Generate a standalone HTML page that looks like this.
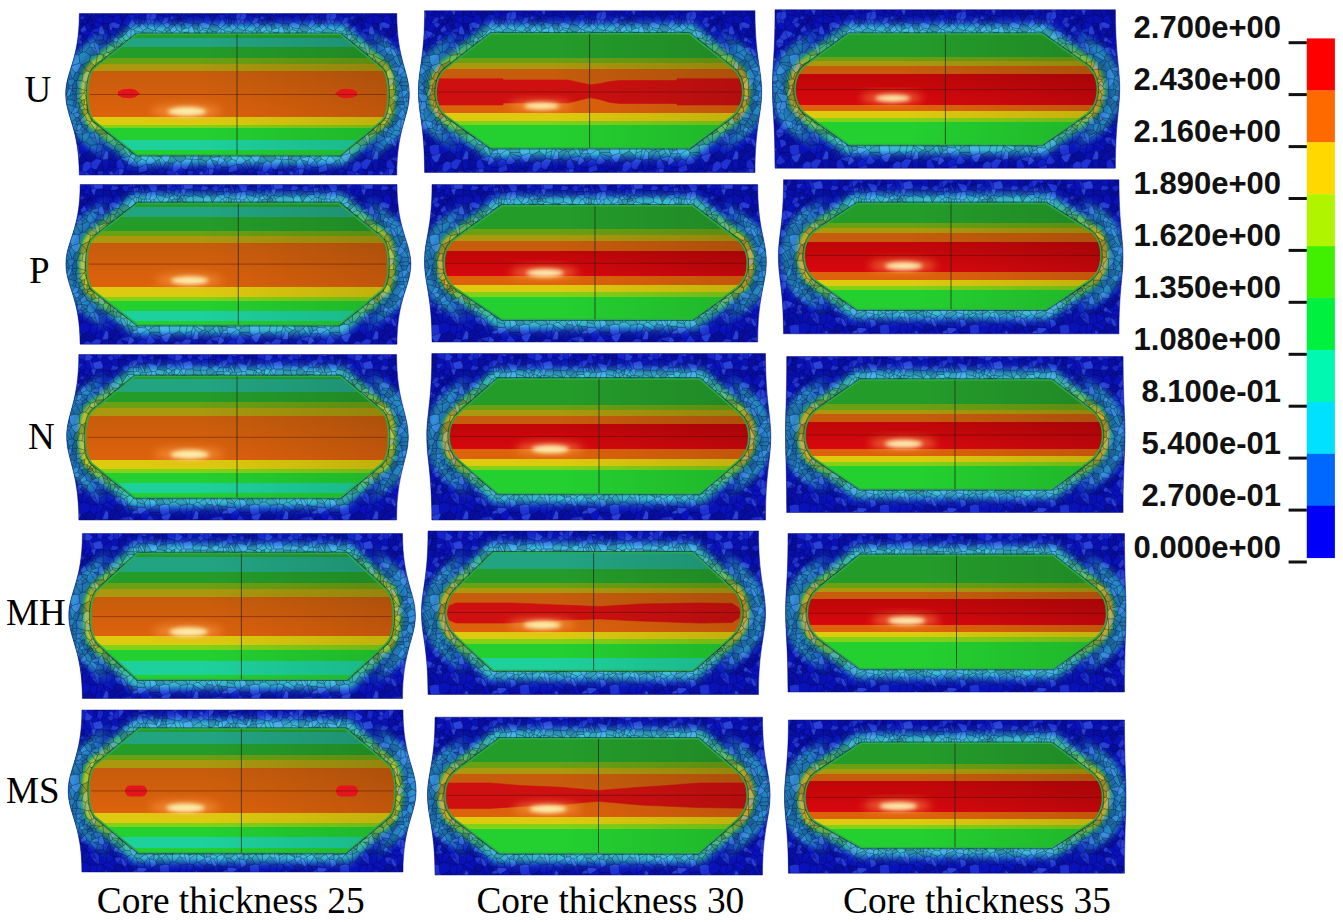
<!DOCTYPE html>
<html><head><meta charset="utf-8"><style>
html,body{margin:0;padding:0;background:#fff;}
body{width:1343px;height:922px;overflow:hidden;font-family:"Liberation Sans",sans-serif;}
svg{display:block;}
</style></head><body>
<svg width="1343" height="922" viewBox="0 0 1343 922">
<defs><pattern id="vor" patternUnits="userSpaceOnUse" width="90" height="90"><path d="M3.2,-3.2L-3.8,-8.1L-4.7,-7.6L-5.1,0.2L-4.8,0.7L-1.6,0.7L-0.2,0.6Z" fill="#5a8cff" fill-opacity="0.35"/><path d="M5.1,65.9L5.8,68.8L1.0,72.5L-3.1,70.9L-8.0,64.8L-0.6,61.1Z" fill="#000020" fill-opacity="0.27"/><path d="M-1.4,19.1L0.1,16.3L-3.0,15.2L-2.8,19.8L-2.6,20.1L-1.6,19.4Z" fill="#000020" fill-opacity="0.19"/><path d="M0.2,32.0L-3.1,30.2L-8.4,32.9L-8.7,34.3L-8.7,34.3L-2.0,35.3L0.2,32.9Z" fill="#000020" fill-opacity="0.02"/><path d="M-7.5,44.5L-7.7,52.2L-4.8,52.0L-0.4,46.2L0.4,43.3L-2.2,41.6L-7.3,44.2Z" fill="#000020" fill-opacity="0.09"/><path d="M-0.3,11.8L0.2,10.0L-3.6,8.0L-5.1,9.6L-5.7,14.4L-3.1,15.1Z" fill="#000020" fill-opacity="0.03"/><path d="M-4.8,90.7L-1.6,90.7L-0.2,90.6L3.2,86.8L-3.8,81.9L-4.7,82.4L-5.1,90.2Z" fill="#5a8cff" fill-opacity="0.35"/><path d="M-5.3,24.9L-5.3,25.3L-3.1,30.2L0.2,32.0L1.1,31.4L1.9,30.0L0.9,25.0L-2.7,23.0Z" fill="#000020" fill-opacity="0.12"/><path d="M-8.1,80.8L-6.9,73.9L-3.1,70.9L1.0,72.5L1.2,77.3L-3.8,81.9L-4.7,82.4Z" fill="#5a8cff" fill-opacity="0.28"/><path d="M0.1,16.3L0.7,16.2L1.3,15.4L-0.3,11.8L-3.1,15.1L-3.0,15.2Z" fill="#000020" fill-opacity="0.04"/><path d="M-10.2,63.1L-11.0,54.8L-9.2,52.9L-7.7,52.2L-4.8,52.0L0.6,55.5L-0.6,61.1L-8.0,64.8L-8.8,64.4Z" fill="#000020" fill-opacity="0.08"/><path d="M3.5,-3.4L6.5,-2.8L10.8,0.1L10.8,0.4L2.7,2.7L-0.2,0.6L3.2,-3.2Z" fill="#000020" fill-opacity="0.08"/><path d="M41.8,1.1L42.4,0.6L40.6,-4.6L39.6,-6.0L36.1,-2.7L35.3,-0.6L36.2,0.2L39.5,1.4Z" fill="#000020" fill-opacity="0.04"/><path d="M47.8,-4.1L46.4,-0.0L42.4,0.6L40.6,-4.6Z" fill="#000020" fill-opacity="0.24"/><path d="M10.8,0.4L13.1,5.5L20.5,1.6L20.8,1.1L16.8,-2.4L12.4,-2.7L10.8,0.1Z" fill="#000020" fill-opacity="0.12"/><path d="M6.6,-3.1L6.5,-2.8L10.8,0.1L12.4,-2.7L13.7,-8.9L13.7,-8.9L8.0,-9.6Z" fill="#5a8cff" fill-opacity="0.16"/><path d="M56.8,-2.9L58.6,-1.7L58.6,-1.2L56.5,2.8L56.5,2.8L55.8,3.0L53.7,2.9L52.0,-4.2Z" fill="#000020" fill-opacity="0.10"/><path d="M81.9,-9.2L85.3,-7.6L84.9,0.2L77.4,-2.0L76.3,-9.3L77.0,-9.4Z" fill="#5a8cff" fill-opacity="0.13"/><path d="M93.2,-3.2L86.2,-8.1L85.3,-7.6L84.9,0.2L85.2,0.7L88.4,0.7L89.8,0.6Z" fill="#5a8cff" fill-opacity="0.35"/><path d="M20.8,1.1L24.0,-1.4L22.8,-3.6L20.6,-4.8L16.8,-2.4Z" fill="#5a8cff" fill-opacity="0.26"/><path d="M66.5,4.6L69.0,-1.4L68.9,-1.6L64.2,-3.1L64.3,-2.0Z" fill="#000020" fill-opacity="0.19"/><path d="M64.3,-2.0L64.2,-3.1L62.1,-5.5L58.6,-1.7L58.6,-1.2L59.9,-0.5L63.2,0.2Z" fill="#5a8cff" fill-opacity="0.15"/><path d="M50.5,3.7L48.2,2.2L46.4,-0.0L47.8,-4.1L49.1,-6.6L50.1,-5.9L52.0,-4.2L53.7,2.9L51.3,3.6Z" fill="#5a8cff" fill-opacity="0.16"/><path d="M72.8,78.9L72.2,78.8L69.2,69.7L71.1,67.6L75.3,72.5Z" fill="#000020" fill-opacity="0.08"/><path d="M48.6,26.2L43.1,29.8L41.0,29.1L40.3,28.4L45.3,23.6L45.6,23.6L47.7,23.7Z" fill="#000020" fill-opacity="0.07"/><path d="M7.6,35.5L3.7,32.3L1.1,31.4L0.2,32.0L0.2,32.9L5.4,40.3L5.5,40.2Z" fill="#5a8cff" fill-opacity="0.09"/><path d="M38.2,5.5L34.7,5.1L36.2,0.2L39.5,1.4Z" fill="#000020" fill-opacity="0.21"/><path d="M-0.2,90.6L3.2,86.8L3.5,86.6L6.5,87.2L10.8,90.1L10.8,90.4L2.7,92.7Z" fill="#000020" fill-opacity="0.08"/><path d="M56.0,18.8L59.6,19.2L61.0,20.2L60.2,22.2L58.1,24.7Z" fill="#5a8cff" fill-opacity="0.29"/><path d="M42.4,90.6L41.8,91.1L39.5,91.4L36.2,90.2L35.3,89.4L36.1,87.3L39.6,84.0L40.6,85.4Z" fill="#000020" fill-opacity="0.04"/><path d="M77.0,80.6L79.5,73.9L83.1,73.9L81.9,80.8Z" fill="#000020" fill-opacity="0.09"/><path d="M31.5,43.9L37.5,46.5L41.6,44.4L39.9,40.9L34.4,40.2L32.4,42.4Z" fill="#000020" fill-opacity="0.04"/><path d="M61.6,11.5L61.9,11.6L65.5,11.5L67.2,9.2L67.4,7.1L66.5,4.9L66.0,4.7L56.5,2.8L56.5,2.8Z" fill="#5a8cff" fill-opacity="0.28"/><path d="M51.7,23.4L49.7,26.7L48.6,26.2L47.7,23.7L48.3,23.0L51.3,23.0Z" fill="#000020" fill-opacity="0.24"/><path d="M84.1,2.9L76.2,4.2L77.1,8.8L79.1,8.6Z" fill="#5a8cff" fill-opacity="0.23"/><path d="M62.3,83.6L58.0,80.5L57.9,80.4L56.7,74.5L60.9,74.6L65.3,81.3Z" fill="#000020" fill-opacity="0.18"/><path d="M21.8,79.7L21.7,80.8L18.5,83.1L14.7,81.0L17.2,79.0Z" fill="#000020" fill-opacity="0.07"/><path d="M84.6,2.6L85.2,0.7L84.9,0.2L77.4,-2.0L76.9,-1.6L76.0,2.3L75.9,3.9L76.2,4.2L84.1,2.9Z" fill="#000020" fill-opacity="0.09"/><path d="M66.5,4.6L64.3,-2.0L63.2,0.2L64.4,3.0L66.0,4.7L66.5,4.9Z" fill="#000020" fill-opacity="0.16"/><path d="M46.7,41.9L47.4,37.2L45.7,36.6L40.8,38.6L40.4,39.1L39.9,40.9L41.6,44.4L44.0,46.1L45.9,44.0Z" fill="#5a8cff" fill-opacity="0.38"/><path d="M17.8,29.8L19.4,32.7L20.0,30.9L18.9,23.8L18.5,23.7Z" fill="#000020" fill-opacity="0.09"/><path d="M75.7,27.5L73.2,23.8L71.4,23.1L65.2,30.1L65.2,30.2L71.6,31.9L74.9,29.6Z" fill="#000020" fill-opacity="0.08"/><path d="M11.8,60.9L10.5,69.4L11.7,69.9L12.0,69.8L15.6,60.1L13.4,56.5Z" fill="#000020" fill-opacity="0.07"/><path d="M39.6,66.4L39.9,66.3L43.8,69.3L44.2,69.7L44.6,70.9L39.7,75.1L37.7,74.9L37.8,71.9Z" fill="#5a8cff" fill-opacity="0.40"/><path d="M18.9,23.8L19.6,23.6L22.2,27.7L22.4,29.5L20.0,30.9Z" fill="#5a8cff" fill-opacity="0.39"/><path d="M75.8,43.5L75.8,44.2L71.9,48.2L69.0,47.0L68.6,45.4L73.1,43.2L75.6,43.1Z" fill="#000020" fill-opacity="0.09"/><path d="M45.1,17.2L42.9,18.8L45.3,23.6L45.6,23.6L47.1,17.5Z" fill="#000020" fill-opacity="0.08"/><path d="M3.2,86.8L-3.8,81.9L1.2,77.3L3.2,79.0L3.5,86.6Z" fill="#000020" fill-opacity="0.03"/><path d="M11.7,69.9L11.7,70.8L6.5,79.8L4.7,79.4L3.2,79.0L1.2,77.3L1.0,72.5L5.8,68.8L10.5,69.4Z" fill="#5a8cff" fill-opacity="0.27"/><path d="M33.2,83.1L28.6,88.4L28.2,89.7L33.5,89.4Z" fill="#000020" fill-opacity="0.04"/><path d="M36.1,87.3L33.5,82.7L34.1,78.8L34.1,78.8L39.8,82.5L39.6,84.0Z" fill="#000020" fill-opacity="0.16"/><path d="M48.6,17.4L51.8,19.2L51.3,23.0L48.3,23.0L48.5,17.5Z" fill="#000020" fill-opacity="0.21"/><path d="M70.0,62.5L69.2,55.7L66.5,54.8L60.9,58.3L58.8,60.4L59.6,62.4Z" fill="#000020" fill-opacity="0.19"/><path d="M59.3,37.9L63.7,40.4L63.5,43.8L56.0,42.6L55.8,41.6Z" fill="#5a8cff" fill-opacity="0.40"/><path d="M24.5,57.1L24.9,59.6L22.7,60.3L13.1,55.0L13.0,54.9L16.6,52.3L18.4,52.5Z" fill="#000020" fill-opacity="0.03"/><path d="M11.8,60.9L10.5,69.4L5.8,68.8L5.1,65.9L5.9,63.2Z" fill="#000020" fill-opacity="0.09"/><path d="M56.7,28.0L53.1,30.5L52.6,31.3L59.3,37.8L63.8,30.6L57.5,27.9Z" fill="#000020" fill-opacity="0.21"/><path d="M74.9,17.1L71.4,22.9L66.5,17.2L66.4,14.1L72.9,15.8Z" fill="#000020" fill-opacity="0.12"/><path d="M31.1,69.6L35.0,76.9L37.7,74.9L37.8,71.9Z" fill="#000020" fill-opacity="0.21"/><path d="M30.5,68.3L30.1,66.8L35.8,62.6L39.1,66.3Z" fill="#000020" fill-opacity="0.16"/><path d="M52.0,85.8L56.8,87.1L55.8,83.8L50.1,84.1Z" fill="#5a8cff" fill-opacity="0.32"/><path d="M91.0,72.5L95.8,68.8L95.1,65.9L89.4,61.1L82.0,64.8L86.9,70.9Z" fill="#000020" fill-opacity="0.27"/><path d="M74.5,10.5L67.2,9.2L65.5,11.5L66.4,14.1L72.9,15.8Z" fill="#000020" fill-opacity="0.12"/><path d="M67.3,80.6L63.5,73.2L60.9,74.6L65.3,81.3L67.2,80.7Z" fill="#000020" fill-opacity="0.13"/><path d="M33.7,48.9L36.8,47.3L37.7,55.3L37.4,55.4L37.0,55.5Z" fill="#5a8cff" fill-opacity="0.11"/><path d="M46.4,90.0L42.4,90.6L40.6,85.4L47.8,85.9Z" fill="#000020" fill-opacity="0.24"/><path d="M24.6,34.6L27.0,31.8L32.3,36.6L28.2,38.5L25.0,36.7Z" fill="#000020" fill-opacity="0.28"/><path d="M0.2,32.9L-2.0,35.3L-3.4,39.5L-2.2,41.6L0.4,43.3L4.0,42.0L4.8,41.4L5.4,40.3Z" fill="#000020" fill-opacity="0.04"/><path d="M62.3,83.6L62.1,84.5L58.6,88.3L56.8,87.1L55.8,83.8L58.0,80.5Z" fill="#000020" fill-opacity="0.09"/><path d="M80.2,30.0L80.2,29.7L84.7,25.3L86.9,30.2L81.6,32.9Z" fill="#5a8cff" fill-opacity="0.33"/><path d="M88.6,19.1L88.4,19.4L87.4,20.1L87.2,19.8L87.0,15.2L90.1,16.3Z" fill="#000020" fill-opacity="0.19"/><path d="M75.4,17.0L74.9,17.1L72.9,15.8L74.5,10.5L75.7,10.5L76.3,11.7Z" fill="#000020" fill-opacity="0.15"/><path d="M36.6,11.6L39.1,7.7L38.2,5.5L34.7,5.1L31.4,7.9L35.2,11.4L36.3,11.9Z" fill="#5a8cff" fill-opacity="0.14"/><path d="M75.1,80.4L72.8,78.9L75.3,72.5L77.9,71.8L79.5,73.9L77.0,80.6L76.3,80.7Z" fill="#000020" fill-opacity="0.22"/><path d="M17.0,43.4L16.6,52.3L13.0,54.9L9.2,54.0L9.4,48.9Z" fill="#000020" fill-opacity="0.11"/><path d="M24.7,47.6L23.3,40.9L23.1,40.8L20.3,41.5L17.5,43.2Z" fill="#000020" fill-opacity="0.25"/><path d="M48.1,11.3L50.6,13.3L53.1,12.2L49.8,6.2L48.5,7.4Z" fill="#000020" fill-opacity="0.21"/><path d="M75.7,27.5L73.2,23.8L77.4,22.3L80.2,24.3L78.0,27.8Z" fill="#5a8cff" fill-opacity="0.29"/><path d="M39.1,7.7L42.7,6.9L41.8,1.1L39.5,1.4L38.2,5.5Z" fill="#5a8cff" fill-opacity="0.13"/><path d="M-1.4,19.1L1.1,17.3L0.7,16.2L0.1,16.3Z" fill="#000020" fill-opacity="0.22"/><path d="M34.1,78.8L28.5,78.8L28.6,88.4L33.2,83.1L33.5,82.7Z" fill="#5a8cff" fill-opacity="0.36"/><path d="M77.3,40.8L82.6,44.1L82.7,44.2L82.5,44.5L75.8,43.5L75.6,43.1L76.1,41.3L76.6,41.0Z" fill="#5a8cff" fill-opacity="0.25"/><path d="M37.7,55.3L37.4,55.4L40.7,64.8L41.5,64.1L43.1,61.0L41.4,56.3L38.8,55.0Z" fill="#000020" fill-opacity="0.25"/><path d="M76.5,31.6L74.9,29.6L75.7,27.5L78.0,27.8L80.2,29.7L80.2,30.0Z" fill="#000020" fill-opacity="0.21"/><path d="M68.0,38.5L72.4,34.3L72.6,38.3L68.2,38.6Z" fill="#5a8cff" fill-opacity="0.11"/><path d="M51.7,69.2L50.2,66.0L50.2,64.3L57.2,59.8L58.8,60.4L59.6,62.4L59.8,63.4L59.7,64.7L56.1,70.9Z" fill="#000020" fill-opacity="0.03"/><path d="M46.9,59.8L48.1,63.3L47.9,63.4L41.5,64.1L43.1,61.0Z" fill="#5a8cff" fill-opacity="0.36"/><path d="M64.4,3.0L59.9,-0.5L63.2,0.2Z" fill="#5a8cff" fill-opacity="0.26"/><path d="M4.0,15.8L3.9,15.7L0.9,9.8L1.9,9.3L3.9,8.6L6.2,9.2L4.4,15.5Z" fill="#5a8cff" fill-opacity="0.39"/><path d="M13.4,22.9L12.9,15.8L13.4,14.2L23.0,17.7L23.4,18.0L23.6,21.8L19.6,23.6L18.9,23.8L18.5,23.7Z" fill="#000020" fill-opacity="0.13"/><path d="M3.9,17.6L5.6,18.7L6.1,22.0L4.3,22.4L2.8,20.7L2.6,18.8Z" fill="#000020" fill-opacity="0.14"/><path d="M57.9,80.4L49.0,83.0L48.3,81.5L48.4,77.8L56.6,74.4L56.7,74.5Z" fill="#5a8cff" fill-opacity="0.24"/><path d="M32.2,31.4L29.1,27.9L28.6,28.6L27.1,31.3L27.0,31.8L32.3,36.6L32.5,36.7L33.2,35.8Z" fill="#000020" fill-opacity="0.22"/><path d="M39.6,66.4L39.9,66.3L40.7,64.8L37.4,55.4L37.0,55.5L34.5,56.7L33.3,58.7L35.8,62.6L39.1,66.3Z" fill="#000020" fill-opacity="0.09"/><path d="M75.1,80.4L72.8,78.9L72.2,78.8L69.5,79.4L67.3,80.6L67.2,80.7L69.2,86.2L72.5,85.2Z" fill="#000020" fill-opacity="0.13"/><path d="M28.5,61.9L33.3,58.7L35.8,62.6L30.1,66.8Z" fill="#000020" fill-opacity="0.15"/><path d="M30.4,68.6L26.3,71.5L26.4,77.1L27.5,78.4L28.5,78.8L34.1,78.8L34.1,78.8L35.0,76.9L31.1,69.6Z" fill="#5a8cff" fill-opacity="0.17"/><path d="M21.8,79.7L17.2,79.0L19.3,75.7L24.7,77.3Z" fill="#000020" fill-opacity="0.21"/><path d="M39.9,66.3L40.7,64.8L41.5,64.1L47.9,63.4L43.8,69.3Z" fill="#000020" fill-opacity="0.06"/><path d="M53.1,30.5L52.6,31.3L51.9,32.0L44.6,30.8L43.1,29.8L48.6,26.2L49.7,26.7Z" fill="#000020" fill-opacity="0.09"/><path d="M41.8,1.1L42.4,0.6L46.4,-0.0L48.2,2.2L43.8,7.3L43.3,7.4L42.7,6.9Z" fill="#5a8cff" fill-opacity="0.26"/><path d="M5.3,48.4L4.0,42.0L0.4,43.3L-0.4,46.2L0.7,47.1Z" fill="#5a8cff" fill-opacity="0.11"/><path d="M48.2,77.5L41.9,77.1L39.7,75.1L44.6,70.9L46.7,72.7Z" fill="#000020" fill-opacity="0.08"/><path d="M7.7,54.2L7.7,54.3L7.5,54.5L0.6,55.5L-4.8,52.0L-0.4,46.2L0.7,47.1Z" fill="#000020" fill-opacity="0.18"/><path d="M44.4,47.0L46.2,48.2L47.4,52.4L46.9,56.4L41.4,56.3L38.8,55.0Z" fill="#000020" fill-opacity="0.08"/><path d="M63.7,49.8L64.2,44.6L67.8,44.6L68.6,45.4L69.0,47.0L65.9,51.7Z" fill="#000020" fill-opacity="0.12"/><path d="M45.9,44.0L44.0,46.1L44.4,47.0L46.2,48.2L50.3,48.1L55.9,43.9L56.0,42.6L55.8,41.6L54.5,40.9Z" fill="#000020" fill-opacity="0.19"/><path d="M55.8,18.7L54.6,19.2L53.8,24.3L56.7,28.0L57.5,27.9L58.1,24.7L56.0,18.8Z" fill="#000020" fill-opacity="0.06"/><path d="M47.6,57.4L46.9,59.8L48.1,63.3L50.2,64.3L57.2,59.8L55.5,57.9Z" fill="#5a8cff" fill-opacity="0.38"/><path d="M20.8,91.1L16.8,87.6L12.4,87.3L10.8,90.1L10.8,90.4L13.1,95.5L20.5,91.6Z" fill="#000020" fill-opacity="0.12"/><path d="M69.2,86.2L67.2,80.7L65.3,81.3L62.3,83.6L62.1,84.5L64.2,86.9L68.9,88.4Z" fill="#000020" fill-opacity="0.26"/><path d="M23.3,40.9L26.0,42.1L27.5,41.7L28.3,39.0L28.2,38.5L25.0,36.7L23.1,40.8Z" fill="#5a8cff" fill-opacity="0.36"/><path d="M20.8,1.1L24.0,-1.4L28.2,-0.3L28.9,6.7L22.2,5.1L20.5,1.6Z" fill="#000020" fill-opacity="0.08"/><path d="M-2.7,23.0L0.9,25.0L3.4,23.6L4.3,22.4L2.8,20.7L-2.4,21.8Z" fill="#000020" fill-opacity="0.15"/><path d="M78.6,13.1L76.3,11.7L75.4,17.0L79.3,18.1L79.7,17.4Z" fill="#000020" fill-opacity="0.09"/><path d="M60.2,22.2L63.9,24.0L64.1,19.5L61.0,20.2Z" fill="#5a8cff" fill-opacity="0.28"/><path d="M3.9,17.6L4.0,15.8L4.4,15.5L9.8,16.3L5.6,18.7Z" fill="#000020" fill-opacity="0.10"/><path d="M55.9,43.9L56.0,42.6L63.5,43.8L63.9,44.4L58.6,48.4L58.2,48.2Z" fill="#5a8cff" fill-opacity="0.31"/><path d="M46.7,41.9L52.2,38.2L54.5,40.9L45.9,44.0Z" fill="#5a8cff" fill-opacity="0.32"/><path d="M24.7,47.6L25.0,47.9L26.3,47.2L26.0,42.1L23.3,40.9Z" fill="#000020" fill-opacity="0.03"/><path d="M79.7,17.4L79.3,18.1L79.3,18.2L81.6,19.9L84.7,18.8L82.9,15.3Z" fill="#5a8cff" fill-opacity="0.20"/><path d="M63.9,24.0L65.2,30.1L71.4,23.1L71.4,22.9L66.5,17.2L64.1,19.5Z" fill="#000020" fill-opacity="0.10"/><path d="M13.1,27.8L17.8,29.8L18.5,23.7L13.4,22.9L12.6,23.8L12.0,25.2Z" fill="#000020" fill-opacity="0.26"/><path d="M8.0,80.4L13.7,81.1L13.7,81.1L12.4,87.3L10.8,90.1L6.5,87.2L6.6,86.9Z" fill="#5a8cff" fill-opacity="0.16"/><path d="M36.3,11.9L35.2,11.4L29.9,16.0L32.3,22.4L37.1,15.2L37.1,14.9Z" fill="#000020" fill-opacity="0.28"/><path d="M-3.6,8.0L-5.4,2.6L-4.8,0.7L-1.6,0.7L1.9,9.3L0.9,9.8L0.2,10.0Z" fill="#000020" fill-opacity="0.04"/><path d="M15.9,41.8L16.5,42.8L17.0,43.2L17.5,43.2L20.3,41.5L20.7,34.1L19.4,33.5Z" fill="#000020" fill-opacity="0.22"/><path d="M58.6,88.8L58.6,88.3L56.8,87.1L52.0,85.8L53.7,92.9L55.8,93.0L56.5,92.8L56.5,92.8Z" fill="#000020" fill-opacity="0.10"/><path d="M79.3,18.2L77.4,22.3L80.2,24.3L83.1,24.1L81.6,19.9Z" fill="#000020" fill-opacity="0.20"/><path d="M58.0,80.5L55.8,83.8L50.1,84.1L49.1,83.4L49.0,83.0L57.9,80.4Z" fill="#000020" fill-opacity="0.23"/><path d="M6.5,79.8L11.7,70.8L13.7,81.1L8.0,80.4Z" fill="#000020" fill-opacity="0.22"/><path d="M30.4,68.6L31.1,69.6L37.8,71.9L39.6,66.4L39.1,66.3L30.5,68.3Z" fill="#5a8cff" fill-opacity="0.23"/><path d="M26.9,53.8L32.6,55.1L34.5,56.7L33.3,58.7L28.5,61.9L26.5,61.1L24.9,59.6L24.5,57.1Z" fill="#000020" fill-opacity="0.24"/><path d="M43.9,12.0L46.5,11.3L46.0,7.8L43.8,7.3L43.3,7.4L43.5,11.6Z" fill="#5a8cff" fill-opacity="0.26"/><path d="M72.2,78.8L69.2,69.7L65.5,71.0L65.3,71.6L69.5,79.4Z" fill="#000020" fill-opacity="0.18"/><path d="M41.0,29.1L40.8,38.6L45.7,36.6L44.6,30.8L43.1,29.8Z" fill="#5a8cff" fill-opacity="0.35"/><path d="M81.3,34.3L81.3,34.3L88.0,35.3L90.2,32.9L90.2,32.0L86.9,30.2L81.6,32.9Z" fill="#000020" fill-opacity="0.02"/><path d="M77.3,40.8L80.0,39.9L82.0,36.7L81.3,34.3L81.3,34.3L77.5,35.0L76.6,41.0Z" fill="#5a8cff" fill-opacity="0.25"/><path d="M36.7,32.1L32.2,31.4L33.2,35.8L35.8,33.9Z" fill="#000020" fill-opacity="0.14"/><path d="M12.0,25.2L8.9,27.9L6.0,28.2L3.4,23.6L4.3,22.4L6.1,22.0L12.6,23.8Z" fill="#000020" fill-opacity="0.03"/><path d="M20.5,1.6L22.2,5.1L20.3,10.2L20.2,10.2L13.6,10.1L12.8,8.7L13.1,5.5Z" fill="#000020" fill-opacity="0.12"/><path d="M46.7,41.9L47.4,37.2L51.0,36.2L52.2,38.2Z" fill="#5a8cff" fill-opacity="0.15"/><path d="M1.3,15.4L3.9,15.7L0.9,9.8L0.2,10.0L-0.3,11.8Z" fill="#000020" fill-opacity="0.06"/><path d="M81.0,12.4L81.4,10.3L84.9,9.6L84.3,14.4L83.2,14.9Z" fill="#000020" fill-opacity="0.24"/><path d="M35.3,89.4L33.5,89.4L33.2,83.1L33.5,82.7L36.1,87.3Z" fill="#000020" fill-opacity="0.13"/><path d="M13.6,39.7L5.5,40.2L7.6,35.5L9.0,34.0L13.2,34.9Z" fill="#000020" fill-opacity="0.09"/><path d="M70.0,5.4L73.4,4.1L72.5,0.3L72.0,-0.6Z" fill="#000020" fill-opacity="0.18"/><path d="M6.5,79.8L8.0,80.4L6.6,86.9L4.7,79.4Z" fill="#000020" fill-opacity="0.28"/><path d="M58.1,24.7L60.2,22.2L63.9,24.0L65.2,30.1L65.2,30.2L64.9,30.4L63.8,30.6L57.5,27.9Z" fill="#000020" fill-opacity="0.03"/><path d="M37.8,25.7L41.7,19.1L42.9,18.8L45.3,23.6L40.3,28.4L40.2,28.4Z" fill="#5a8cff" fill-opacity="0.28"/><path d="M76.3,80.7L77.0,80.6L81.9,80.8L85.3,82.4L84.9,90.2L77.4,88.0Z" fill="#5a8cff" fill-opacity="0.13"/><path d="M9.4,48.9L9.2,54.0L7.7,54.3L7.7,54.2L5.3,48.4L4.0,42.0L4.8,41.4L8.9,45.4Z" fill="#5a8cff" fill-opacity="0.22"/><path d="M13.6,39.7L13.2,34.9L14.9,33.0L19.2,33.3L19.4,33.5L15.9,41.8Z" fill="#000020" fill-opacity="0.06"/><path d="M72.1,65.6L70.0,62.5L59.6,62.4L59.8,63.4L71.2,67.2Z" fill="#000020" fill-opacity="0.18"/><path d="M13.1,27.8L14.9,33.0L19.2,33.3L19.4,32.7L17.8,29.8Z" fill="#000020" fill-opacity="0.19"/><path d="M36.7,32.1L40.2,28.4L40.3,28.4L41.0,29.1L40.8,38.6L40.4,39.1L35.8,33.9Z" fill="#5a8cff" fill-opacity="0.28"/><path d="M65.3,71.6L63.5,73.2L60.9,74.6L56.7,74.5L56.6,74.4L56.1,70.9L59.7,64.7L65.5,71.0Z" fill="#5a8cff" fill-opacity="0.22"/><path d="M28.3,39.0L32.4,42.4L34.4,40.2L32.5,36.7L32.3,36.6L28.2,38.5Z" fill="#000020" fill-opacity="0.04"/><path d="M9.0,34.0L8.6,32.1L3.7,32.3L7.6,35.5Z" fill="#000020" fill-opacity="0.22"/><path d="M82.5,44.5L82.3,52.2L85.2,52.0L89.6,46.2L90.4,43.3L87.8,41.6L82.7,44.2Z" fill="#000020" fill-opacity="0.09"/><path d="M47.6,57.4L55.5,57.9L54.5,54.3L47.4,52.4L46.9,56.4Z" fill="#000020" fill-opacity="0.11"/><path d="M48.4,77.8L56.6,74.4L56.1,70.9L51.7,69.2L46.7,72.7L48.2,77.5Z" fill="#5a8cff" fill-opacity="0.07"/><path d="M22.4,29.5L22.2,27.7L28.6,28.6L27.1,31.3Z" fill="#000020" fill-opacity="0.11"/><path d="M75.8,43.5L75.8,44.2L80.8,52.9L82.3,52.2L82.5,44.5Z" fill="#000020" fill-opacity="0.13"/><path d="M84.9,9.6L86.4,8.0L90.2,10.0L89.7,11.8L86.9,15.1L84.3,14.4Z" fill="#000020" fill-opacity="0.03"/><path d="M67.8,44.6L68.4,39.6L73.1,43.2L68.6,45.4Z" fill="#000020" fill-opacity="0.13"/><path d="M48.4,77.8L48.3,81.5L39.9,82.4L41.9,77.1L48.2,77.5Z" fill="#000020" fill-opacity="0.19"/><path d="M17.0,43.4L9.4,48.9L8.9,45.4L16.5,42.8L17.0,43.2Z" fill="#000020" fill-opacity="0.04"/><path d="M19.4,32.7L19.2,33.3L19.4,33.5L20.7,34.1L24.6,34.6L27.0,31.8L27.1,31.3L22.4,29.5L20.0,30.9Z" fill="#000020" fill-opacity="0.08"/><path d="M72.4,34.3L72.7,33.3L75.8,34.6L72.8,38.4L72.6,38.3Z" fill="#5a8cff" fill-opacity="0.25"/><path d="M66.5,4.6L69.0,-1.4L72.0,-0.9L72.0,-0.6L70.0,5.4L67.4,7.1L66.5,4.9Z" fill="#5a8cff" fill-opacity="0.11"/><path d="M88.4,90.7L85.2,90.7L84.9,90.2L85.3,82.4L86.2,81.9L93.2,86.8L89.8,90.6Z" fill="#5a8cff" fill-opacity="0.35"/><path d="M61.0,20.2L59.6,19.2L61.9,11.6L65.5,11.5L66.4,14.1L66.5,17.2L64.1,19.5Z" fill="#5a8cff" fill-opacity="0.34"/><path d="M55.8,18.7L56.5,12.9L61.6,11.5L61.9,11.6L59.6,19.2L56.0,18.8Z" fill="#5a8cff" fill-opacity="0.30"/><path d="M29.0,7.2L31.4,7.9L34.7,5.1L36.2,0.2L35.3,-0.6L33.5,-0.6L28.2,-0.3L28.2,-0.3L28.9,6.7Z" fill="#000020" fill-opacity="0.24"/><path d="M4.4,15.5L6.2,9.2L12.8,8.7L13.6,10.1L13.4,14.2L12.9,15.8L9.8,16.3Z" fill="#000020" fill-opacity="0.18"/><path d="M12.0,69.8L18.0,69.4L19.3,75.7L17.2,79.0L14.7,81.0L13.7,81.1L13.7,81.1L11.7,70.8L11.7,69.9Z" fill="#000020" fill-opacity="0.13"/><path d="M26.3,71.5L20.8,69.2L18.3,69.2L18.0,69.4L19.3,75.7L24.7,77.3L26.4,77.1Z" fill="#000020" fill-opacity="0.21"/><path d="M2.7,2.7L3.9,8.6L1.9,9.3L-1.6,0.7L-0.2,0.6Z" fill="#5a8cff" fill-opacity="0.20"/><path d="M3.5,86.6L6.5,87.2L6.6,86.9L4.7,79.4L3.2,79.0Z" fill="#000020" fill-opacity="0.04"/><path d="M75.9,3.9L73.4,4.1L72.5,0.3L76.0,2.3Z" fill="#000020" fill-opacity="0.12"/><path d="M87.4,20.1L87.6,21.8L87.3,23.0L84.7,24.9L83.1,24.1L81.6,19.9L84.7,18.8L87.2,19.8Z" fill="#000020" fill-opacity="0.23"/><path d="M26.9,53.4L24.7,48.9L18.4,52.5L24.5,57.1L26.9,53.8Z" fill="#000020" fill-opacity="0.11"/><path d="M22.8,86.4L24.0,88.6L20.8,91.1L16.8,87.6L20.6,85.2Z" fill="#5a8cff" fill-opacity="0.26"/><path d="M30.7,49.9L31.1,48.1L33.7,48.9L37.0,55.5L34.5,56.7L32.6,55.1Z" fill="#5a8cff" fill-opacity="0.35"/><path d="M53.8,24.3L51.7,23.4L49.7,26.7L53.1,30.5L56.7,28.0Z" fill="#5a8cff" fill-opacity="0.36"/><path d="M69.0,88.6L66.5,94.6L64.3,88.0L64.2,86.9L68.9,88.4Z" fill="#000020" fill-opacity="0.19"/><path d="M51.3,3.6L53.7,2.9L55.8,3.0L54.7,11.2Z" fill="#000020" fill-opacity="0.24"/><path d="M72.1,65.6L79.8,63.1L79.0,54.8L74.7,54.2L69.2,55.7L70.0,62.5Z" fill="#5a8cff" fill-opacity="0.24"/><path d="M47.6,57.4L46.9,59.8L43.1,61.0L41.4,56.3L46.9,56.4Z" fill="#000020" fill-opacity="0.21"/><path d="M29.1,27.9L30.2,24.5L23.6,21.8L19.6,23.6L22.2,27.7L28.6,28.6Z" fill="#5a8cff" fill-opacity="0.35"/><path d="M46.0,7.8L43.8,7.3L48.2,2.2L50.5,3.7L49.8,6.2L48.5,7.4Z" fill="#000020" fill-opacity="0.22"/><path d="M55.8,18.7L56.5,12.9L54.7,12.1L53.1,12.2L50.6,13.3L48.6,17.4L51.8,19.2L54.6,19.2Z" fill="#000020" fill-opacity="0.17"/><path d="M27.5,78.4L23.7,83.6L21.7,80.8L21.8,79.7L24.7,77.3L26.4,77.1Z" fill="#000020" fill-opacity="0.08"/><path d="M54.6,19.2L51.8,19.2L51.3,23.0L51.7,23.4L53.8,24.3Z" fill="#000020" fill-opacity="0.09"/><path d="M59.9,89.5L58.6,88.8L58.6,88.3L62.1,84.5L64.2,86.9L64.3,88.0L63.2,90.2Z" fill="#5a8cff" fill-opacity="0.15"/><path d="M79.5,73.9L77.9,71.8L81.2,64.4L82.0,64.8L86.9,70.9L83.1,73.9Z" fill="#000020" fill-opacity="0.25"/><path d="M26.9,53.4L30.7,49.9L32.6,55.1L26.9,53.8Z" fill="#5a8cff" fill-opacity="0.09"/><path d="M50.5,3.7L49.8,6.2L53.1,12.2L54.7,12.1L54.7,11.2L51.3,3.6Z" fill="#5a8cff" fill-opacity="0.10"/><path d="M63.7,49.8L59.4,49.0L58.6,48.4L63.9,44.4L64.2,44.6Z" fill="#000020" fill-opacity="0.20"/><path d="M44.2,69.7L50.2,66.0L50.2,64.3L48.1,63.3L47.9,63.4L43.8,69.3Z" fill="#000020" fill-opacity="0.12"/><path d="M12.6,23.8L6.1,22.0L5.6,18.7L9.8,16.3L12.9,15.8L13.4,22.9Z" fill="#000020" fill-opacity="0.10"/><path d="M91.1,31.4L91.9,30.0L90.9,25.0L87.3,23.0L84.7,24.9L84.7,25.3L86.9,30.2L90.2,32.0Z" fill="#000020" fill-opacity="0.12"/><path d="M20.3,10.2L26.5,10.1L29.0,7.2L28.9,6.7L22.2,5.1Z" fill="#5a8cff" fill-opacity="0.27"/><path d="M26.3,47.2L30.3,46.9L31.1,48.1L30.7,49.9L26.9,53.4L24.7,48.9L25.0,47.9Z" fill="#5a8cff" fill-opacity="0.28"/><path d="M1.9,30.0L0.9,25.0L3.4,23.6L6.0,28.2Z" fill="#000020" fill-opacity="0.27"/><path d="M20.3,10.2L20.2,10.2L23.0,17.7L23.4,18.0L26.9,14.1L26.5,10.1Z" fill="#000020" fill-opacity="0.17"/><path d="M72.0,89.1L69.0,88.6L68.9,88.4L69.2,86.2L72.5,85.2L72.7,88.5Z" fill="#000020" fill-opacity="0.14"/><path d="M80.0,39.9L82.0,36.7L85.5,39.2L81.9,41.2Z" fill="#000020" fill-opacity="0.12"/><path d="M8.9,27.9L6.0,28.2L1.9,30.0L1.1,31.4L3.7,32.3L8.6,32.1Z" fill="#5a8cff" fill-opacity="0.13"/><path d="M51.0,36.2L51.9,32.0L44.6,30.8L45.7,36.6L47.4,37.2Z" fill="#5a8cff" fill-opacity="0.22"/><path d="M65.5,71.0L59.7,64.7L59.8,63.4L71.2,67.2L71.1,67.6L69.2,69.7Z" fill="#000020" fill-opacity="0.13"/><path d="M77.3,40.8L80.0,39.9L81.9,41.2L82.6,44.1Z" fill="#5a8cff" fill-opacity="0.39"/><path d="M22.8,86.4L20.6,85.2L18.5,83.1L21.7,80.8L23.7,83.6Z" fill="#5a8cff" fill-opacity="0.37"/><path d="M78.6,13.1L76.3,11.7L75.7,10.5L77.1,8.8L79.1,8.6L81.4,10.3L81.0,12.4Z" fill="#000020" fill-opacity="0.04"/><path d="M13.4,56.5L15.6,60.1L18.7,62.8L22.7,60.3L13.1,55.0Z" fill="#000020" fill-opacity="0.13"/><path d="M72.7,88.5L72.5,85.2L75.1,80.4L76.3,80.7L77.4,88.0L76.9,88.4Z" fill="#000020" fill-opacity="0.25"/><path d="M0.7,16.2L1.1,17.3L2.0,18.6L2.6,18.8L3.9,17.6L4.0,15.8L3.9,15.7L1.3,15.4Z" fill="#000020" fill-opacity="0.08"/><path d="M44.0,46.1L41.6,44.4L37.5,46.5L36.8,47.3L37.7,55.3L38.8,55.0L44.4,47.0Z" fill="#000020" fill-opacity="0.02"/><path d="M69.2,55.7L74.7,54.2L71.9,48.2L69.0,47.0L65.9,51.7L66.5,54.8Z" fill="#000020" fill-opacity="0.26"/><path d="M48.5,17.5L48.3,23.0L47.7,23.7L45.6,23.6L47.1,17.5Z" fill="#5a8cff" fill-opacity="0.06"/><path d="M54.5,54.3L54.6,52.7L58.2,48.2L58.6,48.4L59.4,49.0L60.9,58.3L58.8,60.4L57.2,59.8L55.5,57.9Z" fill="#000020" fill-opacity="0.09"/><path d="M82.9,15.3L84.7,18.8L87.2,19.8L87.0,15.2L86.9,15.1L84.3,14.4L83.2,14.9Z" fill="#000020" fill-opacity="0.09"/><path d="M13.1,27.8L14.9,33.0L13.2,34.9L9.0,34.0L8.6,32.1L8.9,27.9L12.0,25.2Z" fill="#5a8cff" fill-opacity="0.35"/><path d="M27.5,41.7L31.4,44.0L31.5,43.9L32.4,42.4L28.3,39.0Z" fill="#5a8cff" fill-opacity="0.28"/><path d="M15.6,60.1L18.7,62.8L18.3,69.2L18.0,69.4L12.0,69.8Z" fill="#5a8cff" fill-opacity="0.39"/><path d="M72.0,-0.9L72.7,-1.5L76.9,-1.6L76.0,2.3L72.5,0.3L72.0,-0.6Z" fill="#000020" fill-opacity="0.20"/><path d="M81.4,10.3L79.1,8.6L84.1,2.9L84.6,2.6L86.4,8.0L84.9,9.6Z" fill="#000020" fill-opacity="0.05"/><path d="M26.3,47.2L30.3,46.9L31.4,44.0L27.5,41.7L26.0,42.1Z" fill="#000020" fill-opacity="0.16"/><path d="M32.1,23.6L32.3,22.4L37.1,15.2L41.7,19.1L37.8,25.7Z" fill="#000020" fill-opacity="0.07"/><path d="M69.5,79.4L67.3,80.6L63.5,73.2L65.3,71.6Z" fill="#000020" fill-opacity="0.09"/><path d="M13.4,14.2L23.0,17.7L20.2,10.2L13.6,10.1Z" fill="#000020" fill-opacity="0.23"/><path d="M44.0,14.4L45.1,17.2L47.1,17.5L48.5,17.5L48.6,17.4L50.6,13.3L48.1,11.3L46.5,11.3L43.9,12.0Z" fill="#000020" fill-opacity="0.06"/><path d="M81.9,80.8L85.3,82.4L86.2,81.9L91.2,77.3L91.0,72.5L86.9,70.9L83.1,73.9Z" fill="#5a8cff" fill-opacity="0.28"/><path d="M76.6,41.0L77.5,35.0L76.7,34.6L75.8,34.6L72.8,38.4L76.1,41.3Z" fill="#000020" fill-opacity="0.16"/><path d="M68.0,38.5L68.0,38.5L64.9,30.4L65.2,30.2L71.6,31.9L72.7,33.3L72.4,34.3Z" fill="#5a8cff" fill-opacity="0.37"/><path d="M36.6,11.6L39.1,7.7L42.7,6.9L43.3,7.4L43.5,11.6Z" fill="#000020" fill-opacity="0.10"/><path d="M5.9,63.2L5.1,65.9L-0.6,61.1L0.6,55.5L7.5,54.5Z" fill="#000020" fill-opacity="0.05"/><path d="M20.6,85.2L16.8,87.6L12.4,87.3L13.7,81.1L14.7,81.0L18.5,83.1Z" fill="#000020" fill-opacity="0.07"/><path d="M47.4,52.4L46.2,48.2L50.3,48.1L54.6,52.7L54.5,54.3Z" fill="#000020" fill-opacity="0.18"/><path d="M80.2,29.7L84.7,25.3L84.7,24.9L83.1,24.1L80.2,24.3L78.0,27.8Z" fill="#000020" fill-opacity="0.22"/><path d="M-1.6,19.4L2.0,18.6L2.6,18.8L2.8,20.7L-2.4,21.8L-2.6,20.1Z" fill="#000020" fill-opacity="0.27"/><path d="M36.6,11.6L43.5,11.6L43.9,12.0L44.0,14.4L37.1,14.9L36.3,11.9Z" fill="#000020" fill-opacity="0.20"/><path d="M30.4,68.6L26.3,71.5L20.8,69.2L26.5,61.1L28.5,61.9L30.1,66.8L30.5,68.3Z" fill="#000020" fill-opacity="0.21"/><path d="M36.7,32.1L40.2,28.4L37.8,25.7L32.1,23.6L30.2,24.5L29.1,27.9L32.2,31.4Z" fill="#000020" fill-opacity="0.26"/><path d="M24.7,47.6L25.0,47.9L24.7,48.9L18.4,52.5L16.6,52.3L17.0,43.4L17.0,43.2L17.5,43.2Z" fill="#000020" fill-opacity="0.05"/><path d="M90.7,16.2L91.3,15.4L89.7,11.8L86.9,15.1L87.0,15.2L90.1,16.3Z" fill="#000020" fill-opacity="0.04"/><path d="M75.3,72.5L71.1,67.6L71.2,67.2L72.1,65.6L79.8,63.1L81.2,64.4L77.9,71.8Z" fill="#5a8cff" fill-opacity="0.37"/><path d="M50.3,48.1L55.9,43.9L58.2,48.2L54.6,52.7Z" fill="#000020" fill-opacity="0.08"/><path d="M46.5,11.3L46.0,7.8L48.5,7.4L48.1,11.3Z" fill="#5a8cff" fill-opacity="0.34"/><path d="M50.5,93.7L48.2,92.2L46.4,90.0L47.8,85.9L49.1,83.4L50.1,84.1L52.0,85.8L53.7,92.9L51.3,93.6Z" fill="#5a8cff" fill-opacity="0.16"/><path d="M68.0,38.5L68.0,38.5L63.7,40.4L63.5,43.8L63.9,44.4L64.2,44.6L67.8,44.6L68.4,39.6L68.2,38.6Z" fill="#000020" fill-opacity="0.06"/><path d="M37.7,74.9L35.0,76.9L34.1,78.8L39.8,82.5L39.9,82.4L41.9,77.1L39.7,75.1Z" fill="#000020" fill-opacity="0.06"/><path d="M-1.4,19.1L1.1,17.3L2.0,18.6L-1.6,19.4Z" fill="#000020" fill-opacity="0.19"/><path d="M81.2,64.4L79.8,63.1L79.0,54.8L80.8,52.9L82.3,52.2L85.2,52.0L90.6,55.5L89.4,61.1L82.0,64.8Z" fill="#000020" fill-opacity="0.08"/><path d="M74.7,54.2L71.9,48.2L75.8,44.2L80.8,52.9L79.0,54.8Z" fill="#000020" fill-opacity="0.17"/><path d="M5.3,48.4L0.7,47.1L7.7,54.2Z" fill="#5a8cff" fill-opacity="0.37"/><path d="M54.7,12.1L56.5,12.9L61.6,11.5L56.5,2.8L55.8,3.0L54.7,11.2Z" fill="#000020" fill-opacity="0.18"/><path d="M47.8,85.9L49.1,83.4L49.0,83.0L48.3,81.5L39.9,82.4L39.8,82.5L39.6,84.0L40.6,85.4Z" fill="#000020" fill-opacity="0.19"/><path d="M2.7,2.7L3.9,8.6L6.2,9.2L12.8,8.7L13.1,5.5L10.8,0.4Z" fill="#5a8cff" fill-opacity="0.39"/><path d="M9.2,54.0L7.7,54.3L7.5,54.5L5.9,63.2L11.8,60.9L13.4,56.5L13.1,55.0L13.0,54.9Z" fill="#000020" fill-opacity="0.04"/><path d="M78.6,13.1L79.7,17.4L82.9,15.3L83.2,14.9L81.0,12.4Z" fill="#000020" fill-opacity="0.14"/><path d="M75.4,17.0L74.9,17.1L71.4,22.9L71.4,23.1L73.2,23.8L77.4,22.3L79.3,18.2L79.3,18.1Z" fill="#5a8cff" fill-opacity="0.24"/><path d="M46.7,72.7L44.6,70.9L44.2,69.7L50.2,66.0L51.7,69.2Z" fill="#000020" fill-opacity="0.21"/><path d="M13.6,39.7L5.5,40.2L5.4,40.3L4.8,41.4L8.9,45.4L16.5,42.8L15.9,41.8Z" fill="#000020" fill-opacity="0.27"/><path d="M77.5,35.0L81.3,34.3L81.6,32.9L80.2,30.0L76.5,31.6L76.7,34.6Z" fill="#000020" fill-opacity="0.20"/><path d="M76.1,41.3L72.8,38.4L72.6,38.3L68.2,38.6L68.4,39.6L73.1,43.2L75.6,43.1Z" fill="#000020" fill-opacity="0.14"/><path d="M85.5,39.2L86.6,39.5L88.0,35.3L81.3,34.3L82.0,36.7Z" fill="#000020" fill-opacity="0.20"/><path d="M75.7,10.5L77.1,8.8L76.2,4.2L75.9,3.9L73.4,4.1L70.0,5.4L67.4,7.1L67.2,9.2L74.5,10.5Z" fill="#000020" fill-opacity="0.26"/><path d="M26.5,10.1L26.9,14.1L29.9,16.0L35.2,11.4L31.4,7.9L29.0,7.2Z" fill="#000020" fill-opacity="0.26"/><path d="M35.8,33.9L40.4,39.1L39.9,40.9L34.4,40.2L32.5,36.7L33.2,35.8Z" fill="#000020" fill-opacity="0.03"/><path d="M20.3,41.5L20.7,34.1L24.6,34.6L25.0,36.7L23.1,40.8Z" fill="#000020" fill-opacity="0.15"/><path d="M66.5,54.8L65.9,51.7L63.7,49.8L59.4,49.0L60.9,58.3Z" fill="#5a8cff" fill-opacity="0.29"/><path d="M26.5,61.1L20.8,69.2L18.3,69.2L18.7,62.8L22.7,60.3L24.9,59.6Z" fill="#000020" fill-opacity="0.25"/><path d="M59.3,37.8L63.8,30.6L64.9,30.4L68.0,38.5L63.7,40.4L59.3,37.9Z" fill="#5a8cff" fill-opacity="0.33"/><path d="M37.1,14.9L37.1,15.2L41.7,19.1L42.9,18.8L45.1,17.2L44.0,14.4Z" fill="#5a8cff" fill-opacity="0.07"/><path d="M76.7,34.6L75.8,34.6L72.7,33.3L71.6,31.9L74.9,29.6L76.5,31.6Z" fill="#000020" fill-opacity="0.12"/><path d="M28.5,78.8L28.6,88.4L28.2,89.7L28.2,89.7L24.0,88.6L22.8,86.4L23.7,83.6L27.5,78.4Z" fill="#5a8cff" fill-opacity="0.15"/><path d="M30.2,24.5L23.6,21.8L23.4,18.0L26.9,14.1L29.9,16.0L32.3,22.4L32.1,23.6Z" fill="#000020" fill-opacity="0.06"/><path d="M31.5,43.9L37.5,46.5L36.8,47.3L33.7,48.9L31.1,48.1L30.3,46.9L31.4,44.0Z" fill="#000020" fill-opacity="0.04"/><path d="M52.2,38.2L51.0,36.2L51.9,32.0L52.6,31.3L59.3,37.8L59.3,37.9L55.8,41.6L54.5,40.9Z" fill="#000020" fill-opacity="0.16"/><path d="M66.0,4.7L56.5,2.8L58.6,-1.2L59.9,-0.5L64.4,3.0Z" fill="#000020" fill-opacity="0.10"/><path d="M82.6,44.1L81.9,41.2L85.5,39.2L86.6,39.5L87.8,41.6L82.7,44.2Z" fill="#000020" fill-opacity="0.22"/><path d="M84.1,92.9L76.2,94.2L75.9,93.9L76.0,92.3L76.9,88.4L77.4,88.0L84.9,90.2L85.2,90.7L84.6,92.6Z" fill="#000020" fill-opacity="0.09"/><path d="M64.4,93.0L66.0,94.7L66.5,94.9L66.5,94.6L64.3,88.0L63.2,90.2Z" fill="#000020" fill-opacity="0.16"/><path d="M64.4,93.0L63.2,90.2L59.9,89.5Z" fill="#5a8cff" fill-opacity="0.26"/><path d="M46.4,90.0L48.2,92.2L43.8,97.3L43.3,97.4L42.7,96.9L41.8,91.1L42.4,90.6Z" fill="#5a8cff" fill-opacity="0.26"/><path d="M22.2,95.1L20.5,91.6L20.8,91.1L24.0,88.6L28.2,89.7L28.9,96.7Z" fill="#000020" fill-opacity="0.08"/><path d="M72.0,89.4L70.0,95.4L73.4,94.1L72.5,90.3Z" fill="#000020" fill-opacity="0.18"/><path d="M72.0,89.4L70.0,95.4L67.4,97.1L66.5,94.9L66.5,94.6L69.0,88.6L72.0,89.1Z" fill="#5a8cff" fill-opacity="0.11"/><path d="M36.2,90.2L34.7,95.1L31.4,97.9L29.0,97.2L28.9,96.7L28.2,89.7L28.2,89.7L33.5,89.4L35.3,89.4Z" fill="#000020" fill-opacity="0.24"/><path d="M72.0,89.4L72.5,90.3L76.0,92.3L76.9,88.4L72.7,88.5L72.0,89.1Z" fill="#000020" fill-opacity="0.20"/><path d="M64.4,93.0L66.0,94.7L56.5,92.8L58.6,88.8L59.9,89.5Z" fill="#000020" fill-opacity="0.10"/><path d="M100.8,0.1L96.5,-2.8L93.5,-3.4L93.2,-3.2L89.8,0.6L92.7,2.7L100.8,0.4Z" fill="#000020" fill-opacity="0.08"/><path d="M92.7,92.7L100.8,90.4L100.8,90.1L96.5,87.2L93.5,86.6L93.2,86.8L89.8,90.6Z" fill="#000020" fill-opacity="0.08"/><path d="M93.5,86.6L93.2,79.0L91.2,77.3L86.2,81.9L93.2,86.8Z" fill="#000020" fill-opacity="0.03"/><path d="M87.8,41.6L90.4,43.3L94.0,42.0L94.8,41.4L95.4,40.3L90.2,32.9L88.0,35.3L86.6,39.5Z" fill="#000020" fill-opacity="0.04"/><path d="M91.1,17.3L88.6,19.1L90.1,16.3L90.7,16.2Z" fill="#000020" fill-opacity="0.22"/><path d="M90.7,47.1L89.6,46.2L90.4,43.3L94.0,42.0L95.3,48.4Z" fill="#5a8cff" fill-opacity="0.11"/><path d="M90.7,47.1L89.6,46.2L85.2,52.0L90.6,55.5L97.5,54.5L97.7,54.3L97.7,54.2Z" fill="#000020" fill-opacity="0.18"/><path d="M90.9,25.0L93.4,23.6L94.3,22.4L92.8,20.7L87.6,21.8L87.3,23.0Z" fill="#000020" fill-opacity="0.15"/><path d="M84.6,2.6L85.2,0.7L88.4,0.7L91.9,9.3L90.9,9.8L90.2,10.0L86.4,8.0Z" fill="#000020" fill-opacity="0.04"/><path d="M89.7,11.8L90.2,10.0L90.9,9.8L93.9,15.7L91.3,15.4Z" fill="#000020" fill-opacity="0.06"/><path d="M92.7,2.7L93.9,8.6L91.9,9.3L88.4,0.7L89.8,0.6Z" fill="#5a8cff" fill-opacity="0.20"/><path d="M97.5,54.5L90.6,55.5L89.4,61.1L95.1,65.9L95.9,63.2Z" fill="#000020" fill-opacity="0.05"/><path d="M88.4,19.4L87.4,20.1L87.6,21.8L92.8,20.7L92.6,18.8L92.0,18.6Z" fill="#000020" fill-opacity="0.27"/><path d="M91.1,17.3L92.0,18.6L88.4,19.4L88.6,19.1Z" fill="#000020" fill-opacity="0.19"/><path d="M3.2,-3.2L-3.8,-8.1L-4.7,-7.6L-5.1,0.2L-4.8,0.7L-1.6,0.7L-0.2,0.6ZM5.1,65.9L5.8,68.8L1.0,72.5L-3.1,70.9L-8.0,64.8L-0.6,61.1ZM-1.4,19.1L0.1,16.3L-3.0,15.2L-2.8,19.8L-2.6,20.1L-1.6,19.4ZM0.2,32.0L-3.1,30.2L-8.4,32.9L-8.7,34.3L-8.7,34.3L-2.0,35.3L0.2,32.9ZM-7.5,44.5L-7.7,52.2L-4.8,52.0L-0.4,46.2L0.4,43.3L-2.2,41.6L-7.3,44.2ZM-0.3,11.8L0.2,10.0L-3.6,8.0L-5.1,9.6L-5.7,14.4L-3.1,15.1ZM-4.8,90.7L-1.6,90.7L-0.2,90.6L3.2,86.8L-3.8,81.9L-4.7,82.4L-5.1,90.2ZM-5.3,24.9L-5.3,25.3L-3.1,30.2L0.2,32.0L1.1,31.4L1.9,30.0L0.9,25.0L-2.7,23.0ZM-8.1,80.8L-6.9,73.9L-3.1,70.9L1.0,72.5L1.2,77.3L-3.8,81.9L-4.7,82.4ZM0.1,16.3L0.7,16.2L1.3,15.4L-0.3,11.8L-3.1,15.1L-3.0,15.2ZM-10.2,63.1L-11.0,54.8L-9.2,52.9L-7.7,52.2L-4.8,52.0L0.6,55.5L-0.6,61.1L-8.0,64.8L-8.8,64.4ZM3.5,-3.4L6.5,-2.8L10.8,0.1L10.8,0.4L2.7,2.7L-0.2,0.6L3.2,-3.2ZM41.8,1.1L42.4,0.6L40.6,-4.6L39.6,-6.0L36.1,-2.7L35.3,-0.6L36.2,0.2L39.5,1.4ZM47.8,-4.1L46.4,-0.0L42.4,0.6L40.6,-4.6ZM10.8,0.4L13.1,5.5L20.5,1.6L20.8,1.1L16.8,-2.4L12.4,-2.7L10.8,0.1ZM6.6,-3.1L6.5,-2.8L10.8,0.1L12.4,-2.7L13.7,-8.9L13.7,-8.9L8.0,-9.6ZM56.8,-2.9L58.6,-1.7L58.6,-1.2L56.5,2.8L56.5,2.8L55.8,3.0L53.7,2.9L52.0,-4.2ZM81.9,-9.2L85.3,-7.6L84.9,0.2L77.4,-2.0L76.3,-9.3L77.0,-9.4ZM93.2,-3.2L86.2,-8.1L85.3,-7.6L84.9,0.2L85.2,0.7L88.4,0.7L89.8,0.6ZM20.8,1.1L24.0,-1.4L22.8,-3.6L20.6,-4.8L16.8,-2.4ZM66.5,4.6L69.0,-1.4L68.9,-1.6L64.2,-3.1L64.3,-2.0ZM64.3,-2.0L64.2,-3.1L62.1,-5.5L58.6,-1.7L58.6,-1.2L59.9,-0.5L63.2,0.2ZM50.5,3.7L48.2,2.2L46.4,-0.0L47.8,-4.1L49.1,-6.6L50.1,-5.9L52.0,-4.2L53.7,2.9L51.3,3.6ZM72.8,78.9L72.2,78.8L69.2,69.7L71.1,67.6L75.3,72.5ZM48.6,26.2L43.1,29.8L41.0,29.1L40.3,28.4L45.3,23.6L45.6,23.6L47.7,23.7ZM7.6,35.5L3.7,32.3L1.1,31.4L0.2,32.0L0.2,32.9L5.4,40.3L5.5,40.2ZM38.2,5.5L34.7,5.1L36.2,0.2L39.5,1.4ZM-0.2,90.6L3.2,86.8L3.5,86.6L6.5,87.2L10.8,90.1L10.8,90.4L2.7,92.7ZM56.0,18.8L59.6,19.2L61.0,20.2L60.2,22.2L58.1,24.7ZM42.4,90.6L41.8,91.1L39.5,91.4L36.2,90.2L35.3,89.4L36.1,87.3L39.6,84.0L40.6,85.4ZM77.0,80.6L79.5,73.9L83.1,73.9L81.9,80.8ZM31.5,43.9L37.5,46.5L41.6,44.4L39.9,40.9L34.4,40.2L32.4,42.4ZM61.6,11.5L61.9,11.6L65.5,11.5L67.2,9.2L67.4,7.1L66.5,4.9L66.0,4.7L56.5,2.8L56.5,2.8ZM51.7,23.4L49.7,26.7L48.6,26.2L47.7,23.7L48.3,23.0L51.3,23.0ZM84.1,2.9L76.2,4.2L77.1,8.8L79.1,8.6ZM62.3,83.6L58.0,80.5L57.9,80.4L56.7,74.5L60.9,74.6L65.3,81.3ZM21.8,79.7L21.7,80.8L18.5,83.1L14.7,81.0L17.2,79.0ZM84.6,2.6L85.2,0.7L84.9,0.2L77.4,-2.0L76.9,-1.6L76.0,2.3L75.9,3.9L76.2,4.2L84.1,2.9ZM66.5,4.6L64.3,-2.0L63.2,0.2L64.4,3.0L66.0,4.7L66.5,4.9ZM46.7,41.9L47.4,37.2L45.7,36.6L40.8,38.6L40.4,39.1L39.9,40.9L41.6,44.4L44.0,46.1L45.9,44.0ZM17.8,29.8L19.4,32.7L20.0,30.9L18.9,23.8L18.5,23.7ZM75.7,27.5L73.2,23.8L71.4,23.1L65.2,30.1L65.2,30.2L71.6,31.9L74.9,29.6ZM11.8,60.9L10.5,69.4L11.7,69.9L12.0,69.8L15.6,60.1L13.4,56.5ZM39.6,66.4L39.9,66.3L43.8,69.3L44.2,69.7L44.6,70.9L39.7,75.1L37.7,74.9L37.8,71.9ZM18.9,23.8L19.6,23.6L22.2,27.7L22.4,29.5L20.0,30.9ZM75.8,43.5L75.8,44.2L71.9,48.2L69.0,47.0L68.6,45.4L73.1,43.2L75.6,43.1ZM45.1,17.2L42.9,18.8L45.3,23.6L45.6,23.6L47.1,17.5ZM3.2,86.8L-3.8,81.9L1.2,77.3L3.2,79.0L3.5,86.6ZM11.7,69.9L11.7,70.8L6.5,79.8L4.7,79.4L3.2,79.0L1.2,77.3L1.0,72.5L5.8,68.8L10.5,69.4ZM33.2,83.1L28.6,88.4L28.2,89.7L33.5,89.4ZM36.1,87.3L33.5,82.7L34.1,78.8L34.1,78.8L39.8,82.5L39.6,84.0ZM48.6,17.4L51.8,19.2L51.3,23.0L48.3,23.0L48.5,17.5ZM70.0,62.5L69.2,55.7L66.5,54.8L60.9,58.3L58.8,60.4L59.6,62.4ZM59.3,37.9L63.7,40.4L63.5,43.8L56.0,42.6L55.8,41.6ZM24.5,57.1L24.9,59.6L22.7,60.3L13.1,55.0L13.0,54.9L16.6,52.3L18.4,52.5ZM11.8,60.9L10.5,69.4L5.8,68.8L5.1,65.9L5.9,63.2ZM56.7,28.0L53.1,30.5L52.6,31.3L59.3,37.8L63.8,30.6L57.5,27.9ZM74.9,17.1L71.4,22.9L66.5,17.2L66.4,14.1L72.9,15.8ZM31.1,69.6L35.0,76.9L37.7,74.9L37.8,71.9ZM30.5,68.3L30.1,66.8L35.8,62.6L39.1,66.3ZM52.0,85.8L56.8,87.1L55.8,83.8L50.1,84.1ZM91.0,72.5L95.8,68.8L95.1,65.9L89.4,61.1L82.0,64.8L86.9,70.9ZM74.5,10.5L67.2,9.2L65.5,11.5L66.4,14.1L72.9,15.8ZM67.3,80.6L63.5,73.2L60.9,74.6L65.3,81.3L67.2,80.7ZM33.7,48.9L36.8,47.3L37.7,55.3L37.4,55.4L37.0,55.5ZM46.4,90.0L42.4,90.6L40.6,85.4L47.8,85.9ZM24.6,34.6L27.0,31.8L32.3,36.6L28.2,38.5L25.0,36.7ZM0.2,32.9L-2.0,35.3L-3.4,39.5L-2.2,41.6L0.4,43.3L4.0,42.0L4.8,41.4L5.4,40.3ZM62.3,83.6L62.1,84.5L58.6,88.3L56.8,87.1L55.8,83.8L58.0,80.5ZM80.2,30.0L80.2,29.7L84.7,25.3L86.9,30.2L81.6,32.9ZM88.6,19.1L88.4,19.4L87.4,20.1L87.2,19.8L87.0,15.2L90.1,16.3ZM75.4,17.0L74.9,17.1L72.9,15.8L74.5,10.5L75.7,10.5L76.3,11.7ZM36.6,11.6L39.1,7.7L38.2,5.5L34.7,5.1L31.4,7.9L35.2,11.4L36.3,11.9ZM75.1,80.4L72.8,78.9L75.3,72.5L77.9,71.8L79.5,73.9L77.0,80.6L76.3,80.7ZM17.0,43.4L16.6,52.3L13.0,54.9L9.2,54.0L9.4,48.9ZM24.7,47.6L23.3,40.9L23.1,40.8L20.3,41.5L17.5,43.2ZM48.1,11.3L50.6,13.3L53.1,12.2L49.8,6.2L48.5,7.4ZM75.7,27.5L73.2,23.8L77.4,22.3L80.2,24.3L78.0,27.8ZM39.1,7.7L42.7,6.9L41.8,1.1L39.5,1.4L38.2,5.5ZM-1.4,19.1L1.1,17.3L0.7,16.2L0.1,16.3ZM34.1,78.8L28.5,78.8L28.6,88.4L33.2,83.1L33.5,82.7ZM77.3,40.8L82.6,44.1L82.7,44.2L82.5,44.5L75.8,43.5L75.6,43.1L76.1,41.3L76.6,41.0ZM37.7,55.3L37.4,55.4L40.7,64.8L41.5,64.1L43.1,61.0L41.4,56.3L38.8,55.0ZM76.5,31.6L74.9,29.6L75.7,27.5L78.0,27.8L80.2,29.7L80.2,30.0ZM68.0,38.5L72.4,34.3L72.6,38.3L68.2,38.6ZM51.7,69.2L50.2,66.0L50.2,64.3L57.2,59.8L58.8,60.4L59.6,62.4L59.8,63.4L59.7,64.7L56.1,70.9ZM46.9,59.8L48.1,63.3L47.9,63.4L41.5,64.1L43.1,61.0ZM64.4,3.0L59.9,-0.5L63.2,0.2ZM4.0,15.8L3.9,15.7L0.9,9.8L1.9,9.3L3.9,8.6L6.2,9.2L4.4,15.5ZM13.4,22.9L12.9,15.8L13.4,14.2L23.0,17.7L23.4,18.0L23.6,21.8L19.6,23.6L18.9,23.8L18.5,23.7ZM3.9,17.6L5.6,18.7L6.1,22.0L4.3,22.4L2.8,20.7L2.6,18.8ZM57.9,80.4L49.0,83.0L48.3,81.5L48.4,77.8L56.6,74.4L56.7,74.5ZM32.2,31.4L29.1,27.9L28.6,28.6L27.1,31.3L27.0,31.8L32.3,36.6L32.5,36.7L33.2,35.8ZM39.6,66.4L39.9,66.3L40.7,64.8L37.4,55.4L37.0,55.5L34.5,56.7L33.3,58.7L35.8,62.6L39.1,66.3ZM75.1,80.4L72.8,78.9L72.2,78.8L69.5,79.4L67.3,80.6L67.2,80.7L69.2,86.2L72.5,85.2ZM28.5,61.9L33.3,58.7L35.8,62.6L30.1,66.8ZM30.4,68.6L26.3,71.5L26.4,77.1L27.5,78.4L28.5,78.8L34.1,78.8L34.1,78.8L35.0,76.9L31.1,69.6ZM21.8,79.7L17.2,79.0L19.3,75.7L24.7,77.3ZM39.9,66.3L40.7,64.8L41.5,64.1L47.9,63.4L43.8,69.3ZM53.1,30.5L52.6,31.3L51.9,32.0L44.6,30.8L43.1,29.8L48.6,26.2L49.7,26.7ZM41.8,1.1L42.4,0.6L46.4,-0.0L48.2,2.2L43.8,7.3L43.3,7.4L42.7,6.9ZM5.3,48.4L4.0,42.0L0.4,43.3L-0.4,46.2L0.7,47.1ZM48.2,77.5L41.9,77.1L39.7,75.1L44.6,70.9L46.7,72.7ZM7.7,54.2L7.7,54.3L7.5,54.5L0.6,55.5L-4.8,52.0L-0.4,46.2L0.7,47.1ZM44.4,47.0L46.2,48.2L47.4,52.4L46.9,56.4L41.4,56.3L38.8,55.0ZM63.7,49.8L64.2,44.6L67.8,44.6L68.6,45.4L69.0,47.0L65.9,51.7ZM45.9,44.0L44.0,46.1L44.4,47.0L46.2,48.2L50.3,48.1L55.9,43.9L56.0,42.6L55.8,41.6L54.5,40.9ZM55.8,18.7L54.6,19.2L53.8,24.3L56.7,28.0L57.5,27.9L58.1,24.7L56.0,18.8ZM47.6,57.4L46.9,59.8L48.1,63.3L50.2,64.3L57.2,59.8L55.5,57.9ZM20.8,91.1L16.8,87.6L12.4,87.3L10.8,90.1L10.8,90.4L13.1,95.5L20.5,91.6ZM69.2,86.2L67.2,80.7L65.3,81.3L62.3,83.6L62.1,84.5L64.2,86.9L68.9,88.4ZM23.3,40.9L26.0,42.1L27.5,41.7L28.3,39.0L28.2,38.5L25.0,36.7L23.1,40.8ZM20.8,1.1L24.0,-1.4L28.2,-0.3L28.9,6.7L22.2,5.1L20.5,1.6ZM-2.7,23.0L0.9,25.0L3.4,23.6L4.3,22.4L2.8,20.7L-2.4,21.8ZM78.6,13.1L76.3,11.7L75.4,17.0L79.3,18.1L79.7,17.4ZM60.2,22.2L63.9,24.0L64.1,19.5L61.0,20.2ZM3.9,17.6L4.0,15.8L4.4,15.5L9.8,16.3L5.6,18.7ZM55.9,43.9L56.0,42.6L63.5,43.8L63.9,44.4L58.6,48.4L58.2,48.2ZM46.7,41.9L52.2,38.2L54.5,40.9L45.9,44.0ZM24.7,47.6L25.0,47.9L26.3,47.2L26.0,42.1L23.3,40.9ZM79.7,17.4L79.3,18.1L79.3,18.2L81.6,19.9L84.7,18.8L82.9,15.3ZM63.9,24.0L65.2,30.1L71.4,23.1L71.4,22.9L66.5,17.2L64.1,19.5ZM13.1,27.8L17.8,29.8L18.5,23.7L13.4,22.9L12.6,23.8L12.0,25.2ZM8.0,80.4L13.7,81.1L13.7,81.1L12.4,87.3L10.8,90.1L6.5,87.2L6.6,86.9ZM36.3,11.9L35.2,11.4L29.9,16.0L32.3,22.4L37.1,15.2L37.1,14.9ZM-3.6,8.0L-5.4,2.6L-4.8,0.7L-1.6,0.7L1.9,9.3L0.9,9.8L0.2,10.0ZM15.9,41.8L16.5,42.8L17.0,43.2L17.5,43.2L20.3,41.5L20.7,34.1L19.4,33.5ZM58.6,88.8L58.6,88.3L56.8,87.1L52.0,85.8L53.7,92.9L55.8,93.0L56.5,92.8L56.5,92.8ZM79.3,18.2L77.4,22.3L80.2,24.3L83.1,24.1L81.6,19.9ZM58.0,80.5L55.8,83.8L50.1,84.1L49.1,83.4L49.0,83.0L57.9,80.4ZM6.5,79.8L11.7,70.8L13.7,81.1L8.0,80.4ZM30.4,68.6L31.1,69.6L37.8,71.9L39.6,66.4L39.1,66.3L30.5,68.3ZM26.9,53.8L32.6,55.1L34.5,56.7L33.3,58.7L28.5,61.9L26.5,61.1L24.9,59.6L24.5,57.1ZM43.9,12.0L46.5,11.3L46.0,7.8L43.8,7.3L43.3,7.4L43.5,11.6ZM72.2,78.8L69.2,69.7L65.5,71.0L65.3,71.6L69.5,79.4ZM41.0,29.1L40.8,38.6L45.7,36.6L44.6,30.8L43.1,29.8ZM81.3,34.3L81.3,34.3L88.0,35.3L90.2,32.9L90.2,32.0L86.9,30.2L81.6,32.9ZM77.3,40.8L80.0,39.9L82.0,36.7L81.3,34.3L81.3,34.3L77.5,35.0L76.6,41.0ZM36.7,32.1L32.2,31.4L33.2,35.8L35.8,33.9ZM12.0,25.2L8.9,27.9L6.0,28.2L3.4,23.6L4.3,22.4L6.1,22.0L12.6,23.8ZM20.5,1.6L22.2,5.1L20.3,10.2L20.2,10.2L13.6,10.1L12.8,8.7L13.1,5.5ZM46.7,41.9L47.4,37.2L51.0,36.2L52.2,38.2ZM1.3,15.4L3.9,15.7L0.9,9.8L0.2,10.0L-0.3,11.8ZM81.0,12.4L81.4,10.3L84.9,9.6L84.3,14.4L83.2,14.9ZM35.3,89.4L33.5,89.4L33.2,83.1L33.5,82.7L36.1,87.3ZM13.6,39.7L5.5,40.2L7.6,35.5L9.0,34.0L13.2,34.9ZM70.0,5.4L73.4,4.1L72.5,0.3L72.0,-0.6ZM6.5,79.8L8.0,80.4L6.6,86.9L4.7,79.4ZM58.1,24.7L60.2,22.2L63.9,24.0L65.2,30.1L65.2,30.2L64.9,30.4L63.8,30.6L57.5,27.9ZM37.8,25.7L41.7,19.1L42.9,18.8L45.3,23.6L40.3,28.4L40.2,28.4ZM76.3,80.7L77.0,80.6L81.9,80.8L85.3,82.4L84.9,90.2L77.4,88.0ZM9.4,48.9L9.2,54.0L7.7,54.3L7.7,54.2L5.3,48.4L4.0,42.0L4.8,41.4L8.9,45.4ZM13.6,39.7L13.2,34.9L14.9,33.0L19.2,33.3L19.4,33.5L15.9,41.8ZM72.1,65.6L70.0,62.5L59.6,62.4L59.8,63.4L71.2,67.2ZM13.1,27.8L14.9,33.0L19.2,33.3L19.4,32.7L17.8,29.8ZM36.7,32.1L40.2,28.4L40.3,28.4L41.0,29.1L40.8,38.6L40.4,39.1L35.8,33.9ZM65.3,71.6L63.5,73.2L60.9,74.6L56.7,74.5L56.6,74.4L56.1,70.9L59.7,64.7L65.5,71.0ZM28.3,39.0L32.4,42.4L34.4,40.2L32.5,36.7L32.3,36.6L28.2,38.5ZM9.0,34.0L8.6,32.1L3.7,32.3L7.6,35.5ZM82.5,44.5L82.3,52.2L85.2,52.0L89.6,46.2L90.4,43.3L87.8,41.6L82.7,44.2ZM47.6,57.4L55.5,57.9L54.5,54.3L47.4,52.4L46.9,56.4ZM48.4,77.8L56.6,74.4L56.1,70.9L51.7,69.2L46.7,72.7L48.2,77.5ZM22.4,29.5L22.2,27.7L28.6,28.6L27.1,31.3ZM75.8,43.5L75.8,44.2L80.8,52.9L82.3,52.2L82.5,44.5ZM84.9,9.6L86.4,8.0L90.2,10.0L89.7,11.8L86.9,15.1L84.3,14.4ZM67.8,44.6L68.4,39.6L73.1,43.2L68.6,45.4ZM48.4,77.8L48.3,81.5L39.9,82.4L41.9,77.1L48.2,77.5ZM17.0,43.4L9.4,48.9L8.9,45.4L16.5,42.8L17.0,43.2ZM19.4,32.7L19.2,33.3L19.4,33.5L20.7,34.1L24.6,34.6L27.0,31.8L27.1,31.3L22.4,29.5L20.0,30.9ZM72.4,34.3L72.7,33.3L75.8,34.6L72.8,38.4L72.6,38.3ZM66.5,4.6L69.0,-1.4L72.0,-0.9L72.0,-0.6L70.0,5.4L67.4,7.1L66.5,4.9ZM88.4,90.7L85.2,90.7L84.9,90.2L85.3,82.4L86.2,81.9L93.2,86.8L89.8,90.6ZM61.0,20.2L59.6,19.2L61.9,11.6L65.5,11.5L66.4,14.1L66.5,17.2L64.1,19.5ZM55.8,18.7L56.5,12.9L61.6,11.5L61.9,11.6L59.6,19.2L56.0,18.8ZM29.0,7.2L31.4,7.9L34.7,5.1L36.2,0.2L35.3,-0.6L33.5,-0.6L28.2,-0.3L28.2,-0.3L28.9,6.7ZM4.4,15.5L6.2,9.2L12.8,8.7L13.6,10.1L13.4,14.2L12.9,15.8L9.8,16.3ZM12.0,69.8L18.0,69.4L19.3,75.7L17.2,79.0L14.7,81.0L13.7,81.1L13.7,81.1L11.7,70.8L11.7,69.9ZM26.3,71.5L20.8,69.2L18.3,69.2L18.0,69.4L19.3,75.7L24.7,77.3L26.4,77.1ZM2.7,2.7L3.9,8.6L1.9,9.3L-1.6,0.7L-0.2,0.6ZM3.5,86.6L6.5,87.2L6.6,86.9L4.7,79.4L3.2,79.0ZM75.9,3.9L73.4,4.1L72.5,0.3L76.0,2.3ZM87.4,20.1L87.6,21.8L87.3,23.0L84.7,24.9L83.1,24.1L81.6,19.9L84.7,18.8L87.2,19.8ZM26.9,53.4L24.7,48.9L18.4,52.5L24.5,57.1L26.9,53.8ZM22.8,86.4L24.0,88.6L20.8,91.1L16.8,87.6L20.6,85.2ZM30.7,49.9L31.1,48.1L33.7,48.9L37.0,55.5L34.5,56.7L32.6,55.1ZM53.8,24.3L51.7,23.4L49.7,26.7L53.1,30.5L56.7,28.0ZM69.0,88.6L66.5,94.6L64.3,88.0L64.2,86.9L68.9,88.4ZM51.3,3.6L53.7,2.9L55.8,3.0L54.7,11.2ZM72.1,65.6L79.8,63.1L79.0,54.8L74.7,54.2L69.2,55.7L70.0,62.5ZM47.6,57.4L46.9,59.8L43.1,61.0L41.4,56.3L46.9,56.4ZM29.1,27.9L30.2,24.5L23.6,21.8L19.6,23.6L22.2,27.7L28.6,28.6ZM46.0,7.8L43.8,7.3L48.2,2.2L50.5,3.7L49.8,6.2L48.5,7.4ZM55.8,18.7L56.5,12.9L54.7,12.1L53.1,12.2L50.6,13.3L48.6,17.4L51.8,19.2L54.6,19.2ZM27.5,78.4L23.7,83.6L21.7,80.8L21.8,79.7L24.7,77.3L26.4,77.1ZM54.6,19.2L51.8,19.2L51.3,23.0L51.7,23.4L53.8,24.3ZM59.9,89.5L58.6,88.8L58.6,88.3L62.1,84.5L64.2,86.9L64.3,88.0L63.2,90.2ZM79.5,73.9L77.9,71.8L81.2,64.4L82.0,64.8L86.9,70.9L83.1,73.9ZM26.9,53.4L30.7,49.9L32.6,55.1L26.9,53.8ZM50.5,3.7L49.8,6.2L53.1,12.2L54.7,12.1L54.7,11.2L51.3,3.6ZM63.7,49.8L59.4,49.0L58.6,48.4L63.9,44.4L64.2,44.6ZM44.2,69.7L50.2,66.0L50.2,64.3L48.1,63.3L47.9,63.4L43.8,69.3ZM12.6,23.8L6.1,22.0L5.6,18.7L9.8,16.3L12.9,15.8L13.4,22.9ZM91.1,31.4L91.9,30.0L90.9,25.0L87.3,23.0L84.7,24.9L84.7,25.3L86.9,30.2L90.2,32.0ZM20.3,10.2L26.5,10.1L29.0,7.2L28.9,6.7L22.2,5.1ZM26.3,47.2L30.3,46.9L31.1,48.1L30.7,49.9L26.9,53.4L24.7,48.9L25.0,47.9ZM1.9,30.0L0.9,25.0L3.4,23.6L6.0,28.2ZM20.3,10.2L20.2,10.2L23.0,17.7L23.4,18.0L26.9,14.1L26.5,10.1ZM72.0,89.1L69.0,88.6L68.9,88.4L69.2,86.2L72.5,85.2L72.7,88.5ZM80.0,39.9L82.0,36.7L85.5,39.2L81.9,41.2ZM8.9,27.9L6.0,28.2L1.9,30.0L1.1,31.4L3.7,32.3L8.6,32.1ZM51.0,36.2L51.9,32.0L44.6,30.8L45.7,36.6L47.4,37.2ZM65.5,71.0L59.7,64.7L59.8,63.4L71.2,67.2L71.1,67.6L69.2,69.7ZM77.3,40.8L80.0,39.9L81.9,41.2L82.6,44.1ZM22.8,86.4L20.6,85.2L18.5,83.1L21.7,80.8L23.7,83.6ZM78.6,13.1L76.3,11.7L75.7,10.5L77.1,8.8L79.1,8.6L81.4,10.3L81.0,12.4ZM13.4,56.5L15.6,60.1L18.7,62.8L22.7,60.3L13.1,55.0ZM72.7,88.5L72.5,85.2L75.1,80.4L76.3,80.7L77.4,88.0L76.9,88.4ZM0.7,16.2L1.1,17.3L2.0,18.6L2.6,18.8L3.9,17.6L4.0,15.8L3.9,15.7L1.3,15.4ZM44.0,46.1L41.6,44.4L37.5,46.5L36.8,47.3L37.7,55.3L38.8,55.0L44.4,47.0ZM69.2,55.7L74.7,54.2L71.9,48.2L69.0,47.0L65.9,51.7L66.5,54.8ZM48.5,17.5L48.3,23.0L47.7,23.7L45.6,23.6L47.1,17.5ZM54.5,54.3L54.6,52.7L58.2,48.2L58.6,48.4L59.4,49.0L60.9,58.3L58.8,60.4L57.2,59.8L55.5,57.9ZM82.9,15.3L84.7,18.8L87.2,19.8L87.0,15.2L86.9,15.1L84.3,14.4L83.2,14.9ZM13.1,27.8L14.9,33.0L13.2,34.9L9.0,34.0L8.6,32.1L8.9,27.9L12.0,25.2ZM27.5,41.7L31.4,44.0L31.5,43.9L32.4,42.4L28.3,39.0ZM15.6,60.1L18.7,62.8L18.3,69.2L18.0,69.4L12.0,69.8ZM72.0,-0.9L72.7,-1.5L76.9,-1.6L76.0,2.3L72.5,0.3L72.0,-0.6ZM81.4,10.3L79.1,8.6L84.1,2.9L84.6,2.6L86.4,8.0L84.9,9.6ZM26.3,47.2L30.3,46.9L31.4,44.0L27.5,41.7L26.0,42.1ZM32.1,23.6L32.3,22.4L37.1,15.2L41.7,19.1L37.8,25.7ZM69.5,79.4L67.3,80.6L63.5,73.2L65.3,71.6ZM13.4,14.2L23.0,17.7L20.2,10.2L13.6,10.1ZM44.0,14.4L45.1,17.2L47.1,17.5L48.5,17.5L48.6,17.4L50.6,13.3L48.1,11.3L46.5,11.3L43.9,12.0ZM81.9,80.8L85.3,82.4L86.2,81.9L91.2,77.3L91.0,72.5L86.9,70.9L83.1,73.9ZM76.6,41.0L77.5,35.0L76.7,34.6L75.8,34.6L72.8,38.4L76.1,41.3ZM68.0,38.5L68.0,38.5L64.9,30.4L65.2,30.2L71.6,31.9L72.7,33.3L72.4,34.3ZM36.6,11.6L39.1,7.7L42.7,6.9L43.3,7.4L43.5,11.6ZM5.9,63.2L5.1,65.9L-0.6,61.1L0.6,55.5L7.5,54.5ZM20.6,85.2L16.8,87.6L12.4,87.3L13.7,81.1L14.7,81.0L18.5,83.1ZM47.4,52.4L46.2,48.2L50.3,48.1L54.6,52.7L54.5,54.3ZM80.2,29.7L84.7,25.3L84.7,24.9L83.1,24.1L80.2,24.3L78.0,27.8ZM-1.6,19.4L2.0,18.6L2.6,18.8L2.8,20.7L-2.4,21.8L-2.6,20.1ZM36.6,11.6L43.5,11.6L43.9,12.0L44.0,14.4L37.1,14.9L36.3,11.9ZM30.4,68.6L26.3,71.5L20.8,69.2L26.5,61.1L28.5,61.9L30.1,66.8L30.5,68.3ZM36.7,32.1L40.2,28.4L37.8,25.7L32.1,23.6L30.2,24.5L29.1,27.9L32.2,31.4ZM24.7,47.6L25.0,47.9L24.7,48.9L18.4,52.5L16.6,52.3L17.0,43.4L17.0,43.2L17.5,43.2ZM90.7,16.2L91.3,15.4L89.7,11.8L86.9,15.1L87.0,15.2L90.1,16.3ZM75.3,72.5L71.1,67.6L71.2,67.2L72.1,65.6L79.8,63.1L81.2,64.4L77.9,71.8ZM50.3,48.1L55.9,43.9L58.2,48.2L54.6,52.7ZM46.5,11.3L46.0,7.8L48.5,7.4L48.1,11.3ZM50.5,93.7L48.2,92.2L46.4,90.0L47.8,85.9L49.1,83.4L50.1,84.1L52.0,85.8L53.7,92.9L51.3,93.6ZM68.0,38.5L68.0,38.5L63.7,40.4L63.5,43.8L63.9,44.4L64.2,44.6L67.8,44.6L68.4,39.6L68.2,38.6ZM37.7,74.9L35.0,76.9L34.1,78.8L39.8,82.5L39.9,82.4L41.9,77.1L39.7,75.1ZM-1.4,19.1L1.1,17.3L2.0,18.6L-1.6,19.4ZM81.2,64.4L79.8,63.1L79.0,54.8L80.8,52.9L82.3,52.2L85.2,52.0L90.6,55.5L89.4,61.1L82.0,64.8ZM74.7,54.2L71.9,48.2L75.8,44.2L80.8,52.9L79.0,54.8ZM5.3,48.4L0.7,47.1L7.7,54.2ZM54.7,12.1L56.5,12.9L61.6,11.5L56.5,2.8L55.8,3.0L54.7,11.2ZM47.8,85.9L49.1,83.4L49.0,83.0L48.3,81.5L39.9,82.4L39.8,82.5L39.6,84.0L40.6,85.4ZM2.7,2.7L3.9,8.6L6.2,9.2L12.8,8.7L13.1,5.5L10.8,0.4ZM9.2,54.0L7.7,54.3L7.5,54.5L5.9,63.2L11.8,60.9L13.4,56.5L13.1,55.0L13.0,54.9ZM78.6,13.1L79.7,17.4L82.9,15.3L83.2,14.9L81.0,12.4ZM75.4,17.0L74.9,17.1L71.4,22.9L71.4,23.1L73.2,23.8L77.4,22.3L79.3,18.2L79.3,18.1ZM46.7,72.7L44.6,70.9L44.2,69.7L50.2,66.0L51.7,69.2ZM13.6,39.7L5.5,40.2L5.4,40.3L4.8,41.4L8.9,45.4L16.5,42.8L15.9,41.8ZM77.5,35.0L81.3,34.3L81.6,32.9L80.2,30.0L76.5,31.6L76.7,34.6ZM76.1,41.3L72.8,38.4L72.6,38.3L68.2,38.6L68.4,39.6L73.1,43.2L75.6,43.1ZM85.5,39.2L86.6,39.5L88.0,35.3L81.3,34.3L82.0,36.7ZM75.7,10.5L77.1,8.8L76.2,4.2L75.9,3.9L73.4,4.1L70.0,5.4L67.4,7.1L67.2,9.2L74.5,10.5ZM26.5,10.1L26.9,14.1L29.9,16.0L35.2,11.4L31.4,7.9L29.0,7.2ZM35.8,33.9L40.4,39.1L39.9,40.9L34.4,40.2L32.5,36.7L33.2,35.8ZM20.3,41.5L20.7,34.1L24.6,34.6L25.0,36.7L23.1,40.8ZM66.5,54.8L65.9,51.7L63.7,49.8L59.4,49.0L60.9,58.3ZM26.5,61.1L20.8,69.2L18.3,69.2L18.7,62.8L22.7,60.3L24.9,59.6ZM59.3,37.8L63.8,30.6L64.9,30.4L68.0,38.5L63.7,40.4L59.3,37.9ZM37.1,14.9L37.1,15.2L41.7,19.1L42.9,18.8L45.1,17.2L44.0,14.4ZM76.7,34.6L75.8,34.6L72.7,33.3L71.6,31.9L74.9,29.6L76.5,31.6ZM28.5,78.8L28.6,88.4L28.2,89.7L28.2,89.7L24.0,88.6L22.8,86.4L23.7,83.6L27.5,78.4ZM30.2,24.5L23.6,21.8L23.4,18.0L26.9,14.1L29.9,16.0L32.3,22.4L32.1,23.6ZM31.5,43.9L37.5,46.5L36.8,47.3L33.7,48.9L31.1,48.1L30.3,46.9L31.4,44.0ZM52.2,38.2L51.0,36.2L51.9,32.0L52.6,31.3L59.3,37.8L59.3,37.9L55.8,41.6L54.5,40.9ZM66.0,4.7L56.5,2.8L58.6,-1.2L59.9,-0.5L64.4,3.0ZM82.6,44.1L81.9,41.2L85.5,39.2L86.6,39.5L87.8,41.6L82.7,44.2ZM84.1,92.9L76.2,94.2L75.9,93.9L76.0,92.3L76.9,88.4L77.4,88.0L84.9,90.2L85.2,90.7L84.6,92.6ZM64.4,93.0L66.0,94.7L66.5,94.9L66.5,94.6L64.3,88.0L63.2,90.2ZM64.4,93.0L63.2,90.2L59.9,89.5ZM46.4,90.0L48.2,92.2L43.8,97.3L43.3,97.4L42.7,96.9L41.8,91.1L42.4,90.6ZM22.2,95.1L20.5,91.6L20.8,91.1L24.0,88.6L28.2,89.7L28.9,96.7ZM72.0,89.4L70.0,95.4L73.4,94.1L72.5,90.3ZM72.0,89.4L70.0,95.4L67.4,97.1L66.5,94.9L66.5,94.6L69.0,88.6L72.0,89.1ZM36.2,90.2L34.7,95.1L31.4,97.9L29.0,97.2L28.9,96.7L28.2,89.7L28.2,89.7L33.5,89.4L35.3,89.4ZM72.0,89.4L72.5,90.3L76.0,92.3L76.9,88.4L72.7,88.5L72.0,89.1ZM64.4,93.0L66.0,94.7L56.5,92.8L58.6,88.8L59.9,89.5ZM100.8,0.1L96.5,-2.8L93.5,-3.4L93.2,-3.2L89.8,0.6L92.7,2.7L100.8,0.4ZM92.7,92.7L100.8,90.4L100.8,90.1L96.5,87.2L93.5,86.6L93.2,86.8L89.8,90.6ZM93.5,86.6L93.2,79.0L91.2,77.3L86.2,81.9L93.2,86.8ZM87.8,41.6L90.4,43.3L94.0,42.0L94.8,41.4L95.4,40.3L90.2,32.9L88.0,35.3L86.6,39.5ZM91.1,17.3L88.6,19.1L90.1,16.3L90.7,16.2ZM90.7,47.1L89.6,46.2L90.4,43.3L94.0,42.0L95.3,48.4ZM90.7,47.1L89.6,46.2L85.2,52.0L90.6,55.5L97.5,54.5L97.7,54.3L97.7,54.2ZM90.9,25.0L93.4,23.6L94.3,22.4L92.8,20.7L87.6,21.8L87.3,23.0ZM84.6,2.6L85.2,0.7L88.4,0.7L91.9,9.3L90.9,9.8L90.2,10.0L86.4,8.0ZM89.7,11.8L90.2,10.0L90.9,9.8L93.9,15.7L91.3,15.4ZM92.7,2.7L93.9,8.6L91.9,9.3L88.4,0.7L89.8,0.6ZM97.5,54.5L90.6,55.5L89.4,61.1L95.1,65.9L95.9,63.2ZM88.4,19.4L87.4,20.1L87.6,21.8L92.8,20.7L92.6,18.8L92.0,18.6ZM91.1,17.3L92.0,18.6L88.4,19.4L88.6,19.1Z" fill="none" stroke="#000028" stroke-opacity="0.3" stroke-width="0.6"/></pattern><filter id="b1" x="-10%" y="-20%" width="120%" height="140%"><feGaussianBlur stdDeviation="1.3"/></filter><filter id="b2" x="-10%" y="-20%" width="120%" height="140%"><feGaussianBlur stdDeviation="2"/></filter><filter id="b3" x="-10%" y="-20%" width="120%" height="140%"><feGaussianBlur stdDeviation="3"/></filter><filter id="b2h" x="-50%" y="-80%" width="200%" height="260%"><feGaussianBlur stdDeviation="2.2"/></filter><filter id="b4" x="-50%" y="-50%" width="200%" height="200%"><feGaussianBlur stdDeviation="4"/></filter><linearGradient id="gp0" gradientUnits="userSpaceOnUse" x1="0" y1="34.2" x2="0" y2="154.8"><stop offset="0.0000" stop-color="#249c2a"/><stop offset="0.0274" stop-color="#249c2a"/><stop offset="0.0274" stop-color="#22a482"/><stop offset="0.1053" stop-color="#22a482"/><stop offset="0.1053" stop-color="#249c2a"/><stop offset="0.1990" stop-color="#249c2a"/><stop offset="0.1990" stop-color="#6aa014"/><stop offset="0.2512" stop-color="#6aa014"/><stop offset="0.2512" stop-color="#aa980e"/><stop offset="0.3043" stop-color="#aa980e"/><stop offset="0.3043" stop-color="#c65c0c"/><stop offset="0.6891" stop-color="#de620c"/><stop offset="0.6891" stop-color="#deca0e"/><stop offset="0.7504" stop-color="#deca0e"/><stop offset="0.7504" stop-color="#82d218"/><stop offset="0.7803" stop-color="#82d218"/><stop offset="0.7803" stop-color="#24d030"/><stop offset="0.8740" stop-color="#24d030"/><stop offset="0.8740" stop-color="#1ed09c"/><stop offset="0.9602" stop-color="#1ed09c"/><stop offset="0.9602" stop-color="#24d030"/><stop offset="1.0000" stop-color="#24d030"/></linearGradient><linearGradient id="hsp0" gradientUnits="userSpaceOnUse" x1="67.6" y1="0" x2="408.1" y2="0"><stop offset="0.000" stop-color="#2a9cc8" stop-opacity="1"/><stop offset="0.070" stop-color="#2a9cc8" stop-opacity="1"/><stop offset="0.124" stop-color="#2a9cc8" stop-opacity="0"/><stop offset="0.876" stop-color="#2a9cc8" stop-opacity="0"/><stop offset="0.930" stop-color="#2a9cc8" stop-opacity="1"/><stop offset="1.000" stop-color="#2a9cc8" stop-opacity="1"/></linearGradient><linearGradient id="hap0" gradientUnits="userSpaceOnUse" x1="67.6" y1="0" x2="408.1" y2="0"><stop offset="0.000" stop-color="#1e64d0"/><stop offset="0.070" stop-color="#1e64d0"/><stop offset="0.146" stop-color="#1840cc"/><stop offset="0.204" stop-color="#1a40cc"/><stop offset="0.796" stop-color="#1a40cc"/><stop offset="0.854" stop-color="#1840cc"/><stop offset="0.930" stop-color="#1e64d0"/><stop offset="1.000" stop-color="#1e64d0"/></linearGradient><linearGradient id="hbp0" gradientUnits="userSpaceOnUse" x1="67.6" y1="0" x2="408.1" y2="0"><stop offset="0.000" stop-color="#30b060"/><stop offset="0.068" stop-color="#30b060"/><stop offset="0.100" stop-color="#30b070"/><stop offset="0.146" stop-color="#2cb0a8"/><stop offset="0.204" stop-color="#2aa0d8"/><stop offset="0.796" stop-color="#2aa0d8"/><stop offset="0.854" stop-color="#2cb0a8"/><stop offset="0.900" stop-color="#30b070"/><stop offset="0.932" stop-color="#30b060"/><stop offset="1.000" stop-color="#30b060"/></linearGradient><linearGradient id="hcp0" gradientUnits="userSpaceOnUse" x1="67.6" y1="0" x2="408.1" y2="0"><stop offset="0.000" stop-color="#c0d02c"/><stop offset="0.068" stop-color="#c0d02c"/><stop offset="0.094" stop-color="#84c840"/><stop offset="0.146" stop-color="#44c288"/><stop offset="0.204" stop-color="#40c8da"/><stop offset="0.796" stop-color="#40c8da"/><stop offset="0.854" stop-color="#44c288"/><stop offset="0.906" stop-color="#84c840"/><stop offset="0.932" stop-color="#c0d02c"/><stop offset="1.000" stop-color="#c0d02c"/></linearGradient><clipPath id="cp0"><path d="M79.3,13.5 L396.8,13.5 C396.8,60.2 409.3,71.5 409.3,94.0 C409.3,116.7 396.8,128.0 396.8,175.0 L79.3,175.0 C79.3,128.0 65.7,116.7 65.7,94.0 C65.7,71.5 79.3,60.2 79.3,13.5 Z"/></clipPath><clipPath id="op0"><path d="M137.0,34.2 L340.0,34.2 L380.6,67.5 C386.3,72.2 388.1,82.1 388.1,94.5 C388.1,106.9 386.3,116.8 380.6,121.5 L340.0,154.8 L137.0,154.8 L95.1,121.5 C89.2,116.8 87.6,106.9 87.6,94.5 C87.6,82.1 89.2,72.2 95.1,67.5 L137.0,34.2 Z"/></clipPath><linearGradient id="dkp0" gradientUnits="userSpaceOnUse" x1="197.0" y1="0" x2="388.1" y2="0"><stop offset="0" stop-color="#000" stop-opacity="0"/><stop offset="1" stop-color="#000" stop-opacity="0.13"/></linearGradient><linearGradient id="gp1" gradientUnits="userSpaceOnUse" x1="0" y1="33.5" x2="0" y2="147.8"><stop offset="0.0000" stop-color="#249c2a"/><stop offset="0.2108" stop-color="#249c2a"/><stop offset="0.2108" stop-color="#6aa014"/><stop offset="0.2590" stop-color="#6aa014"/><stop offset="0.2590" stop-color="#aa980e"/><stop offset="0.3132" stop-color="#aa980e"/><stop offset="0.3132" stop-color="#c65c0c"/><stop offset="0.4042" stop-color="#c65c0c"/><stop offset="0.4042" stop-color="#c65c0c"/><stop offset="0.6080" stop-color="#dd620c"/><stop offset="0.6080" stop-color="#dd620c"/><stop offset="0.6990" stop-color="#de620c"/><stop offset="0.6990" stop-color="#deca0e"/><stop offset="0.7655" stop-color="#deca0e"/><stop offset="0.7655" stop-color="#82d218"/><stop offset="0.8014" stop-color="#82d218"/><stop offset="0.8014" stop-color="#24d030"/><stop offset="1.0000" stop-color="#24d030"/></linearGradient><linearGradient id="hsp1" gradientUnits="userSpaceOnUse" x1="416.0" y1="0" x2="762.8" y2="0"><stop offset="0.000" stop-color="#2a9cc8" stop-opacity="1"/><stop offset="0.069" stop-color="#2a9cc8" stop-opacity="1"/><stop offset="0.129" stop-color="#2a9cc8" stop-opacity="0"/><stop offset="0.871" stop-color="#2a9cc8" stop-opacity="0"/><stop offset="0.931" stop-color="#2a9cc8" stop-opacity="1"/><stop offset="1.000" stop-color="#2a9cc8" stop-opacity="1"/></linearGradient><linearGradient id="hap1" gradientUnits="userSpaceOnUse" x1="416.0" y1="0" x2="762.8" y2="0"><stop offset="0.000" stop-color="#1e64d0"/><stop offset="0.069" stop-color="#1e64d0"/><stop offset="0.153" stop-color="#1840cc"/><stop offset="0.216" stop-color="#1a40cc"/><stop offset="0.784" stop-color="#1a40cc"/><stop offset="0.847" stop-color="#1840cc"/><stop offset="0.931" stop-color="#1e64d0"/><stop offset="1.000" stop-color="#1e64d0"/></linearGradient><linearGradient id="hbp1" gradientUnits="userSpaceOnUse" x1="416.0" y1="0" x2="762.8" y2="0"><stop offset="0.000" stop-color="#30b060"/><stop offset="0.066" stop-color="#30b060"/><stop offset="0.098" stop-color="#30b070"/><stop offset="0.153" stop-color="#2cb0a8"/><stop offset="0.216" stop-color="#2aa0d8"/><stop offset="0.784" stop-color="#2aa0d8"/><stop offset="0.847" stop-color="#2cb0a8"/><stop offset="0.902" stop-color="#30b070"/><stop offset="0.934" stop-color="#30b060"/><stop offset="1.000" stop-color="#30b060"/></linearGradient><linearGradient id="hcp1" gradientUnits="userSpaceOnUse" x1="416.0" y1="0" x2="762.8" y2="0"><stop offset="0.000" stop-color="#d4b428"/><stop offset="0.066" stop-color="#d4b428"/><stop offset="0.092" stop-color="#84c840"/><stop offset="0.153" stop-color="#44c288"/><stop offset="0.216" stop-color="#40c8da"/><stop offset="0.784" stop-color="#40c8da"/><stop offset="0.847" stop-color="#44c288"/><stop offset="0.908" stop-color="#84c840"/><stop offset="0.934" stop-color="#d4b428"/><stop offset="1.000" stop-color="#d4b428"/></linearGradient><clipPath id="cp1"><path d="M424.6,10.7 L755.0,10.7 C755.0,57.6 761.7,68.9 761.7,91.5 C761.7,114.2 755.0,125.5 755.0,172.5 L424.6,172.5 C424.6,125.5 418.4,114.2 418.4,91.5 C418.4,68.9 424.6,57.6 424.6,10.7 Z"/></clipPath><clipPath id="op1"><path d="M491.0,33.8 L689.4,33.8 L731.8,67.5 C737.7,72.2 742.8,80.7 742.8,92.0 C742.8,103.3 737.7,112.1 731.8,116.5 L689.4,147.8 L491.0,147.8 L447.0,116.5 C440.8,112.1 436.0,103.3 436.0,92.0 C436.0,80.7 440.8,72.2 447.0,67.5 L491.0,33.8 Z"/></clipPath><linearGradient id="dkp1" gradientUnits="userSpaceOnUse" x1="549.6" y1="0" x2="742.8" y2="0"><stop offset="0" stop-color="#000" stop-opacity="0"/><stop offset="1" stop-color="#000" stop-opacity="0.13"/></linearGradient><linearGradient id="gp2" gradientUnits="userSpaceOnUse" x1="0" y1="34" x2="0" y2="144.4"><stop offset="0.0000" stop-color="#249c2a"/><stop offset="0.2092" stop-color="#249c2a"/><stop offset="0.2092" stop-color="#6aa014"/><stop offset="0.2455" stop-color="#6aa014"/><stop offset="0.2455" stop-color="#aa980e"/><stop offset="0.2871" stop-color="#aa980e"/><stop offset="0.2871" stop-color="#c65c0c"/><stop offset="0.3596" stop-color="#c65c0c"/><stop offset="0.3596" stop-color="#be0608"/><stop offset="0.6404" stop-color="#d8080e"/><stop offset="0.6404" stop-color="#de620c"/><stop offset="0.7011" stop-color="#de620c"/><stop offset="0.7011" stop-color="#deca0e"/><stop offset="0.7609" stop-color="#deca0e"/><stop offset="0.7609" stop-color="#82d218"/><stop offset="0.7971" stop-color="#82d218"/><stop offset="0.7971" stop-color="#24d030"/><stop offset="1.0000" stop-color="#24d030"/></linearGradient><linearGradient id="hsp2" gradientUnits="userSpaceOnUse" x1="775.0" y1="0" x2="1117.3" y2="0"><stop offset="0.000" stop-color="#2a9cc8" stop-opacity="1"/><stop offset="0.070" stop-color="#2a9cc8" stop-opacity="1"/><stop offset="0.129" stop-color="#2a9cc8" stop-opacity="0"/><stop offset="0.871" stop-color="#2a9cc8" stop-opacity="0"/><stop offset="0.930" stop-color="#2a9cc8" stop-opacity="1"/><stop offset="1.000" stop-color="#2a9cc8" stop-opacity="1"/></linearGradient><linearGradient id="hap2" gradientUnits="userSpaceOnUse" x1="775.0" y1="0" x2="1117.3" y2="0"><stop offset="0.000" stop-color="#1e64d0"/><stop offset="0.070" stop-color="#1e64d0"/><stop offset="0.153" stop-color="#1840cc"/><stop offset="0.216" stop-color="#1a40cc"/><stop offset="0.784" stop-color="#1a40cc"/><stop offset="0.847" stop-color="#1840cc"/><stop offset="0.930" stop-color="#1e64d0"/><stop offset="1.000" stop-color="#1e64d0"/></linearGradient><linearGradient id="hbp2" gradientUnits="userSpaceOnUse" x1="775.0" y1="0" x2="1117.3" y2="0"><stop offset="0.000" stop-color="#30b060"/><stop offset="0.067" stop-color="#30b060"/><stop offset="0.099" stop-color="#30b070"/><stop offset="0.153" stop-color="#2cb0a8"/><stop offset="0.216" stop-color="#2aa0d8"/><stop offset="0.784" stop-color="#2aa0d8"/><stop offset="0.847" stop-color="#2cb0a8"/><stop offset="0.901" stop-color="#30b070"/><stop offset="0.933" stop-color="#30b060"/><stop offset="1.000" stop-color="#30b060"/></linearGradient><linearGradient id="hcp2" gradientUnits="userSpaceOnUse" x1="775.0" y1="0" x2="1117.3" y2="0"><stop offset="0.000" stop-color="#d4b428"/><stop offset="0.067" stop-color="#d4b428"/><stop offset="0.093" stop-color="#84c840"/><stop offset="0.153" stop-color="#44c288"/><stop offset="0.216" stop-color="#40c8da"/><stop offset="0.784" stop-color="#40c8da"/><stop offset="0.847" stop-color="#44c288"/><stop offset="0.907" stop-color="#84c840"/><stop offset="0.933" stop-color="#d4b428"/><stop offset="1.000" stop-color="#d4b428"/></linearGradient><clipPath id="cp2"><path d="M775.0,9.7 L1115.4,9.7 C1115.4,55.1 1119.7,66.1 1119.7,88.0 C1119.7,110.5 1115.4,121.7 1115.4,168.2 L775.0,168.2 C775.0,121.7 772.4,110.5 772.4,88.0 C772.4,66.1 775.0,55.1 775.0,9.7 Z"/></clipPath><clipPath id="op2"><path d="M849.0,34.0 L1042.0,34.0 L1086.3,65.0 C1092.5,69.3 1097.3,78.2 1097.3,89.5 C1097.3,100.8 1092.5,109.7 1086.3,114.0 L1042.0,144.4 L849.0,144.4 L806.0,114.0 C800.0,109.7 795.0,100.8 795.0,89.5 C795.0,78.2 800.0,69.3 806.0,65.0 L849.0,34.0 Z"/></clipPath><linearGradient id="dkp2" gradientUnits="userSpaceOnUse" x1="905.4" y1="0" x2="1097.3" y2="0"><stop offset="0" stop-color="#000" stop-opacity="0"/><stop offset="1" stop-color="#000" stop-opacity="0.13"/></linearGradient><linearGradient id="gp3" gradientUnits="userSpaceOnUse" x1="0" y1="203.4" x2="0" y2="324.7"><stop offset="0.0000" stop-color="#249c2a"/><stop offset="0.0256" stop-color="#249c2a"/><stop offset="0.0256" stop-color="#22a482"/><stop offset="0.1088" stop-color="#22a482"/><stop offset="0.1088" stop-color="#249c2a"/><stop offset="0.2267" stop-color="#249c2a"/><stop offset="0.2267" stop-color="#6aa014"/><stop offset="0.2679" stop-color="#6aa014"/><stop offset="0.2679" stop-color="#aa980e"/><stop offset="0.3273" stop-color="#aa980e"/><stop offset="0.3273" stop-color="#c65c0c"/><stop offset="0.6876" stop-color="#de620c"/><stop offset="0.6876" stop-color="#deca0e"/><stop offset="0.7700" stop-color="#deca0e"/><stop offset="0.7700" stop-color="#82d218"/><stop offset="0.8054" stop-color="#82d218"/><stop offset="0.8054" stop-color="#24d030"/><stop offset="0.8879" stop-color="#24d030"/><stop offset="0.8879" stop-color="#1ed09c"/><stop offset="0.9654" stop-color="#1ed09c"/><stop offset="0.9654" stop-color="#24d030"/><stop offset="1.0000" stop-color="#24d030"/></linearGradient><linearGradient id="hsp3" gradientUnits="userSpaceOnUse" x1="66.8" y1="0" x2="408.1" y2="0"><stop offset="0.000" stop-color="#2a9cc8" stop-opacity="1"/><stop offset="0.070" stop-color="#2a9cc8" stop-opacity="1"/><stop offset="0.126" stop-color="#2a9cc8" stop-opacity="0"/><stop offset="0.874" stop-color="#2a9cc8" stop-opacity="0"/><stop offset="0.930" stop-color="#2a9cc8" stop-opacity="1"/><stop offset="1.000" stop-color="#2a9cc8" stop-opacity="1"/></linearGradient><linearGradient id="hap3" gradientUnits="userSpaceOnUse" x1="66.8" y1="0" x2="408.1" y2="0"><stop offset="0.000" stop-color="#1e64d0"/><stop offset="0.070" stop-color="#1e64d0"/><stop offset="0.148" stop-color="#1840cc"/><stop offset="0.208" stop-color="#1a40cc"/><stop offset="0.792" stop-color="#1a40cc"/><stop offset="0.852" stop-color="#1840cc"/><stop offset="0.930" stop-color="#1e64d0"/><stop offset="1.000" stop-color="#1e64d0"/></linearGradient><linearGradient id="hbp3" gradientUnits="userSpaceOnUse" x1="66.8" y1="0" x2="408.1" y2="0"><stop offset="0.000" stop-color="#30b060"/><stop offset="0.067" stop-color="#30b060"/><stop offset="0.100" stop-color="#30b070"/><stop offset="0.148" stop-color="#2cb0a8"/><stop offset="0.208" stop-color="#2aa0d8"/><stop offset="0.792" stop-color="#2aa0d8"/><stop offset="0.852" stop-color="#2cb0a8"/><stop offset="0.900" stop-color="#30b070"/><stop offset="0.933" stop-color="#30b060"/><stop offset="1.000" stop-color="#30b060"/></linearGradient><linearGradient id="hcp3" gradientUnits="userSpaceOnUse" x1="66.8" y1="0" x2="408.1" y2="0"><stop offset="0.000" stop-color="#c0d02c"/><stop offset="0.067" stop-color="#c0d02c"/><stop offset="0.094" stop-color="#84c840"/><stop offset="0.148" stop-color="#44c288"/><stop offset="0.208" stop-color="#40c8da"/><stop offset="0.792" stop-color="#40c8da"/><stop offset="0.852" stop-color="#44c288"/><stop offset="0.906" stop-color="#84c840"/><stop offset="0.933" stop-color="#c0d02c"/><stop offset="1.000" stop-color="#c0d02c"/></linearGradient><clipPath id="cp3"><path d="M80.1,184.5 L397.0,184.5 C397.0,230.6 410.8,241.7 410.8,264.0 C410.8,286.5 397.0,297.7 397.0,344.2 L80.1,344.2 C80.1,297.7 65.9,286.5 65.9,264.0 C65.9,241.7 80.1,230.6 80.1,184.5 Z"/></clipPath><clipPath id="op3"><path d="M137.7,203.4 L338.8,203.4 L380.6,237.2 C386.5,241.9 388.1,251.8 388.1,264.2 C388.1,276.6 386.5,286.5 380.6,291.2 L338.8,324.7 L137.7,324.7 L94.3,291.2 C88.2,286.5 86.8,276.6 86.8,264.2 C86.8,251.8 88.2,241.9 94.3,237.2 L137.7,203.4 Z"/></clipPath><linearGradient id="dkp3" gradientUnits="userSpaceOnUse" x1="198.3" y1="0" x2="388.1" y2="0"><stop offset="0" stop-color="#000" stop-opacity="0"/><stop offset="1" stop-color="#000" stop-opacity="0.13"/></linearGradient><linearGradient id="gp4" gradientUnits="userSpaceOnUse" x1="0" y1="205.7" x2="0" y2="319.3"><stop offset="0.0000" stop-color="#249c2a"/><stop offset="0.2060" stop-color="#249c2a"/><stop offset="0.2060" stop-color="#6aa014"/><stop offset="0.2544" stop-color="#6aa014"/><stop offset="0.2544" stop-color="#aa980e"/><stop offset="0.3143" stop-color="#aa980e"/><stop offset="0.3143" stop-color="#c65c0c"/><stop offset="0.3970" stop-color="#c65c0c"/><stop offset="0.3970" stop-color="#be0608"/><stop offset="0.6180" stop-color="#d8080e"/><stop offset="0.6180" stop-color="#de620c"/><stop offset="0.6954" stop-color="#de620c"/><stop offset="0.6954" stop-color="#deca0e"/><stop offset="0.7614" stop-color="#deca0e"/><stop offset="0.7614" stop-color="#82d218"/><stop offset="0.8028" stop-color="#82d218"/><stop offset="0.8028" stop-color="#24d030"/><stop offset="1.0000" stop-color="#24d030"/></linearGradient><linearGradient id="hsp4" gradientUnits="userSpaceOnUse" x1="424.2" y1="0" x2="767.3" y2="0"><stop offset="0.000" stop-color="#2a9cc8" stop-opacity="1"/><stop offset="0.070" stop-color="#2a9cc8" stop-opacity="1"/><stop offset="0.134" stop-color="#2a9cc8" stop-opacity="0"/><stop offset="0.866" stop-color="#2a9cc8" stop-opacity="0"/><stop offset="0.930" stop-color="#2a9cc8" stop-opacity="1"/><stop offset="1.000" stop-color="#2a9cc8" stop-opacity="1"/></linearGradient><linearGradient id="hap4" gradientUnits="userSpaceOnUse" x1="424.2" y1="0" x2="767.3" y2="0"><stop offset="0.000" stop-color="#1e64d0"/><stop offset="0.070" stop-color="#1e64d0"/><stop offset="0.159" stop-color="#1840cc"/><stop offset="0.227" stop-color="#1a40cc"/><stop offset="0.773" stop-color="#1a40cc"/><stop offset="0.841" stop-color="#1840cc"/><stop offset="0.930" stop-color="#1e64d0"/><stop offset="1.000" stop-color="#1e64d0"/></linearGradient><linearGradient id="hbp4" gradientUnits="userSpaceOnUse" x1="424.2" y1="0" x2="767.3" y2="0"><stop offset="0.000" stop-color="#30b060"/><stop offset="0.067" stop-color="#30b060"/><stop offset="0.099" stop-color="#30b070"/><stop offset="0.159" stop-color="#2cb0a8"/><stop offset="0.227" stop-color="#2aa0d8"/><stop offset="0.773" stop-color="#2aa0d8"/><stop offset="0.841" stop-color="#2cb0a8"/><stop offset="0.901" stop-color="#30b070"/><stop offset="0.933" stop-color="#30b060"/><stop offset="1.000" stop-color="#30b060"/></linearGradient><linearGradient id="hcp4" gradientUnits="userSpaceOnUse" x1="424.2" y1="0" x2="767.3" y2="0"><stop offset="0.000" stop-color="#d4b428"/><stop offset="0.067" stop-color="#d4b428"/><stop offset="0.093" stop-color="#84c840"/><stop offset="0.159" stop-color="#44c288"/><stop offset="0.227" stop-color="#40c8da"/><stop offset="0.773" stop-color="#40c8da"/><stop offset="0.841" stop-color="#44c288"/><stop offset="0.907" stop-color="#84c840"/><stop offset="0.933" stop-color="#d4b428"/><stop offset="1.000" stop-color="#d4b428"/></linearGradient><clipPath id="cp4"><path d="M432.0,184.6 L757.7,184.6 C757.7,229.2 766.3,240.0 766.3,261.5 C766.3,284.0 757.7,295.3 757.7,342.0 L432.0,342.0 C432.0,295.3 424.5,284.0 424.5,261.5 C424.5,240.0 432.0,229.2 432.0,184.6 Z"/></clipPath><clipPath id="op4"><path d="M502.0,205.8 L692.6,205.8 L736.3,238.8 C742.4,243.4 747.3,252.0 747.3,263.3 C747.3,274.6 742.4,283.4 736.3,287.8 L692.6,319.3 L502.0,319.3 L455.2,287.8 C448.6,283.4 444.2,274.6 444.2,263.3 C444.2,252.0 448.6,243.4 455.2,238.8 L502.0,205.8 Z"/></clipPath><linearGradient id="dkp4" gradientUnits="userSpaceOnUse" x1="555.0" y1="0" x2="747.3" y2="0"><stop offset="0" stop-color="#000" stop-opacity="0"/><stop offset="1" stop-color="#000" stop-opacity="0.13"/></linearGradient><linearGradient id="gp5" gradientUnits="userSpaceOnUse" x1="0" y1="203.4" x2="0" y2="309.3"><stop offset="0.0000" stop-color="#249c2a"/><stop offset="0.1851" stop-color="#249c2a"/><stop offset="0.1851" stop-color="#6aa014"/><stop offset="0.2332" stop-color="#6aa014"/><stop offset="0.2332" stop-color="#aa980e"/><stop offset="0.2757" stop-color="#aa980e"/><stop offset="0.2757" stop-color="#c65c0c"/><stop offset="0.3598" stop-color="#c65c0c"/><stop offset="0.3598" stop-color="#be0608"/><stop offset="0.6497" stop-color="#d8080e"/><stop offset="0.6497" stop-color="#de620c"/><stop offset="0.7224" stop-color="#de620c"/><stop offset="0.7224" stop-color="#deca0e"/><stop offset="0.7828" stop-color="#deca0e"/><stop offset="0.7828" stop-color="#82d218"/><stop offset="0.8187" stop-color="#82d218"/><stop offset="0.8187" stop-color="#24d030"/><stop offset="1.0000" stop-color="#24d030"/></linearGradient><linearGradient id="hsp5" gradientUnits="userSpaceOnUse" x1="784.2" y1="0" x2="1121.0" y2="0"><stop offset="0.000" stop-color="#2a9cc8" stop-opacity="1"/><stop offset="0.071" stop-color="#2a9cc8" stop-opacity="1"/><stop offset="0.130" stop-color="#2a9cc8" stop-opacity="0"/><stop offset="0.870" stop-color="#2a9cc8" stop-opacity="0"/><stop offset="0.929" stop-color="#2a9cc8" stop-opacity="1"/><stop offset="1.000" stop-color="#2a9cc8" stop-opacity="1"/></linearGradient><linearGradient id="hap5" gradientUnits="userSpaceOnUse" x1="784.2" y1="0" x2="1121.0" y2="0"><stop offset="0.000" stop-color="#1e64d0"/><stop offset="0.071" stop-color="#1e64d0"/><stop offset="0.154" stop-color="#1840cc"/><stop offset="0.217" stop-color="#1a40cc"/><stop offset="0.783" stop-color="#1a40cc"/><stop offset="0.846" stop-color="#1840cc"/><stop offset="0.929" stop-color="#1e64d0"/><stop offset="1.000" stop-color="#1e64d0"/></linearGradient><linearGradient id="hbp5" gradientUnits="userSpaceOnUse" x1="784.2" y1="0" x2="1121.0" y2="0"><stop offset="0.000" stop-color="#30b060"/><stop offset="0.068" stop-color="#30b060"/><stop offset="0.101" stop-color="#30b070"/><stop offset="0.154" stop-color="#2cb0a8"/><stop offset="0.217" stop-color="#2aa0d8"/><stop offset="0.783" stop-color="#2aa0d8"/><stop offset="0.846" stop-color="#2cb0a8"/><stop offset="0.899" stop-color="#30b070"/><stop offset="0.932" stop-color="#30b060"/><stop offset="1.000" stop-color="#30b060"/></linearGradient><linearGradient id="hcp5" gradientUnits="userSpaceOnUse" x1="784.2" y1="0" x2="1121.0" y2="0"><stop offset="0.000" stop-color="#d4b428"/><stop offset="0.068" stop-color="#d4b428"/><stop offset="0.095" stop-color="#84c840"/><stop offset="0.154" stop-color="#44c288"/><stop offset="0.217" stop-color="#40c8da"/><stop offset="0.783" stop-color="#40c8da"/><stop offset="0.846" stop-color="#44c288"/><stop offset="0.905" stop-color="#84c840"/><stop offset="0.932" stop-color="#d4b428"/><stop offset="1.000" stop-color="#d4b428"/></linearGradient><clipPath id="cp5"><path d="M783.5,179.8 L1119.0,179.8 C1119.0,224.6 1123.0,235.4 1123.0,257.0 C1123.0,278.5 1119.0,289.3 1119.0,333.8 L783.5,333.8 C783.5,289.3 778.4,278.5 778.4,257.0 C778.4,235.4 783.5,224.6 783.5,179.8 Z"/></clipPath><clipPath id="op5"><path d="M857.3,203.4 L1046.0,203.4 L1090.0,230.9 C1096.2,234.8 1101.0,244.1 1101.0,255.4 C1101.0,266.7 1096.2,275.8 1090.0,279.9 L1046.0,309.3 L857.3,309.3 L815.2,279.9 C809.3,275.8 804.2,266.7 804.2,255.4 C804.2,244.1 809.3,234.8 815.2,230.9 L857.3,203.4 Z"/></clipPath><linearGradient id="dkp5" gradientUnits="userSpaceOnUse" x1="911.0" y1="0" x2="1101.0" y2="0"><stop offset="0" stop-color="#000" stop-opacity="0"/><stop offset="1" stop-color="#000" stop-opacity="0.13"/></linearGradient><linearGradient id="gp6" gradientUnits="userSpaceOnUse" x1="0" y1="376.4" x2="0" y2="497.4"><stop offset="0.0000" stop-color="#249c2a"/><stop offset="0.0256" stop-color="#249c2a"/><stop offset="0.0256" stop-color="#22a482"/><stop offset="0.1248" stop-color="#22a482"/><stop offset="0.1248" stop-color="#249c2a"/><stop offset="0.2132" stop-color="#249c2a"/><stop offset="0.2132" stop-color="#6aa014"/><stop offset="0.2603" stop-color="#6aa014"/><stop offset="0.2603" stop-color="#aa980e"/><stop offset="0.3256" stop-color="#aa980e"/><stop offset="0.3256" stop-color="#c65c0c"/><stop offset="0.6868" stop-color="#de620c"/><stop offset="0.6868" stop-color="#deca0e"/><stop offset="0.7636" stop-color="#deca0e"/><stop offset="0.7636" stop-color="#82d218"/><stop offset="0.7992" stop-color="#82d218"/><stop offset="0.7992" stop-color="#24d030"/><stop offset="0.8818" stop-color="#24d030"/><stop offset="0.8818" stop-color="#1ed09c"/><stop offset="0.9661" stop-color="#1ed09c"/><stop offset="0.9661" stop-color="#24d030"/><stop offset="1.0000" stop-color="#24d030"/></linearGradient><linearGradient id="hsp6" gradientUnits="userSpaceOnUse" x1="65.5" y1="0" x2="408.5" y2="0"><stop offset="0.000" stop-color="#2a9cc8" stop-opacity="1"/><stop offset="0.070" stop-color="#2a9cc8" stop-opacity="1"/><stop offset="0.123" stop-color="#2a9cc8" stop-opacity="0"/><stop offset="0.877" stop-color="#2a9cc8" stop-opacity="0"/><stop offset="0.930" stop-color="#2a9cc8" stop-opacity="1"/><stop offset="1.000" stop-color="#2a9cc8" stop-opacity="1"/></linearGradient><linearGradient id="hap6" gradientUnits="userSpaceOnUse" x1="65.5" y1="0" x2="408.5" y2="0"><stop offset="0.000" stop-color="#1e64d0"/><stop offset="0.070" stop-color="#1e64d0"/><stop offset="0.145" stop-color="#1840cc"/><stop offset="0.203" stop-color="#1a40cc"/><stop offset="0.797" stop-color="#1a40cc"/><stop offset="0.855" stop-color="#1840cc"/><stop offset="0.930" stop-color="#1e64d0"/><stop offset="1.000" stop-color="#1e64d0"/></linearGradient><linearGradient id="hbp6" gradientUnits="userSpaceOnUse" x1="65.5" y1="0" x2="408.5" y2="0"><stop offset="0.000" stop-color="#30b060"/><stop offset="0.067" stop-color="#30b060"/><stop offset="0.099" stop-color="#30b070"/><stop offset="0.145" stop-color="#2cb0a8"/><stop offset="0.203" stop-color="#2aa0d8"/><stop offset="0.797" stop-color="#2aa0d8"/><stop offset="0.855" stop-color="#2cb0a8"/><stop offset="0.901" stop-color="#30b070"/><stop offset="0.933" stop-color="#30b060"/><stop offset="1.000" stop-color="#30b060"/></linearGradient><linearGradient id="hcp6" gradientUnits="userSpaceOnUse" x1="65.5" y1="0" x2="408.5" y2="0"><stop offset="0.000" stop-color="#c0d02c"/><stop offset="0.067" stop-color="#c0d02c"/><stop offset="0.093" stop-color="#84c840"/><stop offset="0.145" stop-color="#44c288"/><stop offset="0.203" stop-color="#40c8da"/><stop offset="0.797" stop-color="#40c8da"/><stop offset="0.855" stop-color="#44c288"/><stop offset="0.907" stop-color="#84c840"/><stop offset="0.933" stop-color="#c0d02c"/><stop offset="1.000" stop-color="#c0d02c"/></linearGradient><clipPath id="cp6"><path d="M78.8,354.5 L396.6,354.5 C396.6,402.1 408.3,413.5 408.3,436.5 C408.3,459.9 396.6,471.6 396.6,520.0 L78.8,520.0 C78.8,471.6 66.7,459.9 66.7,436.5 C66.7,413.5 78.8,402.1 78.8,354.5 Z"/></clipPath><clipPath id="op6"><path d="M135.0,376.4 L340.2,376.4 L381.0,410.3 C386.7,415.0 388.5,424.9 388.5,437.3 C388.5,449.7 386.7,459.7 381.0,464.3 L340.2,497.4 L135.0,497.4 L93.0,464.3 C87.1,459.7 85.5,449.7 85.5,437.3 C85.5,424.9 87.1,415.0 93.0,410.3 L135.0,376.4 Z"/></clipPath><linearGradient id="dkp6" gradientUnits="userSpaceOnUse" x1="197.0" y1="0" x2="388.5" y2="0"><stop offset="0" stop-color="#000" stop-opacity="0"/><stop offset="1" stop-color="#000" stop-opacity="0.13"/></linearGradient><linearGradient id="gp7" gradientUnits="userSpaceOnUse" x1="0" y1="378.9" x2="0" y2="493.5"><stop offset="0.0000" stop-color="#249c2a"/><stop offset="0.2243" stop-color="#249c2a"/><stop offset="0.2243" stop-color="#6aa014"/><stop offset="0.2731" stop-color="#6aa014"/><stop offset="0.2731" stop-color="#aa980e"/><stop offset="0.3211" stop-color="#aa980e"/><stop offset="0.3211" stop-color="#c65c0c"/><stop offset="0.3944" stop-color="#c65c0c"/><stop offset="0.3944" stop-color="#be0608"/><stop offset="0.6117" stop-color="#d7080e"/><stop offset="0.6117" stop-color="#dd620c"/><stop offset="0.6972" stop-color="#de620c"/><stop offset="0.6972" stop-color="#deca0e"/><stop offset="0.7574" stop-color="#deca0e"/><stop offset="0.7574" stop-color="#82d218"/><stop offset="0.7941" stop-color="#82d218"/><stop offset="0.7941" stop-color="#24d030"/><stop offset="1.0000" stop-color="#24d030"/></linearGradient><linearGradient id="hsp7" gradientUnits="userSpaceOnUse" x1="429.0" y1="0" x2="768.8" y2="0"><stop offset="0.000" stop-color="#2a9cc8" stop-opacity="1"/><stop offset="0.071" stop-color="#2a9cc8" stop-opacity="1"/><stop offset="0.124" stop-color="#2a9cc8" stop-opacity="0"/><stop offset="0.876" stop-color="#2a9cc8" stop-opacity="0"/><stop offset="0.929" stop-color="#2a9cc8" stop-opacity="1"/><stop offset="1.000" stop-color="#2a9cc8" stop-opacity="1"/></linearGradient><linearGradient id="hap7" gradientUnits="userSpaceOnUse" x1="429.0" y1="0" x2="768.8" y2="0"><stop offset="0.000" stop-color="#1e64d0"/><stop offset="0.071" stop-color="#1e64d0"/><stop offset="0.145" stop-color="#1840cc"/><stop offset="0.203" stop-color="#1a40cc"/><stop offset="0.797" stop-color="#1a40cc"/><stop offset="0.855" stop-color="#1840cc"/><stop offset="0.929" stop-color="#1e64d0"/><stop offset="1.000" stop-color="#1e64d0"/></linearGradient><linearGradient id="hbp7" gradientUnits="userSpaceOnUse" x1="429.0" y1="0" x2="768.8" y2="0"><stop offset="0.000" stop-color="#30b060"/><stop offset="0.068" stop-color="#30b060"/><stop offset="0.100" stop-color="#30b070"/><stop offset="0.145" stop-color="#2cb0a8"/><stop offset="0.203" stop-color="#2aa0d8"/><stop offset="0.797" stop-color="#2aa0d8"/><stop offset="0.855" stop-color="#2cb0a8"/><stop offset="0.900" stop-color="#30b070"/><stop offset="0.932" stop-color="#30b060"/><stop offset="1.000" stop-color="#30b060"/></linearGradient><linearGradient id="hcp7" gradientUnits="userSpaceOnUse" x1="429.0" y1="0" x2="768.8" y2="0"><stop offset="0.000" stop-color="#d4b428"/><stop offset="0.068" stop-color="#d4b428"/><stop offset="0.094" stop-color="#84c840"/><stop offset="0.145" stop-color="#44c288"/><stop offset="0.203" stop-color="#40c8da"/><stop offset="0.797" stop-color="#40c8da"/><stop offset="0.855" stop-color="#44c288"/><stop offset="0.906" stop-color="#84c840"/><stop offset="0.932" stop-color="#d4b428"/><stop offset="1.000" stop-color="#d4b428"/></linearGradient><clipPath id="cp7"><path d="M431.8,353.5 L765.5,353.5 C765.5,401.6 770.8,413.3 770.8,436.5 C770.8,459.9 765.5,471.6 765.5,520.0 L431.8,520.0 C431.8,471.6 426.8,459.9 426.8,436.5 C426.8,413.3 431.8,401.6 431.8,353.5 Z"/></clipPath><clipPath id="op7"><path d="M498.0,378.9 L699.4,378.9 L737.8,412.0 C743.2,416.6 748.8,425.2 748.8,436.5 C748.8,447.8 743.2,456.4 737.8,461.0 L699.4,493.5 L498.0,493.5 L460.0,461.0 C454.7,456.4 449.0,447.8 449.0,436.5 C449.0,425.2 454.7,416.6 460.0,412.0 L498.0,378.9 Z"/></clipPath><linearGradient id="dkp7" gradientUnits="userSpaceOnUse" x1="559.0" y1="0" x2="748.8" y2="0"><stop offset="0" stop-color="#000" stop-opacity="0"/><stop offset="1" stop-color="#000" stop-opacity="0.13"/></linearGradient><linearGradient id="gp8" gradientUnits="userSpaceOnUse" x1="0" y1="380.1" x2="0" y2="489"><stop offset="0.0000" stop-color="#249c2a"/><stop offset="0.2222" stop-color="#249c2a"/><stop offset="0.2222" stop-color="#6aa014"/><stop offset="0.2718" stop-color="#6aa014"/><stop offset="0.2718" stop-color="#aa980e"/><stop offset="0.3150" stop-color="#aa980e"/><stop offset="0.3150" stop-color="#c65c0c"/><stop offset="0.3829" stop-color="#c65c0c"/><stop offset="0.3829" stop-color="#be0608"/><stop offset="0.6299" stop-color="#d8080e"/><stop offset="0.6299" stop-color="#de620c"/><stop offset="0.6979" stop-color="#de620c"/><stop offset="0.6979" stop-color="#deca0e"/><stop offset="0.7530" stop-color="#deca0e"/><stop offset="0.7530" stop-color="#82d218"/><stop offset="0.7897" stop-color="#82d218"/><stop offset="0.7897" stop-color="#24d030"/><stop offset="1.0000" stop-color="#24d030"/></linearGradient><linearGradient id="hsp8" gradientUnits="userSpaceOnUse" x1="785.0" y1="0" x2="1122.5" y2="0"><stop offset="0.000" stop-color="#2a9cc8" stop-opacity="1"/><stop offset="0.071" stop-color="#2a9cc8" stop-opacity="1"/><stop offset="0.133" stop-color="#2a9cc8" stop-opacity="0"/><stop offset="0.867" stop-color="#2a9cc8" stop-opacity="0"/><stop offset="0.929" stop-color="#2a9cc8" stop-opacity="1"/><stop offset="1.000" stop-color="#2a9cc8" stop-opacity="1"/></linearGradient><linearGradient id="hap8" gradientUnits="userSpaceOnUse" x1="785.0" y1="0" x2="1122.5" y2="0"><stop offset="0.000" stop-color="#1e64d0"/><stop offset="0.071" stop-color="#1e64d0"/><stop offset="0.157" stop-color="#1840cc"/><stop offset="0.222" stop-color="#1a40cc"/><stop offset="0.778" stop-color="#1a40cc"/><stop offset="0.843" stop-color="#1840cc"/><stop offset="0.929" stop-color="#1e64d0"/><stop offset="1.000" stop-color="#1e64d0"/></linearGradient><linearGradient id="hbp8" gradientUnits="userSpaceOnUse" x1="785.0" y1="0" x2="1122.5" y2="0"><stop offset="0.000" stop-color="#30b060"/><stop offset="0.068" stop-color="#30b060"/><stop offset="0.101" stop-color="#30b070"/><stop offset="0.157" stop-color="#2cb0a8"/><stop offset="0.222" stop-color="#2aa0d8"/><stop offset="0.778" stop-color="#2aa0d8"/><stop offset="0.843" stop-color="#2cb0a8"/><stop offset="0.899" stop-color="#30b070"/><stop offset="0.932" stop-color="#30b060"/><stop offset="1.000" stop-color="#30b060"/></linearGradient><linearGradient id="hcp8" gradientUnits="userSpaceOnUse" x1="785.0" y1="0" x2="1122.5" y2="0"><stop offset="0.000" stop-color="#d4b428"/><stop offset="0.068" stop-color="#d4b428"/><stop offset="0.095" stop-color="#84c840"/><stop offset="0.157" stop-color="#44c288"/><stop offset="0.222" stop-color="#40c8da"/><stop offset="0.778" stop-color="#40c8da"/><stop offset="0.843" stop-color="#44c288"/><stop offset="0.905" stop-color="#84c840"/><stop offset="0.932" stop-color="#d4b428"/><stop offset="1.000" stop-color="#d4b428"/></linearGradient><clipPath id="cp8"><path d="M786.7,356.5 L1123.1,356.5 C1123.1,401.4 1125.0,412.3 1125.0,434.0 C1125.0,456.0 1123.1,467.0 1123.1,512.5 L786.7,512.5 C786.7,467.0 785.5,456.0 785.5,434.0 C785.5,412.3 786.7,401.4 786.7,356.5 Z"/></clipPath><clipPath id="op8"><path d="M860.0,380.1 L1051.5,380.1 L1091.5,410.5 C1097.1,414.8 1102.5,423.7 1102.5,435.0 C1102.5,446.3 1097.1,455.4 1091.5,459.5 L1051.5,489.0 L860.0,489.0 L816.0,459.5 C809.8,455.4 805.0,446.3 805.0,435.0 C805.0,423.7 809.8,414.8 816.0,410.5 L860.0,380.1 Z"/></clipPath><linearGradient id="dkp8" gradientUnits="userSpaceOnUse" x1="915.0" y1="0" x2="1102.5" y2="0"><stop offset="0" stop-color="#000" stop-opacity="0"/><stop offset="1" stop-color="#000" stop-opacity="0.13"/></linearGradient><linearGradient id="gp9" gradientUnits="userSpaceOnUse" x1="0" y1="553.6" x2="0" y2="679.3"><stop offset="0.0000" stop-color="#249c2a"/><stop offset="0.0247" stop-color="#249c2a"/><stop offset="0.0247" stop-color="#22a482"/><stop offset="0.1432" stop-color="#22a482"/><stop offset="0.1432" stop-color="#249c2a"/><stop offset="0.2371" stop-color="#249c2a"/><stop offset="0.2371" stop-color="#6aa014"/><stop offset="0.2840" stop-color="#6aa014"/><stop offset="0.2840" stop-color="#aa980e"/><stop offset="0.3429" stop-color="#aa980e"/><stop offset="0.3429" stop-color="#c65c0c"/><stop offset="0.6595" stop-color="#de620c"/><stop offset="0.6595" stop-color="#deca0e"/><stop offset="0.7303" stop-color="#deca0e"/><stop offset="0.7303" stop-color="#82d218"/><stop offset="0.7653" stop-color="#82d218"/><stop offset="0.7653" stop-color="#24d030"/><stop offset="0.8528" stop-color="#24d030"/><stop offset="0.8528" stop-color="#1ed09c"/><stop offset="0.9674" stop-color="#1ed09c"/><stop offset="0.9674" stop-color="#24d030"/><stop offset="1.0000" stop-color="#24d030"/></linearGradient><linearGradient id="hsp9" gradientUnits="userSpaceOnUse" x1="70.7" y1="0" x2="413.4" y2="0"><stop offset="0.000" stop-color="#2a9cc8" stop-opacity="1"/><stop offset="0.070" stop-color="#2a9cc8" stop-opacity="1"/><stop offset="0.120" stop-color="#2a9cc8" stop-opacity="0"/><stop offset="0.880" stop-color="#2a9cc8" stop-opacity="0"/><stop offset="0.930" stop-color="#2a9cc8" stop-opacity="1"/><stop offset="1.000" stop-color="#2a9cc8" stop-opacity="1"/></linearGradient><linearGradient id="hap9" gradientUnits="userSpaceOnUse" x1="70.7" y1="0" x2="413.4" y2="0"><stop offset="0.000" stop-color="#1e64d0"/><stop offset="0.070" stop-color="#1e64d0"/><stop offset="0.140" stop-color="#1840cc"/><stop offset="0.195" stop-color="#1a40cc"/><stop offset="0.805" stop-color="#1a40cc"/><stop offset="0.860" stop-color="#1840cc"/><stop offset="0.930" stop-color="#1e64d0"/><stop offset="1.000" stop-color="#1e64d0"/></linearGradient><linearGradient id="hbp9" gradientUnits="userSpaceOnUse" x1="70.7" y1="0" x2="413.4" y2="0"><stop offset="0.000" stop-color="#30b060"/><stop offset="0.067" stop-color="#30b060"/><stop offset="0.099" stop-color="#30b070"/><stop offset="0.140" stop-color="#2cb0a8"/><stop offset="0.195" stop-color="#2aa0d8"/><stop offset="0.805" stop-color="#2aa0d8"/><stop offset="0.860" stop-color="#2cb0a8"/><stop offset="0.901" stop-color="#30b070"/><stop offset="0.933" stop-color="#30b060"/><stop offset="1.000" stop-color="#30b060"/></linearGradient><linearGradient id="hcp9" gradientUnits="userSpaceOnUse" x1="70.7" y1="0" x2="413.4" y2="0"><stop offset="0.000" stop-color="#c0d02c"/><stop offset="0.067" stop-color="#c0d02c"/><stop offset="0.093" stop-color="#84c840"/><stop offset="0.140" stop-color="#44c288"/><stop offset="0.195" stop-color="#40c8da"/><stop offset="0.805" stop-color="#40c8da"/><stop offset="0.860" stop-color="#44c288"/><stop offset="0.907" stop-color="#84c840"/><stop offset="0.933" stop-color="#c0d02c"/><stop offset="1.000" stop-color="#c0d02c"/></linearGradient><clipPath id="cp9"><path d="M82.4,533.5 L402.5,533.5 C402.5,581.1 415.4,592.5 415.4,615.5 C415.4,638.7 402.5,650.4 402.5,698.5 L82.4,698.5 C82.4,650.4 68.8,638.7 68.8,615.5 C68.8,592.5 82.4,581.1 82.4,533.5 Z"/></clipPath><clipPath id="op9"><path d="M137.6,553.6 L347.0,553.6 L385.9,589.6 C391.3,594.6 393.4,604.2 393.4,616.6 C393.4,629.0 391.3,638.6 385.9,643.6 L347.0,679.3 L137.6,679.3 L98.2,643.6 C92.7,638.6 90.7,629.0 90.7,616.6 C90.7,604.2 92.7,594.6 98.2,589.6 L137.6,553.6 Z"/></clipPath><linearGradient id="dkp9" gradientUnits="userSpaceOnUse" x1="201.4" y1="0" x2="393.4" y2="0"><stop offset="0" stop-color="#000" stop-opacity="0"/><stop offset="1" stop-color="#000" stop-opacity="0.13"/></linearGradient><linearGradient id="gp10" gradientUnits="userSpaceOnUse" x1="0" y1="553.3" x2="0" y2="670.2"><stop offset="0.0000" stop-color="#22a482"/><stop offset="0.1326" stop-color="#22a482"/><stop offset="0.1326" stop-color="#249c2a"/><stop offset="0.2515" stop-color="#249c2a"/><stop offset="0.2515" stop-color="#6aa014"/><stop offset="0.2994" stop-color="#6aa014"/><stop offset="0.2994" stop-color="#aa980e"/><stop offset="0.3405" stop-color="#aa980e"/><stop offset="0.3405" stop-color="#c65c0c"/><stop offset="0.4294" stop-color="#c75c0c"/><stop offset="0.4294" stop-color="#c75c0c"/><stop offset="0.5902" stop-color="#da610c"/><stop offset="0.5902" stop-color="#da610c"/><stop offset="0.6732" stop-color="#de620c"/><stop offset="0.6732" stop-color="#deca0e"/><stop offset="0.7322" stop-color="#deca0e"/><stop offset="0.7322" stop-color="#82d218"/><stop offset="0.7742" stop-color="#82d218"/><stop offset="0.7742" stop-color="#24d030"/><stop offset="0.8931" stop-color="#24d030"/><stop offset="0.8931" stop-color="#1ed09c"/><stop offset="1.0000" stop-color="#1ed09c"/></linearGradient><linearGradient id="hsp10" gradientUnits="userSpaceOnUse" x1="426.0" y1="0" x2="762.0" y2="0"><stop offset="0.000" stop-color="#2a9cc8" stop-opacity="1"/><stop offset="0.071" stop-color="#2a9cc8" stop-opacity="1"/><stop offset="0.123" stop-color="#2a9cc8" stop-opacity="0"/><stop offset="0.877" stop-color="#2a9cc8" stop-opacity="0"/><stop offset="0.929" stop-color="#2a9cc8" stop-opacity="1"/><stop offset="1.000" stop-color="#2a9cc8" stop-opacity="1"/></linearGradient><linearGradient id="hap10" gradientUnits="userSpaceOnUse" x1="426.0" y1="0" x2="762.0" y2="0"><stop offset="0.000" stop-color="#1e64d0"/><stop offset="0.071" stop-color="#1e64d0"/><stop offset="0.144" stop-color="#1840cc"/><stop offset="0.200" stop-color="#1a40cc"/><stop offset="0.800" stop-color="#1a40cc"/><stop offset="0.856" stop-color="#1840cc"/><stop offset="0.929" stop-color="#1e64d0"/><stop offset="1.000" stop-color="#1e64d0"/></linearGradient><linearGradient id="hbp10" gradientUnits="userSpaceOnUse" x1="426.0" y1="0" x2="762.0" y2="0"><stop offset="0.000" stop-color="#30b060"/><stop offset="0.068" stop-color="#30b060"/><stop offset="0.101" stop-color="#30b070"/><stop offset="0.144" stop-color="#2cb0a8"/><stop offset="0.200" stop-color="#2aa0d8"/><stop offset="0.800" stop-color="#2aa0d8"/><stop offset="0.856" stop-color="#2cb0a8"/><stop offset="0.899" stop-color="#30b070"/><stop offset="0.932" stop-color="#30b060"/><stop offset="1.000" stop-color="#30b060"/></linearGradient><linearGradient id="hcp10" gradientUnits="userSpaceOnUse" x1="426.0" y1="0" x2="762.0" y2="0"><stop offset="0.000" stop-color="#d4b428"/><stop offset="0.068" stop-color="#d4b428"/><stop offset="0.095" stop-color="#84c840"/><stop offset="0.144" stop-color="#44c288"/><stop offset="0.200" stop-color="#40c8da"/><stop offset="0.800" stop-color="#40c8da"/><stop offset="0.856" stop-color="#44c288"/><stop offset="0.905" stop-color="#84c840"/><stop offset="0.932" stop-color="#d4b428"/><stop offset="1.000" stop-color="#d4b428"/></linearGradient><clipPath id="cp10"><path d="M428.0,531.0 L758.5,531.0 C758.5,578.6 765.5,590.0 765.5,613.0 C765.5,635.8 758.5,647.2 758.5,694.5 L428.0,694.5 C428.0,647.2 421.5,635.8 421.5,613.0 C421.5,590.0 428.0,578.6 428.0,531.0 Z"/></clipPath><clipPath id="op10"><path d="M493.2,552.8 L692.7,552.8 L731.0,588.0 C736.4,592.9 742.0,601.2 742.0,612.5 C742.0,623.8 736.4,632.4 731.0,637.0 L692.7,670.2 L493.2,670.2 L457.0,637.0 C451.9,632.4 446.0,623.8 446.0,612.5 C446.0,601.2 451.9,592.9 457.0,588.0 L493.2,552.8 Z"/></clipPath><linearGradient id="dkp10" gradientUnits="userSpaceOnUse" x1="553.6" y1="0" x2="742.0" y2="0"><stop offset="0" stop-color="#000" stop-opacity="0"/><stop offset="1" stop-color="#000" stop-opacity="0.13"/></linearGradient><linearGradient id="gp11" gradientUnits="userSpaceOnUse" x1="0" y1="555.4" x2="0" y2="668.4"><stop offset="0.0000" stop-color="#249c2a"/><stop offset="0.2442" stop-color="#249c2a"/><stop offset="0.2442" stop-color="#6aa014"/><stop offset="0.2858" stop-color="#6aa014"/><stop offset="0.2858" stop-color="#aa980e"/><stop offset="0.3274" stop-color="#aa980e"/><stop offset="0.3274" stop-color="#c65c0c"/><stop offset="0.3867" stop-color="#c65c0c"/><stop offset="0.3867" stop-color="#be0608"/><stop offset="0.6186" stop-color="#d8080e"/><stop offset="0.6186" stop-color="#de620c"/><stop offset="0.6779" stop-color="#de620c"/><stop offset="0.6779" stop-color="#deca0e"/><stop offset="0.7257" stop-color="#deca0e"/><stop offset="0.7257" stop-color="#82d218"/><stop offset="0.7673" stop-color="#82d218"/><stop offset="0.7673" stop-color="#24d030"/><stop offset="1.0000" stop-color="#24d030"/></linearGradient><linearGradient id="hsp11" gradientUnits="userSpaceOnUse" x1="787.3" y1="0" x2="1126.6" y2="0"><stop offset="0.000" stop-color="#2a9cc8" stop-opacity="1"/><stop offset="0.071" stop-color="#2a9cc8" stop-opacity="1"/><stop offset="0.129" stop-color="#2a9cc8" stop-opacity="0"/><stop offset="0.871" stop-color="#2a9cc8" stop-opacity="0"/><stop offset="0.929" stop-color="#2a9cc8" stop-opacity="1"/><stop offset="1.000" stop-color="#2a9cc8" stop-opacity="1"/></linearGradient><linearGradient id="hap11" gradientUnits="userSpaceOnUse" x1="787.3" y1="0" x2="1126.6" y2="0"><stop offset="0.000" stop-color="#1e64d0"/><stop offset="0.071" stop-color="#1e64d0"/><stop offset="0.152" stop-color="#1840cc"/><stop offset="0.214" stop-color="#1a40cc"/><stop offset="0.786" stop-color="#1a40cc"/><stop offset="0.848" stop-color="#1840cc"/><stop offset="0.929" stop-color="#1e64d0"/><stop offset="1.000" stop-color="#1e64d0"/></linearGradient><linearGradient id="hbp11" gradientUnits="userSpaceOnUse" x1="787.3" y1="0" x2="1126.6" y2="0"><stop offset="0.000" stop-color="#30b060"/><stop offset="0.068" stop-color="#30b060"/><stop offset="0.100" stop-color="#30b070"/><stop offset="0.152" stop-color="#2cb0a8"/><stop offset="0.214" stop-color="#2aa0d8"/><stop offset="0.786" stop-color="#2aa0d8"/><stop offset="0.848" stop-color="#2cb0a8"/><stop offset="0.900" stop-color="#30b070"/><stop offset="0.932" stop-color="#30b060"/><stop offset="1.000" stop-color="#30b060"/></linearGradient><linearGradient id="hcp11" gradientUnits="userSpaceOnUse" x1="787.3" y1="0" x2="1126.6" y2="0"><stop offset="0.000" stop-color="#d4b428"/><stop offset="0.068" stop-color="#d4b428"/><stop offset="0.094" stop-color="#84c840"/><stop offset="0.152" stop-color="#44c288"/><stop offset="0.214" stop-color="#40c8da"/><stop offset="0.786" stop-color="#40c8da"/><stop offset="0.848" stop-color="#44c288"/><stop offset="0.906" stop-color="#84c840"/><stop offset="0.932" stop-color="#d4b428"/><stop offset="1.000" stop-color="#d4b428"/></linearGradient><clipPath id="cp11"><path d="M788.0,533.5 L1124.5,533.5 C1124.5,579.0 1126.0,590.0 1126.0,612.0 C1126.0,634.4 1124.5,645.6 1124.5,692.0 L788.0,692.0 C788.0,645.6 785.6,634.4 785.6,612.0 C785.6,590.0 788.0,579.0 788.0,533.5 Z"/></clipPath><clipPath id="op11"><path d="M860.0,555.4 L1052.9,555.4 L1095.6,588.8 C1101.6,593.5 1106.6,602.0 1106.6,613.3 C1106.6,624.6 1101.6,633.5 1095.6,637.8 L1052.9,668.4 L860.0,668.4 L818.3,637.8 C812.5,633.5 807.3,624.6 807.3,613.3 C807.3,602.0 812.5,593.5 818.3,588.8 L860.0,555.4 Z"/></clipPath><linearGradient id="dkp11" gradientUnits="userSpaceOnUse" x1="916.5" y1="0" x2="1106.6" y2="0"><stop offset="0" stop-color="#000" stop-opacity="0"/><stop offset="1" stop-color="#000" stop-opacity="0.13"/></linearGradient><linearGradient id="gp12" gradientUnits="userSpaceOnUse" x1="0" y1="729.1" x2="0" y2="852.6"><stop offset="0.0000" stop-color="#249c2a"/><stop offset="0.0251" stop-color="#249c2a"/><stop offset="0.0251" stop-color="#22a482"/><stop offset="0.1231" stop-color="#22a482"/><stop offset="0.1231" stop-color="#249c2a"/><stop offset="0.2113" stop-color="#249c2a"/><stop offset="0.2113" stop-color="#6aa014"/><stop offset="0.2526" stop-color="#6aa014"/><stop offset="0.2526" stop-color="#aa980e"/><stop offset="0.3174" stop-color="#aa980e"/><stop offset="0.3174" stop-color="#c65c0c"/><stop offset="0.6826" stop-color="#de620c"/><stop offset="0.6826" stop-color="#deca0e"/><stop offset="0.7587" stop-color="#deca0e"/><stop offset="0.7587" stop-color="#82d218"/><stop offset="0.7887" stop-color="#82d218"/><stop offset="0.7887" stop-color="#24d030"/><stop offset="0.8769" stop-color="#24d030"/><stop offset="0.8769" stop-color="#1ed09c"/><stop offset="0.9668" stop-color="#1ed09c"/><stop offset="0.9668" stop-color="#24d030"/><stop offset="1.0000" stop-color="#24d030"/></linearGradient><linearGradient id="hsp12" gradientUnits="userSpaceOnUse" x1="69.1" y1="0" x2="414.9" y2="0"><stop offset="0.000" stop-color="#2a9cc8" stop-opacity="1"/><stop offset="0.069" stop-color="#2a9cc8" stop-opacity="1"/><stop offset="0.123" stop-color="#2a9cc8" stop-opacity="0"/><stop offset="0.877" stop-color="#2a9cc8" stop-opacity="0"/><stop offset="0.931" stop-color="#2a9cc8" stop-opacity="1"/><stop offset="1.000" stop-color="#2a9cc8" stop-opacity="1"/></linearGradient><linearGradient id="hap12" gradientUnits="userSpaceOnUse" x1="69.1" y1="0" x2="414.9" y2="0"><stop offset="0.000" stop-color="#1e64d0"/><stop offset="0.069" stop-color="#1e64d0"/><stop offset="0.144" stop-color="#1840cc"/><stop offset="0.202" stop-color="#1a40cc"/><stop offset="0.798" stop-color="#1a40cc"/><stop offset="0.856" stop-color="#1840cc"/><stop offset="0.931" stop-color="#1e64d0"/><stop offset="1.000" stop-color="#1e64d0"/></linearGradient><linearGradient id="hbp12" gradientUnits="userSpaceOnUse" x1="69.1" y1="0" x2="414.9" y2="0"><stop offset="0.000" stop-color="#30b060"/><stop offset="0.067" stop-color="#30b060"/><stop offset="0.098" stop-color="#30b070"/><stop offset="0.144" stop-color="#2cb0a8"/><stop offset="0.202" stop-color="#2aa0d8"/><stop offset="0.798" stop-color="#2aa0d8"/><stop offset="0.856" stop-color="#2cb0a8"/><stop offset="0.902" stop-color="#30b070"/><stop offset="0.933" stop-color="#30b060"/><stop offset="1.000" stop-color="#30b060"/></linearGradient><linearGradient id="hcp12" gradientUnits="userSpaceOnUse" x1="69.1" y1="0" x2="414.9" y2="0"><stop offset="0.000" stop-color="#c0d02c"/><stop offset="0.067" stop-color="#c0d02c"/><stop offset="0.093" stop-color="#84c840"/><stop offset="0.144" stop-color="#44c288"/><stop offset="0.202" stop-color="#40c8da"/><stop offset="0.798" stop-color="#40c8da"/><stop offset="0.856" stop-color="#44c288"/><stop offset="0.907" stop-color="#84c840"/><stop offset="0.933" stop-color="#c0d02c"/><stop offset="1.000" stop-color="#c0d02c"/></linearGradient><clipPath id="cp12"><path d="M81.9,710.0 L403.0,710.0 C403.0,757.0 416.1,768.3 416.1,791.0 C416.1,813.7 403.0,825.0 403.0,872.0 L81.9,872.0 C81.9,825.0 68.2,813.7 68.2,791.0 C68.2,768.3 81.9,757.0 81.9,710.0 Z"/></clipPath><clipPath id="op12"><path d="M139.0,729.1 L345.5,729.1 L387.4,763.9 C393.3,768.8 394.9,778.5 394.9,790.9 C394.9,803.3 393.3,813.0 387.4,817.9 L345.5,852.6 L139.0,852.6 L96.6,817.9 C90.7,813.0 89.1,803.3 89.1,790.9 C89.1,778.5 90.7,768.8 96.6,763.9 L139.0,729.1 Z"/></clipPath><linearGradient id="dkp12" gradientUnits="userSpaceOnUse" x1="201.4" y1="0" x2="394.9" y2="0"><stop offset="0" stop-color="#000" stop-opacity="0"/><stop offset="1" stop-color="#000" stop-opacity="0.13"/></linearGradient><linearGradient id="gp13" gradientUnits="userSpaceOnUse" x1="0" y1="738.7" x2="0" y2="853"><stop offset="0.0000" stop-color="#249c2a"/><stop offset="0.2003" stop-color="#249c2a"/><stop offset="0.2003" stop-color="#6aa014"/><stop offset="0.2528" stop-color="#6aa014"/><stop offset="0.2528" stop-color="#aa980e"/><stop offset="0.3062" stop-color="#aa980e"/><stop offset="0.3062" stop-color="#c65c0c"/><stop offset="0.3963" stop-color="#c65c0c"/><stop offset="0.3963" stop-color="#c65c0c"/><stop offset="0.5888" stop-color="#da610c"/><stop offset="0.5888" stop-color="#da610c"/><stop offset="0.6885" stop-color="#de620c"/><stop offset="0.6885" stop-color="#deca0e"/><stop offset="0.7472" stop-color="#deca0e"/><stop offset="0.7472" stop-color="#82d218"/><stop offset="0.7944" stop-color="#82d218"/><stop offset="0.7944" stop-color="#24d030"/><stop offset="1.0000" stop-color="#24d030"/></linearGradient><linearGradient id="hsp13" gradientUnits="userSpaceOnUse" x1="425.0" y1="0" x2="767.3" y2="0"><stop offset="0.000" stop-color="#2a9cc8" stop-opacity="1"/><stop offset="0.070" stop-color="#2a9cc8" stop-opacity="1"/><stop offset="0.130" stop-color="#2a9cc8" stop-opacity="0"/><stop offset="0.870" stop-color="#2a9cc8" stop-opacity="0"/><stop offset="0.930" stop-color="#2a9cc8" stop-opacity="1"/><stop offset="1.000" stop-color="#2a9cc8" stop-opacity="1"/></linearGradient><linearGradient id="hap13" gradientUnits="userSpaceOnUse" x1="425.0" y1="0" x2="767.3" y2="0"><stop offset="0.000" stop-color="#1e64d0"/><stop offset="0.070" stop-color="#1e64d0"/><stop offset="0.154" stop-color="#1840cc"/><stop offset="0.219" stop-color="#1a40cc"/><stop offset="0.781" stop-color="#1a40cc"/><stop offset="0.846" stop-color="#1840cc"/><stop offset="0.930" stop-color="#1e64d0"/><stop offset="1.000" stop-color="#1e64d0"/></linearGradient><linearGradient id="hbp13" gradientUnits="userSpaceOnUse" x1="425.0" y1="0" x2="767.3" y2="0"><stop offset="0.000" stop-color="#30b060"/><stop offset="0.067" stop-color="#30b060"/><stop offset="0.099" stop-color="#30b070"/><stop offset="0.154" stop-color="#2cb0a8"/><stop offset="0.219" stop-color="#2aa0d8"/><stop offset="0.781" stop-color="#2aa0d8"/><stop offset="0.846" stop-color="#2cb0a8"/><stop offset="0.901" stop-color="#30b070"/><stop offset="0.933" stop-color="#30b060"/><stop offset="1.000" stop-color="#30b060"/></linearGradient><linearGradient id="hcp13" gradientUnits="userSpaceOnUse" x1="425.0" y1="0" x2="767.3" y2="0"><stop offset="0.000" stop-color="#d4b428"/><stop offset="0.067" stop-color="#d4b428"/><stop offset="0.093" stop-color="#84c840"/><stop offset="0.154" stop-color="#44c288"/><stop offset="0.219" stop-color="#40c8da"/><stop offset="0.781" stop-color="#40c8da"/><stop offset="0.846" stop-color="#44c288"/><stop offset="0.907" stop-color="#84c840"/><stop offset="0.933" stop-color="#d4b428"/><stop offset="1.000" stop-color="#d4b428"/></linearGradient><clipPath id="cp13"><path d="M435.0,717.2 L762.5,717.2 C762.5,762.3 770.1,773.2 770.1,795.0 C770.1,817.4 762.5,828.6 762.5,875.0 L435.0,875.0 C435.0,828.6 427.5,817.4 427.5,795.0 C427.5,773.2 435.0,762.3 435.0,717.2 Z"/></clipPath><clipPath id="op13"><path d="M499.8,738.7 L698.2,738.7 L736.3,771.0 C741.6,775.5 747.3,784.2 747.3,795.5 C747.3,806.8 741.6,815.4 736.3,820.0 L698.2,853.0 L499.8,853.0 L456.0,820.0 C449.9,815.4 445.0,806.8 445.0,795.5 C445.0,784.2 449.9,775.5 456.0,771.0 L499.8,738.7 Z"/></clipPath><linearGradient id="dkp13" gradientUnits="userSpaceOnUse" x1="558.5" y1="0" x2="747.3" y2="0"><stop offset="0" stop-color="#000" stop-opacity="0"/><stop offset="1" stop-color="#000" stop-opacity="0.13"/></linearGradient><linearGradient id="gp14" gradientUnits="userSpaceOnUse" x1="0" y1="743.2" x2="0" y2="847.5"><stop offset="0.0000" stop-color="#249c2a"/><stop offset="0.1994" stop-color="#249c2a"/><stop offset="0.1994" stop-color="#6aa014"/><stop offset="0.2493" stop-color="#6aa014"/><stop offset="0.2493" stop-color="#aa980e"/><stop offset="0.2924" stop-color="#aa980e"/><stop offset="0.2924" stop-color="#c65c0c"/><stop offset="0.3615" stop-color="#c65c0c"/><stop offset="0.3615" stop-color="#be0608"/><stop offset="0.6606" stop-color="#d8080e"/><stop offset="0.6606" stop-color="#de620c"/><stop offset="0.7239" stop-color="#de620c"/><stop offset="0.7239" stop-color="#deca0e"/><stop offset="0.7862" stop-color="#deca0e"/><stop offset="0.7862" stop-color="#82d218"/><stop offset="0.8236" stop-color="#82d218"/><stop offset="0.8236" stop-color="#24d030"/><stop offset="1.0000" stop-color="#24d030"/></linearGradient><linearGradient id="hsp14" gradientUnits="userSpaceOnUse" x1="785.0" y1="0" x2="1122.5" y2="0"><stop offset="0.000" stop-color="#2a9cc8" stop-opacity="1"/><stop offset="0.071" stop-color="#2a9cc8" stop-opacity="1"/><stop offset="0.134" stop-color="#2a9cc8" stop-opacity="0"/><stop offset="0.866" stop-color="#2a9cc8" stop-opacity="0"/><stop offset="0.929" stop-color="#2a9cc8" stop-opacity="1"/><stop offset="1.000" stop-color="#2a9cc8" stop-opacity="1"/></linearGradient><linearGradient id="hap14" gradientUnits="userSpaceOnUse" x1="785.0" y1="0" x2="1122.5" y2="0"><stop offset="0.000" stop-color="#1e64d0"/><stop offset="0.071" stop-color="#1e64d0"/><stop offset="0.160" stop-color="#1840cc"/><stop offset="0.226" stop-color="#1a40cc"/><stop offset="0.774" stop-color="#1a40cc"/><stop offset="0.840" stop-color="#1840cc"/><stop offset="0.929" stop-color="#1e64d0"/><stop offset="1.000" stop-color="#1e64d0"/></linearGradient><linearGradient id="hbp14" gradientUnits="userSpaceOnUse" x1="785.0" y1="0" x2="1122.5" y2="0"><stop offset="0.000" stop-color="#30b060"/><stop offset="0.068" stop-color="#30b060"/><stop offset="0.101" stop-color="#30b070"/><stop offset="0.160" stop-color="#2cb0a8"/><stop offset="0.226" stop-color="#2aa0d8"/><stop offset="0.774" stop-color="#2aa0d8"/><stop offset="0.840" stop-color="#2cb0a8"/><stop offset="0.899" stop-color="#30b070"/><stop offset="0.932" stop-color="#30b060"/><stop offset="1.000" stop-color="#30b060"/></linearGradient><linearGradient id="hcp14" gradientUnits="userSpaceOnUse" x1="785.0" y1="0" x2="1122.5" y2="0"><stop offset="0.000" stop-color="#d4b428"/><stop offset="0.068" stop-color="#d4b428"/><stop offset="0.095" stop-color="#84c840"/><stop offset="0.160" stop-color="#44c288"/><stop offset="0.226" stop-color="#40c8da"/><stop offset="0.774" stop-color="#40c8da"/><stop offset="0.840" stop-color="#44c288"/><stop offset="0.905" stop-color="#84c840"/><stop offset="0.932" stop-color="#d4b428"/><stop offset="1.000" stop-color="#d4b428"/></linearGradient><clipPath id="cp14"><path d="M788.4,720.0 L1124.5,720.0 C1124.5,764.7 1126.0,775.4 1126.0,797.0 C1126.0,818.3 1124.5,829.0 1124.5,873.2 L788.4,873.2 C788.4,829.0 784.5,818.3 784.5,797.0 C784.5,775.4 788.4,764.7 788.4,720.0 Z"/></clipPath><clipPath id="op14"><path d="M861.4,743.2 L1051.5,743.2 L1091.5,772.9 C1097.1,777.1 1102.5,786.1 1102.5,797.4 C1102.5,808.7 1097.1,818.3 1091.5,821.9 L1051.5,847.5 L861.4,847.5 L816.0,821.9 C809.6,818.3 805.0,808.7 805.0,797.4 C805.0,786.1 809.6,777.1 816.0,772.9 L861.4,743.2 Z"/></clipPath><linearGradient id="dkp14" gradientUnits="userSpaceOnUse" x1="915.0" y1="0" x2="1102.5" y2="0"><stop offset="0" stop-color="#000" stop-opacity="0"/><stop offset="1" stop-color="#000" stop-opacity="0.13"/></linearGradient></defs>
<rect width="1343" height="922" fill="#ffffff"/>
<g><path d="M79.3,13.5 L396.8,13.5 C396.8,60.2 409.3,71.5 409.3,94.0 C409.3,116.7 396.8,128.0 396.8,175.0 L79.3,175.0 C79.3,128.0 65.7,116.7 65.7,94.0 C65.7,71.5 79.3,60.2 79.3,13.5 Z" fill="#0a12c6"/><g clip-path="url(#cp0)"><path d="M137.0,34.2 L340.0,34.2 L380.6,67.5 C386.3,72.2 388.1,82.1 388.1,94.5 C388.1,106.9 386.3,116.8 380.6,121.5 L340.0,154.8 L137.0,154.8 L95.1,121.5 C89.2,116.8 87.6,106.9 87.6,94.5 C87.6,82.1 89.2,72.2 95.1,67.5 L137.0,34.2 Z" fill="none" stroke="url(#hsp0)" stroke-width="48" stroke-linejoin="round" filter="url(#b3)"/><path d="M137.0,34.2 L340.0,34.2 L380.6,67.5 C386.3,72.2 388.1,82.1 388.1,94.5 C388.1,106.9 386.3,116.8 380.6,121.5 L340.0,154.8 L137.0,154.8 L95.1,121.5 C89.2,116.8 87.6,106.9 87.6,94.5 C87.6,82.1 89.2,72.2 95.1,67.5 L137.0,34.2 Z" fill="none" stroke="url(#hap0)" stroke-width="28" stroke-linejoin="round" filter="url(#b3)"/><path d="M137.0,34.2 L340.0,34.2 L380.6,67.5 C386.3,72.2 388.1,82.1 388.1,94.5 C388.1,106.9 386.3,116.8 380.6,121.5 L340.0,154.8 L137.0,154.8 L95.1,121.5 C89.2,116.8 87.6,106.9 87.6,94.5 C87.6,82.1 89.2,72.2 95.1,67.5 L137.0,34.2 Z" fill="none" stroke="url(#hbp0)" stroke-width="20" stroke-linejoin="round" filter="url(#b2)"/><path d="M137.0,34.2 L340.0,34.2 L380.6,67.5 C386.3,72.2 388.1,82.1 388.1,94.5 C388.1,106.9 386.3,116.8 380.6,121.5 L340.0,154.8 L137.0,154.8 L95.1,121.5 C89.2,116.8 87.6,106.9 87.6,94.5 C87.6,82.1 89.2,72.2 95.1,67.5 L137.0,34.2 Z" fill="none" stroke="url(#hcp0)" stroke-width="13" stroke-linejoin="round" filter="url(#b1)"/><path d="M79.3,13.5 L396.8,13.5 C396.8,60.2 409.3,71.5 409.3,94.0 C409.3,116.7 396.8,128.0 396.8,175.0 L79.3,175.0 C79.3,128.0 65.7,116.7 65.7,94.0 C65.7,71.5 79.3,60.2 79.3,13.5 Z" fill="url(#vor)"/></g><path d="M79.3,13.5 L396.8,13.5 C396.8,60.2 409.3,71.5 409.3,94.0 C409.3,116.7 396.8,128.0 396.8,175.0 L79.3,175.0 C79.3,128.0 65.7,116.7 65.7,94.0 C65.7,71.5 79.3,60.2 79.3,13.5 Z" fill="none" stroke="#0a0f70" stroke-width="0.8" stroke-opacity="0.6"/><path d="M137.0,34.2 L340.0,34.2 L380.6,67.5 C386.3,72.2 388.1,82.1 388.1,94.5 C388.1,106.9 386.3,116.8 380.6,121.5 L340.0,154.8 L137.0,154.8 L95.1,121.5 C89.2,116.8 87.6,106.9 87.6,94.5 C87.6,82.1 89.2,72.2 95.1,67.5 L137.0,34.2 Z" fill="none" stroke="#06301a" stroke-width="3.6" stroke-opacity="0.55" stroke-linejoin="round"/><path d="M137.0,34.2 L340.0,34.2 L380.6,67.5 C386.3,72.2 388.1,82.1 388.1,94.5 C388.1,106.9 386.3,116.8 380.6,121.5 L340.0,154.8 L137.0,154.8 L95.1,121.5 C89.2,116.8 87.6,106.9 87.6,94.5 C87.6,82.1 89.2,72.2 95.1,67.5 L137.0,34.2 Z" fill="url(#gp0)"/><path d="M137.0,34.2 L340.0,34.2 L380.6,67.5 C386.3,72.2 388.1,82.1 388.1,94.5 C388.1,106.9 386.3,116.8 380.6,121.5 L340.0,154.8 L137.0,154.8 L95.1,121.5 C89.2,116.8 87.6,106.9 87.6,94.5 C87.6,82.1 89.2,72.2 95.1,67.5 L137.0,34.2 Z" fill="url(#dkp0)"/><ellipse cx="186" cy="111" rx="35.1" ry="6.3" fill="#ffa048" opacity="0.6" filter="url(#b4)"/><ellipse cx="187" cy="111.5" rx="19.4" ry="4.4" fill="#fff8b8" opacity="0.92" filter="url(#b2h)"/><path d="M140.0,93.5L135.5,90.0L131.0,88.7L123.0,89.3L118.0,91.5L118.0,95.5L123.0,97.7L131.0,98.3L135.5,97.0Z" fill="#e4141c"/><path d="M335.0,93.5L339.5,90.0L344.0,88.7L352.0,89.3L357.0,91.5L357.0,95.5L352.0,97.7L344.0,98.3L339.5,97.0Z" fill="#e4141c"/><path d="M137.0,34.2 L340.0,34.2 L380.6,67.5 C386.3,72.2 388.1,82.1 388.1,94.5 C388.1,106.9 386.3,116.8 380.6,121.5 L340.0,154.8 L137.0,154.8 L95.1,121.5 C89.2,116.8 87.6,106.9 87.6,94.5 C87.6,82.1 89.2,72.2 95.1,67.5 L137.0,34.2 Z" fill="none" stroke="#2cb048" stroke-width="1.5" opacity="0.9"/><line x1="237" y1="34.2" x2="237" y2="154.8" stroke="#1a2a1a" stroke-width="1" opacity="0.7"/><line x1="89.6" y1="94.5" x2="386.1" y2="94.5" stroke="#3a0a0a" stroke-width="1" opacity="0.4"/></g><g><path d="M424.6,10.7 L755.0,10.7 C755.0,57.6 761.7,68.9 761.7,91.5 C761.7,114.2 755.0,125.5 755.0,172.5 L424.6,172.5 C424.6,125.5 418.4,114.2 418.4,91.5 C418.4,68.9 424.6,57.6 424.6,10.7 Z" fill="#0a12c6"/><g clip-path="url(#cp1)"><path d="M491.0,33.8 L689.4,33.8 L731.8,67.5 C737.7,72.2 742.8,80.7 742.8,92.0 C742.8,103.3 737.7,112.1 731.8,116.5 L689.4,147.8 L491.0,147.8 L447.0,116.5 C440.8,112.1 436.0,103.3 436.0,92.0 C436.0,80.7 440.8,72.2 447.0,67.5 L491.0,33.8 Z" fill="none" stroke="url(#hsp1)" stroke-width="48" stroke-linejoin="round" filter="url(#b3)"/><path d="M491.0,33.8 L689.4,33.8 L731.8,67.5 C737.7,72.2 742.8,80.7 742.8,92.0 C742.8,103.3 737.7,112.1 731.8,116.5 L689.4,147.8 L491.0,147.8 L447.0,116.5 C440.8,112.1 436.0,103.3 436.0,92.0 C436.0,80.7 440.8,72.2 447.0,67.5 L491.0,33.8 Z" fill="none" stroke="url(#hap1)" stroke-width="28" stroke-linejoin="round" filter="url(#b3)"/><path d="M491.0,33.8 L689.4,33.8 L731.8,67.5 C737.7,72.2 742.8,80.7 742.8,92.0 C742.8,103.3 737.7,112.1 731.8,116.5 L689.4,147.8 L491.0,147.8 L447.0,116.5 C440.8,112.1 436.0,103.3 436.0,92.0 C436.0,80.7 440.8,72.2 447.0,67.5 L491.0,33.8 Z" fill="none" stroke="url(#hbp1)" stroke-width="20" stroke-linejoin="round" filter="url(#b2)"/><path d="M491.0,33.8 L689.4,33.8 L731.8,67.5 C737.7,72.2 742.8,80.7 742.8,92.0 C742.8,103.3 737.7,112.1 731.8,116.5 L689.4,147.8 L491.0,147.8 L447.0,116.5 C440.8,112.1 436.0,103.3 436.0,92.0 C436.0,80.7 440.8,72.2 447.0,67.5 L491.0,33.8 Z" fill="none" stroke="url(#hcp1)" stroke-width="13" stroke-linejoin="round" filter="url(#b1)"/><path d="M424.6,10.7 L755.0,10.7 C755.0,57.6 761.7,68.9 761.7,91.5 C761.7,114.2 755.0,125.5 755.0,172.5 L424.6,172.5 C424.6,125.5 418.4,114.2 418.4,91.5 C418.4,68.9 424.6,57.6 424.6,10.7 Z" fill="url(#vor)"/></g><path d="M424.6,10.7 L755.0,10.7 C755.0,57.6 761.7,68.9 761.7,91.5 C761.7,114.2 755.0,125.5 755.0,172.5 L424.6,172.5 C424.6,125.5 418.4,114.2 418.4,91.5 C418.4,68.9 424.6,57.6 424.6,10.7 Z" fill="none" stroke="#0a0f70" stroke-width="0.8" stroke-opacity="0.6"/><path d="M491.0,33.8 L689.4,33.8 L731.8,67.5 C737.7,72.2 742.8,80.7 742.8,92.0 C742.8,103.3 737.7,112.1 731.8,116.5 L689.4,147.8 L491.0,147.8 L447.0,116.5 C440.8,112.1 436.0,103.3 436.0,92.0 C436.0,80.7 440.8,72.2 447.0,67.5 L491.0,33.8 Z" fill="none" stroke="#06301a" stroke-width="3.6" stroke-opacity="0.55" stroke-linejoin="round"/><path d="M491.0,33.8 L689.4,33.8 L731.8,67.5 C737.7,72.2 742.8,80.7 742.8,92.0 C742.8,103.3 737.7,112.1 731.8,116.5 L689.4,147.8 L491.0,147.8 L447.0,116.5 C440.8,112.1 436.0,103.3 436.0,92.0 C436.0,80.7 440.8,72.2 447.0,67.5 L491.0,33.8 Z" fill="url(#gp1)"/><g clip-path="url(#op1)"><path d="M430.0,78.8L503.0,78.8L503.0,80.0L568.0,80.0L580.0,82.7L590.0,84.8L600.0,83.5L610.0,81.5L620.0,80.5L677.0,80.5L677.0,78.8L750.0,78.8L750.0,105.0L677.0,105.0L677.0,103.5L620.0,103.5L610.0,102.4L600.0,99.5L590.0,97.6L580.0,100.0L568.0,103.0L503.0,103.0L503.0,105.0L430.0,105.0Z" fill="#cf1010" stroke="#cf1010" stroke-width="0.6" stroke-linejoin="round"/></g><path d="M491.0,33.8 L689.4,33.8 L731.8,67.5 C737.7,72.2 742.8,80.7 742.8,92.0 C742.8,103.3 737.7,112.1 731.8,116.5 L689.4,147.8 L491.0,147.8 L447.0,116.5 C440.8,112.1 436.0,103.3 436.0,92.0 C436.0,80.7 440.8,72.2 447.0,67.5 L491.0,33.8 Z" fill="url(#dkp1)"/><ellipse cx="540.6" cy="105.5" rx="31.2" ry="5.2" fill="#ffa048" opacity="0.6" filter="url(#b4)"/><ellipse cx="541.6" cy="106.0" rx="17.3" ry="3.6" fill="#fff8b8" opacity="0.92" filter="url(#b2h)"/><path d="M491.0,33.8 L689.4,33.8 L731.8,67.5 C737.7,72.2 742.8,80.7 742.8,92.0 C742.8,103.3 737.7,112.1 731.8,116.5 L689.4,147.8 L491.0,147.8 L447.0,116.5 C440.8,112.1 436.0,103.3 436.0,92.0 C436.0,80.7 440.8,72.2 447.0,67.5 L491.0,33.8 Z" fill="none" stroke="#2cb048" stroke-width="1.5" opacity="0.9"/><line x1="589.6" y1="33.8" x2="589.6" y2="147.8" stroke="#1a2a1a" stroke-width="1" opacity="0.7"/><line x1="438" y1="92" x2="740.8" y2="92" stroke="#3a0a0a" stroke-width="1" opacity="0.4"/></g><g><path d="M775.0,9.7 L1115.4,9.7 C1115.4,55.1 1119.7,66.1 1119.7,88.0 C1119.7,110.5 1115.4,121.7 1115.4,168.2 L775.0,168.2 C775.0,121.7 772.4,110.5 772.4,88.0 C772.4,66.1 775.0,55.1 775.0,9.7 Z" fill="#0a12c6"/><g clip-path="url(#cp2)"><path d="M849.0,34.0 L1042.0,34.0 L1086.3,65.0 C1092.5,69.3 1097.3,78.2 1097.3,89.5 C1097.3,100.8 1092.5,109.7 1086.3,114.0 L1042.0,144.4 L849.0,144.4 L806.0,114.0 C800.0,109.7 795.0,100.8 795.0,89.5 C795.0,78.2 800.0,69.3 806.0,65.0 L849.0,34.0 Z" fill="none" stroke="url(#hsp2)" stroke-width="48" stroke-linejoin="round" filter="url(#b3)"/><path d="M849.0,34.0 L1042.0,34.0 L1086.3,65.0 C1092.5,69.3 1097.3,78.2 1097.3,89.5 C1097.3,100.8 1092.5,109.7 1086.3,114.0 L1042.0,144.4 L849.0,144.4 L806.0,114.0 C800.0,109.7 795.0,100.8 795.0,89.5 C795.0,78.2 800.0,69.3 806.0,65.0 L849.0,34.0 Z" fill="none" stroke="url(#hap2)" stroke-width="28" stroke-linejoin="round" filter="url(#b3)"/><path d="M849.0,34.0 L1042.0,34.0 L1086.3,65.0 C1092.5,69.3 1097.3,78.2 1097.3,89.5 C1097.3,100.8 1092.5,109.7 1086.3,114.0 L1042.0,144.4 L849.0,144.4 L806.0,114.0 C800.0,109.7 795.0,100.8 795.0,89.5 C795.0,78.2 800.0,69.3 806.0,65.0 L849.0,34.0 Z" fill="none" stroke="url(#hbp2)" stroke-width="20" stroke-linejoin="round" filter="url(#b2)"/><path d="M849.0,34.0 L1042.0,34.0 L1086.3,65.0 C1092.5,69.3 1097.3,78.2 1097.3,89.5 C1097.3,100.8 1092.5,109.7 1086.3,114.0 L1042.0,144.4 L849.0,144.4 L806.0,114.0 C800.0,109.7 795.0,100.8 795.0,89.5 C795.0,78.2 800.0,69.3 806.0,65.0 L849.0,34.0 Z" fill="none" stroke="url(#hcp2)" stroke-width="13" stroke-linejoin="round" filter="url(#b1)"/><path d="M775.0,9.7 L1115.4,9.7 C1115.4,55.1 1119.7,66.1 1119.7,88.0 C1119.7,110.5 1115.4,121.7 1115.4,168.2 L775.0,168.2 C775.0,121.7 772.4,110.5 772.4,88.0 C772.4,66.1 775.0,55.1 775.0,9.7 Z" fill="url(#vor)"/></g><path d="M775.0,9.7 L1115.4,9.7 C1115.4,55.1 1119.7,66.1 1119.7,88.0 C1119.7,110.5 1115.4,121.7 1115.4,168.2 L775.0,168.2 C775.0,121.7 772.4,110.5 772.4,88.0 C772.4,66.1 775.0,55.1 775.0,9.7 Z" fill="none" stroke="#0a0f70" stroke-width="0.8" stroke-opacity="0.6"/><path d="M849.0,34.0 L1042.0,34.0 L1086.3,65.0 C1092.5,69.3 1097.3,78.2 1097.3,89.5 C1097.3,100.8 1092.5,109.7 1086.3,114.0 L1042.0,144.4 L849.0,144.4 L806.0,114.0 C800.0,109.7 795.0,100.8 795.0,89.5 C795.0,78.2 800.0,69.3 806.0,65.0 L849.0,34.0 Z" fill="none" stroke="#06301a" stroke-width="3.6" stroke-opacity="0.55" stroke-linejoin="round"/><path d="M849.0,34.0 L1042.0,34.0 L1086.3,65.0 C1092.5,69.3 1097.3,78.2 1097.3,89.5 C1097.3,100.8 1092.5,109.7 1086.3,114.0 L1042.0,144.4 L849.0,144.4 L806.0,114.0 C800.0,109.7 795.0,100.8 795.0,89.5 C795.0,78.2 800.0,69.3 806.0,65.0 L849.0,34.0 Z" fill="url(#gp2)"/><path d="M849.0,34.0 L1042.0,34.0 L1086.3,65.0 C1092.5,69.3 1097.3,78.2 1097.3,89.5 C1097.3,100.8 1092.5,109.7 1086.3,114.0 L1042.0,144.4 L849.0,144.4 L806.0,114.0 C800.0,109.7 795.0,100.8 795.0,89.5 C795.0,78.2 800.0,69.3 806.0,65.0 L849.0,34.0 Z" fill="url(#dkp2)"/><ellipse cx="891.7" cy="97.8" rx="31.2" ry="5.2" fill="#ffa048" opacity="0.6" filter="url(#b4)"/><ellipse cx="892.7" cy="98.3" rx="17.3" ry="3.6" fill="#fff8b8" opacity="0.92" filter="url(#b2h)"/><path d="M849.0,34.0 L1042.0,34.0 L1086.3,65.0 C1092.5,69.3 1097.3,78.2 1097.3,89.5 C1097.3,100.8 1092.5,109.7 1086.3,114.0 L1042.0,144.4 L849.0,144.4 L806.0,114.0 C800.0,109.7 795.0,100.8 795.0,89.5 C795.0,78.2 800.0,69.3 806.0,65.0 L849.0,34.0 Z" fill="none" stroke="#2cb048" stroke-width="1.5" opacity="0.9"/><line x1="945.4" y1="34" x2="945.4" y2="144.4" stroke="#1a2a1a" stroke-width="1" opacity="0.7"/><line x1="797" y1="89.5" x2="1095.3" y2="89.5" stroke="#3a0a0a" stroke-width="1" opacity="0.4"/></g><g><path d="M80.1,184.5 L397.0,184.5 C397.0,230.6 410.8,241.7 410.8,264.0 C410.8,286.5 397.0,297.7 397.0,344.2 L80.1,344.2 C80.1,297.7 65.9,286.5 65.9,264.0 C65.9,241.7 80.1,230.6 80.1,184.5 Z" fill="#0a12c6"/><g clip-path="url(#cp3)"><path d="M137.7,203.4 L338.8,203.4 L380.6,237.2 C386.5,241.9 388.1,251.8 388.1,264.2 C388.1,276.6 386.5,286.5 380.6,291.2 L338.8,324.7 L137.7,324.7 L94.3,291.2 C88.2,286.5 86.8,276.6 86.8,264.2 C86.8,251.8 88.2,241.9 94.3,237.2 L137.7,203.4 Z" fill="none" stroke="url(#hsp3)" stroke-width="48" stroke-linejoin="round" filter="url(#b3)"/><path d="M137.7,203.4 L338.8,203.4 L380.6,237.2 C386.5,241.9 388.1,251.8 388.1,264.2 C388.1,276.6 386.5,286.5 380.6,291.2 L338.8,324.7 L137.7,324.7 L94.3,291.2 C88.2,286.5 86.8,276.6 86.8,264.2 C86.8,251.8 88.2,241.9 94.3,237.2 L137.7,203.4 Z" fill="none" stroke="url(#hap3)" stroke-width="28" stroke-linejoin="round" filter="url(#b3)"/><path d="M137.7,203.4 L338.8,203.4 L380.6,237.2 C386.5,241.9 388.1,251.8 388.1,264.2 C388.1,276.6 386.5,286.5 380.6,291.2 L338.8,324.7 L137.7,324.7 L94.3,291.2 C88.2,286.5 86.8,276.6 86.8,264.2 C86.8,251.8 88.2,241.9 94.3,237.2 L137.7,203.4 Z" fill="none" stroke="url(#hbp3)" stroke-width="20" stroke-linejoin="round" filter="url(#b2)"/><path d="M137.7,203.4 L338.8,203.4 L380.6,237.2 C386.5,241.9 388.1,251.8 388.1,264.2 C388.1,276.6 386.5,286.5 380.6,291.2 L338.8,324.7 L137.7,324.7 L94.3,291.2 C88.2,286.5 86.8,276.6 86.8,264.2 C86.8,251.8 88.2,241.9 94.3,237.2 L137.7,203.4 Z" fill="none" stroke="url(#hcp3)" stroke-width="13" stroke-linejoin="round" filter="url(#b1)"/><path d="M80.1,184.5 L397.0,184.5 C397.0,230.6 410.8,241.7 410.8,264.0 C410.8,286.5 397.0,297.7 397.0,344.2 L80.1,344.2 C80.1,297.7 65.9,286.5 65.9,264.0 C65.9,241.7 80.1,230.6 80.1,184.5 Z" fill="url(#vor)"/></g><path d="M80.1,184.5 L397.0,184.5 C397.0,230.6 410.8,241.7 410.8,264.0 C410.8,286.5 397.0,297.7 397.0,344.2 L80.1,344.2 C80.1,297.7 65.9,286.5 65.9,264.0 C65.9,241.7 80.1,230.6 80.1,184.5 Z" fill="none" stroke="#0a0f70" stroke-width="0.8" stroke-opacity="0.6"/><path d="M137.7,203.4 L338.8,203.4 L380.6,237.2 C386.5,241.9 388.1,251.8 388.1,264.2 C388.1,276.6 386.5,286.5 380.6,291.2 L338.8,324.7 L137.7,324.7 L94.3,291.2 C88.2,286.5 86.8,276.6 86.8,264.2 C86.8,251.8 88.2,241.9 94.3,237.2 L137.7,203.4 Z" fill="none" stroke="#06301a" stroke-width="3.6" stroke-opacity="0.55" stroke-linejoin="round"/><path d="M137.7,203.4 L338.8,203.4 L380.6,237.2 C386.5,241.9 388.1,251.8 388.1,264.2 C388.1,276.6 386.5,286.5 380.6,291.2 L338.8,324.7 L137.7,324.7 L94.3,291.2 C88.2,286.5 86.8,276.6 86.8,264.2 C86.8,251.8 88.2,241.9 94.3,237.2 L137.7,203.4 Z" fill="url(#gp3)"/><path d="M137.7,203.4 L338.8,203.4 L380.6,237.2 C386.5,241.9 388.1,251.8 388.1,264.2 C388.1,276.6 386.5,286.5 380.6,291.2 L338.8,324.7 L137.7,324.7 L94.3,291.2 C88.2,286.5 86.8,276.6 86.8,264.2 C86.8,251.8 88.2,241.9 94.3,237.2 L137.7,203.4 Z" fill="url(#dkp3)"/><ellipse cx="188.7" cy="280" rx="33.8" ry="5.8" fill="#ffa048" opacity="0.6" filter="url(#b4)"/><ellipse cx="189.7" cy="280.5" rx="18.7" ry="4.0" fill="#fff8b8" opacity="0.92" filter="url(#b2h)"/><path d="M137.7,203.4 L338.8,203.4 L380.6,237.2 C386.5,241.9 388.1,251.8 388.1,264.2 C388.1,276.6 386.5,286.5 380.6,291.2 L338.8,324.7 L137.7,324.7 L94.3,291.2 C88.2,286.5 86.8,276.6 86.8,264.2 C86.8,251.8 88.2,241.9 94.3,237.2 L137.7,203.4 Z" fill="none" stroke="#2cb048" stroke-width="1.5" opacity="0.9"/><line x1="238.3" y1="203.4" x2="238.3" y2="324.7" stroke="#1a2a1a" stroke-width="1" opacity="0.7"/><line x1="88.8" y1="264.1" x2="386.1" y2="264.1" stroke="#3a0a0a" stroke-width="1" opacity="0.4"/></g><g><path d="M432.0,184.6 L757.7,184.6 C757.7,229.2 766.3,240.0 766.3,261.5 C766.3,284.0 757.7,295.3 757.7,342.0 L432.0,342.0 C432.0,295.3 424.5,284.0 424.5,261.5 C424.5,240.0 432.0,229.2 432.0,184.6 Z" fill="#0a12c6"/><g clip-path="url(#cp4)"><path d="M502.0,205.8 L692.6,205.8 L736.3,238.8 C742.4,243.4 747.3,252.0 747.3,263.3 C747.3,274.6 742.4,283.4 736.3,287.8 L692.6,319.3 L502.0,319.3 L455.2,287.8 C448.6,283.4 444.2,274.6 444.2,263.3 C444.2,252.0 448.6,243.4 455.2,238.8 L502.0,205.8 Z" fill="none" stroke="url(#hsp4)" stroke-width="48" stroke-linejoin="round" filter="url(#b3)"/><path d="M502.0,205.8 L692.6,205.8 L736.3,238.8 C742.4,243.4 747.3,252.0 747.3,263.3 C747.3,274.6 742.4,283.4 736.3,287.8 L692.6,319.3 L502.0,319.3 L455.2,287.8 C448.6,283.4 444.2,274.6 444.2,263.3 C444.2,252.0 448.6,243.4 455.2,238.8 L502.0,205.8 Z" fill="none" stroke="url(#hap4)" stroke-width="28" stroke-linejoin="round" filter="url(#b3)"/><path d="M502.0,205.8 L692.6,205.8 L736.3,238.8 C742.4,243.4 747.3,252.0 747.3,263.3 C747.3,274.6 742.4,283.4 736.3,287.8 L692.6,319.3 L502.0,319.3 L455.2,287.8 C448.6,283.4 444.2,274.6 444.2,263.3 C444.2,252.0 448.6,243.4 455.2,238.8 L502.0,205.8 Z" fill="none" stroke="url(#hbp4)" stroke-width="20" stroke-linejoin="round" filter="url(#b2)"/><path d="M502.0,205.8 L692.6,205.8 L736.3,238.8 C742.4,243.4 747.3,252.0 747.3,263.3 C747.3,274.6 742.4,283.4 736.3,287.8 L692.6,319.3 L502.0,319.3 L455.2,287.8 C448.6,283.4 444.2,274.6 444.2,263.3 C444.2,252.0 448.6,243.4 455.2,238.8 L502.0,205.8 Z" fill="none" stroke="url(#hcp4)" stroke-width="13" stroke-linejoin="round" filter="url(#b1)"/><path d="M432.0,184.6 L757.7,184.6 C757.7,229.2 766.3,240.0 766.3,261.5 C766.3,284.0 757.7,295.3 757.7,342.0 L432.0,342.0 C432.0,295.3 424.5,284.0 424.5,261.5 C424.5,240.0 432.0,229.2 432.0,184.6 Z" fill="url(#vor)"/></g><path d="M432.0,184.6 L757.7,184.6 C757.7,229.2 766.3,240.0 766.3,261.5 C766.3,284.0 757.7,295.3 757.7,342.0 L432.0,342.0 C432.0,295.3 424.5,284.0 424.5,261.5 C424.5,240.0 432.0,229.2 432.0,184.6 Z" fill="none" stroke="#0a0f70" stroke-width="0.8" stroke-opacity="0.6"/><path d="M502.0,205.8 L692.6,205.8 L736.3,238.8 C742.4,243.4 747.3,252.0 747.3,263.3 C747.3,274.6 742.4,283.4 736.3,287.8 L692.6,319.3 L502.0,319.3 L455.2,287.8 C448.6,283.4 444.2,274.6 444.2,263.3 C444.2,252.0 448.6,243.4 455.2,238.8 L502.0,205.8 Z" fill="none" stroke="#06301a" stroke-width="3.6" stroke-opacity="0.55" stroke-linejoin="round"/><path d="M502.0,205.8 L692.6,205.8 L736.3,238.8 C742.4,243.4 747.3,252.0 747.3,263.3 C747.3,274.6 742.4,283.4 736.3,287.8 L692.6,319.3 L502.0,319.3 L455.2,287.8 C448.6,283.4 444.2,274.6 444.2,263.3 C444.2,252.0 448.6,243.4 455.2,238.8 L502.0,205.8 Z" fill="url(#gp4)"/><path d="M502.0,205.8 L692.6,205.8 L736.3,238.8 C742.4,243.4 747.3,252.0 747.3,263.3 C747.3,274.6 742.4,283.4 736.3,287.8 L692.6,319.3 L502.0,319.3 L455.2,287.8 C448.6,283.4 444.2,274.6 444.2,263.3 C444.2,252.0 448.6,243.4 455.2,238.8 L502.0,205.8 Z" fill="url(#dkp4)"/><ellipse cx="544" cy="272.5" rx="33.8" ry="5.8" fill="#ffa048" opacity="0.6" filter="url(#b4)"/><ellipse cx="545" cy="273.0" rx="18.7" ry="4.0" fill="#fff8b8" opacity="0.92" filter="url(#b2h)"/><path d="M502.0,205.8 L692.6,205.8 L736.3,238.8 C742.4,243.4 747.3,252.0 747.3,263.3 C747.3,274.6 742.4,283.4 736.3,287.8 L692.6,319.3 L502.0,319.3 L455.2,287.8 C448.6,283.4 444.2,274.6 444.2,263.3 C444.2,252.0 448.6,243.4 455.2,238.8 L502.0,205.8 Z" fill="none" stroke="#2cb048" stroke-width="1.5" opacity="0.9"/><line x1="595" y1="205.8" x2="595" y2="319.3" stroke="#1a2a1a" stroke-width="1" opacity="0.7"/><line x1="446.2" y1="263.3" x2="745.3" y2="263.3" stroke="#3a0a0a" stroke-width="1" opacity="0.4"/></g><g><path d="M783.5,179.8 L1119.0,179.8 C1119.0,224.6 1123.0,235.4 1123.0,257.0 C1123.0,278.5 1119.0,289.3 1119.0,333.8 L783.5,333.8 C783.5,289.3 778.4,278.5 778.4,257.0 C778.4,235.4 783.5,224.6 783.5,179.8 Z" fill="#0a12c6"/><g clip-path="url(#cp5)"><path d="M857.3,203.4 L1046.0,203.4 L1090.0,230.9 C1096.2,234.8 1101.0,244.1 1101.0,255.4 C1101.0,266.7 1096.2,275.8 1090.0,279.9 L1046.0,309.3 L857.3,309.3 L815.2,279.9 C809.3,275.8 804.2,266.7 804.2,255.4 C804.2,244.1 809.3,234.8 815.2,230.9 L857.3,203.4 Z" fill="none" stroke="url(#hsp5)" stroke-width="48" stroke-linejoin="round" filter="url(#b3)"/><path d="M857.3,203.4 L1046.0,203.4 L1090.0,230.9 C1096.2,234.8 1101.0,244.1 1101.0,255.4 C1101.0,266.7 1096.2,275.8 1090.0,279.9 L1046.0,309.3 L857.3,309.3 L815.2,279.9 C809.3,275.8 804.2,266.7 804.2,255.4 C804.2,244.1 809.3,234.8 815.2,230.9 L857.3,203.4 Z" fill="none" stroke="url(#hap5)" stroke-width="28" stroke-linejoin="round" filter="url(#b3)"/><path d="M857.3,203.4 L1046.0,203.4 L1090.0,230.9 C1096.2,234.8 1101.0,244.1 1101.0,255.4 C1101.0,266.7 1096.2,275.8 1090.0,279.9 L1046.0,309.3 L857.3,309.3 L815.2,279.9 C809.3,275.8 804.2,266.7 804.2,255.4 C804.2,244.1 809.3,234.8 815.2,230.9 L857.3,203.4 Z" fill="none" stroke="url(#hbp5)" stroke-width="20" stroke-linejoin="round" filter="url(#b2)"/><path d="M857.3,203.4 L1046.0,203.4 L1090.0,230.9 C1096.2,234.8 1101.0,244.1 1101.0,255.4 C1101.0,266.7 1096.2,275.8 1090.0,279.9 L1046.0,309.3 L857.3,309.3 L815.2,279.9 C809.3,275.8 804.2,266.7 804.2,255.4 C804.2,244.1 809.3,234.8 815.2,230.9 L857.3,203.4 Z" fill="none" stroke="url(#hcp5)" stroke-width="13" stroke-linejoin="round" filter="url(#b1)"/><path d="M783.5,179.8 L1119.0,179.8 C1119.0,224.6 1123.0,235.4 1123.0,257.0 C1123.0,278.5 1119.0,289.3 1119.0,333.8 L783.5,333.8 C783.5,289.3 778.4,278.5 778.4,257.0 C778.4,235.4 783.5,224.6 783.5,179.8 Z" fill="url(#vor)"/></g><path d="M783.5,179.8 L1119.0,179.8 C1119.0,224.6 1123.0,235.4 1123.0,257.0 C1123.0,278.5 1119.0,289.3 1119.0,333.8 L783.5,333.8 C783.5,289.3 778.4,278.5 778.4,257.0 C778.4,235.4 783.5,224.6 783.5,179.8 Z" fill="none" stroke="#0a0f70" stroke-width="0.8" stroke-opacity="0.6"/><path d="M857.3,203.4 L1046.0,203.4 L1090.0,230.9 C1096.2,234.8 1101.0,244.1 1101.0,255.4 C1101.0,266.7 1096.2,275.8 1090.0,279.9 L1046.0,309.3 L857.3,309.3 L815.2,279.9 C809.3,275.8 804.2,266.7 804.2,255.4 C804.2,244.1 809.3,234.8 815.2,230.9 L857.3,203.4 Z" fill="none" stroke="#06301a" stroke-width="3.6" stroke-opacity="0.55" stroke-linejoin="round"/><path d="M857.3,203.4 L1046.0,203.4 L1090.0,230.9 C1096.2,234.8 1101.0,244.1 1101.0,255.4 C1101.0,266.7 1096.2,275.8 1090.0,279.9 L1046.0,309.3 L857.3,309.3 L815.2,279.9 C809.3,275.8 804.2,266.7 804.2,255.4 C804.2,244.1 809.3,234.8 815.2,230.9 L857.3,203.4 Z" fill="url(#gp5)"/><path d="M857.3,203.4 L1046.0,203.4 L1090.0,230.9 C1096.2,234.8 1101.0,244.1 1101.0,255.4 C1101.0,266.7 1096.2,275.8 1090.0,279.9 L1046.0,309.3 L857.3,309.3 L815.2,279.9 C809.3,275.8 804.2,266.7 804.2,255.4 C804.2,244.1 809.3,234.8 815.2,230.9 L857.3,203.4 Z" fill="url(#dkp5)"/><ellipse cx="902.7" cy="265.5" rx="33.8" ry="5.8" fill="#ffa048" opacity="0.6" filter="url(#b4)"/><ellipse cx="903.7" cy="266.0" rx="18.7" ry="4.0" fill="#fff8b8" opacity="0.92" filter="url(#b2h)"/><path d="M857.3,203.4 L1046.0,203.4 L1090.0,230.9 C1096.2,234.8 1101.0,244.1 1101.0,255.4 C1101.0,266.7 1096.2,275.8 1090.0,279.9 L1046.0,309.3 L857.3,309.3 L815.2,279.9 C809.3,275.8 804.2,266.7 804.2,255.4 C804.2,244.1 809.3,234.8 815.2,230.9 L857.3,203.4 Z" fill="none" stroke="#2cb048" stroke-width="1.5" opacity="0.9"/><line x1="951" y1="203.4" x2="951" y2="309.3" stroke="#1a2a1a" stroke-width="1" opacity="0.7"/><line x1="806.2" y1="255.4" x2="1099" y2="255.4" stroke="#3a0a0a" stroke-width="1" opacity="0.4"/></g><g><path d="M78.8,354.5 L396.6,354.5 C396.6,402.1 408.3,413.5 408.3,436.5 C408.3,459.9 396.6,471.6 396.6,520.0 L78.8,520.0 C78.8,471.6 66.7,459.9 66.7,436.5 C66.7,413.5 78.8,402.1 78.8,354.5 Z" fill="#0a12c6"/><g clip-path="url(#cp6)"><path d="M135.0,376.4 L340.2,376.4 L381.0,410.3 C386.7,415.0 388.5,424.9 388.5,437.3 C388.5,449.7 386.7,459.7 381.0,464.3 L340.2,497.4 L135.0,497.4 L93.0,464.3 C87.1,459.7 85.5,449.7 85.5,437.3 C85.5,424.9 87.1,415.0 93.0,410.3 L135.0,376.4 Z" fill="none" stroke="url(#hsp6)" stroke-width="48" stroke-linejoin="round" filter="url(#b3)"/><path d="M135.0,376.4 L340.2,376.4 L381.0,410.3 C386.7,415.0 388.5,424.9 388.5,437.3 C388.5,449.7 386.7,459.7 381.0,464.3 L340.2,497.4 L135.0,497.4 L93.0,464.3 C87.1,459.7 85.5,449.7 85.5,437.3 C85.5,424.9 87.1,415.0 93.0,410.3 L135.0,376.4 Z" fill="none" stroke="url(#hap6)" stroke-width="28" stroke-linejoin="round" filter="url(#b3)"/><path d="M135.0,376.4 L340.2,376.4 L381.0,410.3 C386.7,415.0 388.5,424.9 388.5,437.3 C388.5,449.7 386.7,459.7 381.0,464.3 L340.2,497.4 L135.0,497.4 L93.0,464.3 C87.1,459.7 85.5,449.7 85.5,437.3 C85.5,424.9 87.1,415.0 93.0,410.3 L135.0,376.4 Z" fill="none" stroke="url(#hbp6)" stroke-width="20" stroke-linejoin="round" filter="url(#b2)"/><path d="M135.0,376.4 L340.2,376.4 L381.0,410.3 C386.7,415.0 388.5,424.9 388.5,437.3 C388.5,449.7 386.7,459.7 381.0,464.3 L340.2,497.4 L135.0,497.4 L93.0,464.3 C87.1,459.7 85.5,449.7 85.5,437.3 C85.5,424.9 87.1,415.0 93.0,410.3 L135.0,376.4 Z" fill="none" stroke="url(#hcp6)" stroke-width="13" stroke-linejoin="round" filter="url(#b1)"/><path d="M78.8,354.5 L396.6,354.5 C396.6,402.1 408.3,413.5 408.3,436.5 C408.3,459.9 396.6,471.6 396.6,520.0 L78.8,520.0 C78.8,471.6 66.7,459.9 66.7,436.5 C66.7,413.5 78.8,402.1 78.8,354.5 Z" fill="url(#vor)"/></g><path d="M78.8,354.5 L396.6,354.5 C396.6,402.1 408.3,413.5 408.3,436.5 C408.3,459.9 396.6,471.6 396.6,520.0 L78.8,520.0 C78.8,471.6 66.7,459.9 66.7,436.5 C66.7,413.5 78.8,402.1 78.8,354.5 Z" fill="none" stroke="#0a0f70" stroke-width="0.8" stroke-opacity="0.6"/><path d="M135.0,376.4 L340.2,376.4 L381.0,410.3 C386.7,415.0 388.5,424.9 388.5,437.3 C388.5,449.7 386.7,459.7 381.0,464.3 L340.2,497.4 L135.0,497.4 L93.0,464.3 C87.1,459.7 85.5,449.7 85.5,437.3 C85.5,424.9 87.1,415.0 93.0,410.3 L135.0,376.4 Z" fill="none" stroke="#06301a" stroke-width="3.6" stroke-opacity="0.55" stroke-linejoin="round"/><path d="M135.0,376.4 L340.2,376.4 L381.0,410.3 C386.7,415.0 388.5,424.9 388.5,437.3 C388.5,449.7 386.7,459.7 381.0,464.3 L340.2,497.4 L135.0,497.4 L93.0,464.3 C87.1,459.7 85.5,449.7 85.5,437.3 C85.5,424.9 87.1,415.0 93.0,410.3 L135.0,376.4 Z" fill="url(#gp6)"/><path d="M135.0,376.4 L340.2,376.4 L381.0,410.3 C386.7,415.0 388.5,424.9 388.5,437.3 C388.5,449.7 386.7,459.7 381.0,464.3 L340.2,497.4 L135.0,497.4 L93.0,464.3 C87.1,459.7 85.5,449.7 85.5,437.3 C85.5,424.9 87.1,415.0 93.0,410.3 L135.0,376.4 Z" fill="url(#dkp6)"/><ellipse cx="188.7" cy="454" rx="35.1" ry="6.3" fill="#ffa048" opacity="0.6" filter="url(#b4)"/><ellipse cx="189.7" cy="454.5" rx="19.4" ry="4.4" fill="#fff8b8" opacity="0.92" filter="url(#b2h)"/><path d="M135.0,376.4 L340.2,376.4 L381.0,410.3 C386.7,415.0 388.5,424.9 388.5,437.3 C388.5,449.7 386.7,459.7 381.0,464.3 L340.2,497.4 L135.0,497.4 L93.0,464.3 C87.1,459.7 85.5,449.7 85.5,437.3 C85.5,424.9 87.1,415.0 93.0,410.3 L135.0,376.4 Z" fill="none" stroke="#2cb048" stroke-width="1.5" opacity="0.9"/><line x1="237" y1="376.4" x2="237" y2="497.4" stroke="#1a2a1a" stroke-width="1" opacity="0.7"/><line x1="87.5" y1="437.3" x2="386.5" y2="437.3" stroke="#3a0a0a" stroke-width="1" opacity="0.4"/></g><g><path d="M431.8,353.5 L765.5,353.5 C765.5,401.6 770.8,413.3 770.8,436.5 C770.8,459.9 765.5,471.6 765.5,520.0 L431.8,520.0 C431.8,471.6 426.8,459.9 426.8,436.5 C426.8,413.3 431.8,401.6 431.8,353.5 Z" fill="#0a12c6"/><g clip-path="url(#cp7)"><path d="M498.0,378.9 L699.4,378.9 L737.8,412.0 C743.2,416.6 748.8,425.2 748.8,436.5 C748.8,447.8 743.2,456.4 737.8,461.0 L699.4,493.5 L498.0,493.5 L460.0,461.0 C454.7,456.4 449.0,447.8 449.0,436.5 C449.0,425.2 454.7,416.6 460.0,412.0 L498.0,378.9 Z" fill="none" stroke="url(#hsp7)" stroke-width="48" stroke-linejoin="round" filter="url(#b3)"/><path d="M498.0,378.9 L699.4,378.9 L737.8,412.0 C743.2,416.6 748.8,425.2 748.8,436.5 C748.8,447.8 743.2,456.4 737.8,461.0 L699.4,493.5 L498.0,493.5 L460.0,461.0 C454.7,456.4 449.0,447.8 449.0,436.5 C449.0,425.2 454.7,416.6 460.0,412.0 L498.0,378.9 Z" fill="none" stroke="url(#hap7)" stroke-width="28" stroke-linejoin="round" filter="url(#b3)"/><path d="M498.0,378.9 L699.4,378.9 L737.8,412.0 C743.2,416.6 748.8,425.2 748.8,436.5 C748.8,447.8 743.2,456.4 737.8,461.0 L699.4,493.5 L498.0,493.5 L460.0,461.0 C454.7,456.4 449.0,447.8 449.0,436.5 C449.0,425.2 454.7,416.6 460.0,412.0 L498.0,378.9 Z" fill="none" stroke="url(#hbp7)" stroke-width="20" stroke-linejoin="round" filter="url(#b2)"/><path d="M498.0,378.9 L699.4,378.9 L737.8,412.0 C743.2,416.6 748.8,425.2 748.8,436.5 C748.8,447.8 743.2,456.4 737.8,461.0 L699.4,493.5 L498.0,493.5 L460.0,461.0 C454.7,456.4 449.0,447.8 449.0,436.5 C449.0,425.2 454.7,416.6 460.0,412.0 L498.0,378.9 Z" fill="none" stroke="url(#hcp7)" stroke-width="13" stroke-linejoin="round" filter="url(#b1)"/><path d="M431.8,353.5 L765.5,353.5 C765.5,401.6 770.8,413.3 770.8,436.5 C770.8,459.9 765.5,471.6 765.5,520.0 L431.8,520.0 C431.8,471.6 426.8,459.9 426.8,436.5 C426.8,413.3 431.8,401.6 431.8,353.5 Z" fill="url(#vor)"/></g><path d="M431.8,353.5 L765.5,353.5 C765.5,401.6 770.8,413.3 770.8,436.5 C770.8,459.9 765.5,471.6 765.5,520.0 L431.8,520.0 C431.8,471.6 426.8,459.9 426.8,436.5 C426.8,413.3 431.8,401.6 431.8,353.5 Z" fill="none" stroke="#0a0f70" stroke-width="0.8" stroke-opacity="0.6"/><path d="M498.0,378.9 L699.4,378.9 L737.8,412.0 C743.2,416.6 748.8,425.2 748.8,436.5 C748.8,447.8 743.2,456.4 737.8,461.0 L699.4,493.5 L498.0,493.5 L460.0,461.0 C454.7,456.4 449.0,447.8 449.0,436.5 C449.0,425.2 454.7,416.6 460.0,412.0 L498.0,378.9 Z" fill="none" stroke="#06301a" stroke-width="3.6" stroke-opacity="0.55" stroke-linejoin="round"/><path d="M498.0,378.9 L699.4,378.9 L737.8,412.0 C743.2,416.6 748.8,425.2 748.8,436.5 C748.8,447.8 743.2,456.4 737.8,461.0 L699.4,493.5 L498.0,493.5 L460.0,461.0 C454.7,456.4 449.0,447.8 449.0,436.5 C449.0,425.2 454.7,416.6 460.0,412.0 L498.0,378.9 Z" fill="url(#gp7)"/><path d="M498.0,378.9 L699.4,378.9 L737.8,412.0 C743.2,416.6 748.8,425.2 748.8,436.5 C748.8,447.8 743.2,456.4 737.8,461.0 L699.4,493.5 L498.0,493.5 L460.0,461.0 C454.7,456.4 449.0,447.8 449.0,436.5 C449.0,425.2 454.7,416.6 460.0,412.0 L498.0,378.9 Z" fill="url(#dkp7)"/><ellipse cx="549.4" cy="448.6" rx="33.8" ry="5.8" fill="#ffa048" opacity="0.6" filter="url(#b4)"/><ellipse cx="550.4" cy="449.1" rx="18.7" ry="4.0" fill="#fff8b8" opacity="0.92" filter="url(#b2h)"/><path d="M498.0,378.9 L699.4,378.9 L737.8,412.0 C743.2,416.6 748.8,425.2 748.8,436.5 C748.8,447.8 743.2,456.4 737.8,461.0 L699.4,493.5 L498.0,493.5 L460.0,461.0 C454.7,456.4 449.0,447.8 449.0,436.5 C449.0,425.2 454.7,416.6 460.0,412.0 L498.0,378.9 Z" fill="none" stroke="#2cb048" stroke-width="1.5" opacity="0.9"/><line x1="599" y1="378.9" x2="599" y2="493.5" stroke="#1a2a1a" stroke-width="1" opacity="0.7"/><line x1="451" y1="436.5" x2="746.8" y2="436.5" stroke="#3a0a0a" stroke-width="1" opacity="0.4"/></g><g><path d="M786.7,356.5 L1123.1,356.5 C1123.1,401.4 1125.0,412.3 1125.0,434.0 C1125.0,456.0 1123.1,467.0 1123.1,512.5 L786.7,512.5 C786.7,467.0 785.5,456.0 785.5,434.0 C785.5,412.3 786.7,401.4 786.7,356.5 Z" fill="#0a12c6"/><g clip-path="url(#cp8)"><path d="M860.0,380.1 L1051.5,380.1 L1091.5,410.5 C1097.1,414.8 1102.5,423.7 1102.5,435.0 C1102.5,446.3 1097.1,455.4 1091.5,459.5 L1051.5,489.0 L860.0,489.0 L816.0,459.5 C809.8,455.4 805.0,446.3 805.0,435.0 C805.0,423.7 809.8,414.8 816.0,410.5 L860.0,380.1 Z" fill="none" stroke="url(#hsp8)" stroke-width="48" stroke-linejoin="round" filter="url(#b3)"/><path d="M860.0,380.1 L1051.5,380.1 L1091.5,410.5 C1097.1,414.8 1102.5,423.7 1102.5,435.0 C1102.5,446.3 1097.1,455.4 1091.5,459.5 L1051.5,489.0 L860.0,489.0 L816.0,459.5 C809.8,455.4 805.0,446.3 805.0,435.0 C805.0,423.7 809.8,414.8 816.0,410.5 L860.0,380.1 Z" fill="none" stroke="url(#hap8)" stroke-width="28" stroke-linejoin="round" filter="url(#b3)"/><path d="M860.0,380.1 L1051.5,380.1 L1091.5,410.5 C1097.1,414.8 1102.5,423.7 1102.5,435.0 C1102.5,446.3 1097.1,455.4 1091.5,459.5 L1051.5,489.0 L860.0,489.0 L816.0,459.5 C809.8,455.4 805.0,446.3 805.0,435.0 C805.0,423.7 809.8,414.8 816.0,410.5 L860.0,380.1 Z" fill="none" stroke="url(#hbp8)" stroke-width="20" stroke-linejoin="round" filter="url(#b2)"/><path d="M860.0,380.1 L1051.5,380.1 L1091.5,410.5 C1097.1,414.8 1102.5,423.7 1102.5,435.0 C1102.5,446.3 1097.1,455.4 1091.5,459.5 L1051.5,489.0 L860.0,489.0 L816.0,459.5 C809.8,455.4 805.0,446.3 805.0,435.0 C805.0,423.7 809.8,414.8 816.0,410.5 L860.0,380.1 Z" fill="none" stroke="url(#hcp8)" stroke-width="13" stroke-linejoin="round" filter="url(#b1)"/><path d="M786.7,356.5 L1123.1,356.5 C1123.1,401.4 1125.0,412.3 1125.0,434.0 C1125.0,456.0 1123.1,467.0 1123.1,512.5 L786.7,512.5 C786.7,467.0 785.5,456.0 785.5,434.0 C785.5,412.3 786.7,401.4 786.7,356.5 Z" fill="url(#vor)"/></g><path d="M786.7,356.5 L1123.1,356.5 C1123.1,401.4 1125.0,412.3 1125.0,434.0 C1125.0,456.0 1123.1,467.0 1123.1,512.5 L786.7,512.5 C786.7,467.0 785.5,456.0 785.5,434.0 C785.5,412.3 786.7,401.4 786.7,356.5 Z" fill="none" stroke="#0a0f70" stroke-width="0.8" stroke-opacity="0.6"/><path d="M860.0,380.1 L1051.5,380.1 L1091.5,410.5 C1097.1,414.8 1102.5,423.7 1102.5,435.0 C1102.5,446.3 1097.1,455.4 1091.5,459.5 L1051.5,489.0 L860.0,489.0 L816.0,459.5 C809.8,455.4 805.0,446.3 805.0,435.0 C805.0,423.7 809.8,414.8 816.0,410.5 L860.0,380.1 Z" fill="none" stroke="#06301a" stroke-width="3.6" stroke-opacity="0.55" stroke-linejoin="round"/><path d="M860.0,380.1 L1051.5,380.1 L1091.5,410.5 C1097.1,414.8 1102.5,423.7 1102.5,435.0 C1102.5,446.3 1097.1,455.4 1091.5,459.5 L1051.5,489.0 L860.0,489.0 L816.0,459.5 C809.8,455.4 805.0,446.3 805.0,435.0 C805.0,423.7 809.8,414.8 816.0,410.5 L860.0,380.1 Z" fill="url(#gp8)"/><path d="M860.0,380.1 L1051.5,380.1 L1091.5,410.5 C1097.1,414.8 1102.5,423.7 1102.5,435.0 C1102.5,446.3 1097.1,455.4 1091.5,459.5 L1051.5,489.0 L860.0,489.0 L816.0,459.5 C809.8,455.4 805.0,446.3 805.0,435.0 C805.0,423.7 809.8,414.8 816.0,410.5 L860.0,380.1 Z" fill="url(#dkp8)"/><ellipse cx="902.7" cy="443.3" rx="33.8" ry="5.8" fill="#ffa048" opacity="0.6" filter="url(#b4)"/><ellipse cx="903.7" cy="443.8" rx="18.7" ry="4.0" fill="#fff8b8" opacity="0.92" filter="url(#b2h)"/><path d="M860.0,380.1 L1051.5,380.1 L1091.5,410.5 C1097.1,414.8 1102.5,423.7 1102.5,435.0 C1102.5,446.3 1097.1,455.4 1091.5,459.5 L1051.5,489.0 L860.0,489.0 L816.0,459.5 C809.8,455.4 805.0,446.3 805.0,435.0 C805.0,423.7 809.8,414.8 816.0,410.5 L860.0,380.1 Z" fill="none" stroke="#2cb048" stroke-width="1.5" opacity="0.9"/><line x1="955" y1="380.1" x2="955" y2="489" stroke="#1a2a1a" stroke-width="1" opacity="0.7"/><line x1="807" y1="435" x2="1100.5" y2="435" stroke="#3a0a0a" stroke-width="1" opacity="0.4"/></g><g><path d="M82.4,533.5 L402.5,533.5 C402.5,581.1 415.4,592.5 415.4,615.5 C415.4,638.7 402.5,650.4 402.5,698.5 L82.4,698.5 C82.4,650.4 68.8,638.7 68.8,615.5 C68.8,592.5 82.4,581.1 82.4,533.5 Z" fill="#0a12c6"/><g clip-path="url(#cp9)"><path d="M137.6,553.6 L347.0,553.6 L385.9,589.6 C391.3,594.6 393.4,604.2 393.4,616.6 C393.4,629.0 391.3,638.6 385.9,643.6 L347.0,679.3 L137.6,679.3 L98.2,643.6 C92.7,638.6 90.7,629.0 90.7,616.6 C90.7,604.2 92.7,594.6 98.2,589.6 L137.6,553.6 Z" fill="none" stroke="url(#hsp9)" stroke-width="48" stroke-linejoin="round" filter="url(#b3)"/><path d="M137.6,553.6 L347.0,553.6 L385.9,589.6 C391.3,594.6 393.4,604.2 393.4,616.6 C393.4,629.0 391.3,638.6 385.9,643.6 L347.0,679.3 L137.6,679.3 L98.2,643.6 C92.7,638.6 90.7,629.0 90.7,616.6 C90.7,604.2 92.7,594.6 98.2,589.6 L137.6,553.6 Z" fill="none" stroke="url(#hap9)" stroke-width="28" stroke-linejoin="round" filter="url(#b3)"/><path d="M137.6,553.6 L347.0,553.6 L385.9,589.6 C391.3,594.6 393.4,604.2 393.4,616.6 C393.4,629.0 391.3,638.6 385.9,643.6 L347.0,679.3 L137.6,679.3 L98.2,643.6 C92.7,638.6 90.7,629.0 90.7,616.6 C90.7,604.2 92.7,594.6 98.2,589.6 L137.6,553.6 Z" fill="none" stroke="url(#hbp9)" stroke-width="20" stroke-linejoin="round" filter="url(#b2)"/><path d="M137.6,553.6 L347.0,553.6 L385.9,589.6 C391.3,594.6 393.4,604.2 393.4,616.6 C393.4,629.0 391.3,638.6 385.9,643.6 L347.0,679.3 L137.6,679.3 L98.2,643.6 C92.7,638.6 90.7,629.0 90.7,616.6 C90.7,604.2 92.7,594.6 98.2,589.6 L137.6,553.6 Z" fill="none" stroke="url(#hcp9)" stroke-width="13" stroke-linejoin="round" filter="url(#b1)"/><path d="M82.4,533.5 L402.5,533.5 C402.5,581.1 415.4,592.5 415.4,615.5 C415.4,638.7 402.5,650.4 402.5,698.5 L82.4,698.5 C82.4,650.4 68.8,638.7 68.8,615.5 C68.8,592.5 82.4,581.1 82.4,533.5 Z" fill="url(#vor)"/></g><path d="M82.4,533.5 L402.5,533.5 C402.5,581.1 415.4,592.5 415.4,615.5 C415.4,638.7 402.5,650.4 402.5,698.5 L82.4,698.5 C82.4,650.4 68.8,638.7 68.8,615.5 C68.8,592.5 82.4,581.1 82.4,533.5 Z" fill="none" stroke="#0a0f70" stroke-width="0.8" stroke-opacity="0.6"/><path d="M137.6,553.6 L347.0,553.6 L385.9,589.6 C391.3,594.6 393.4,604.2 393.4,616.6 C393.4,629.0 391.3,638.6 385.9,643.6 L347.0,679.3 L137.6,679.3 L98.2,643.6 C92.7,638.6 90.7,629.0 90.7,616.6 C90.7,604.2 92.7,594.6 98.2,589.6 L137.6,553.6 Z" fill="none" stroke="#06301a" stroke-width="3.6" stroke-opacity="0.55" stroke-linejoin="round"/><path d="M137.6,553.6 L347.0,553.6 L385.9,589.6 C391.3,594.6 393.4,604.2 393.4,616.6 C393.4,629.0 391.3,638.6 385.9,643.6 L347.0,679.3 L137.6,679.3 L98.2,643.6 C92.7,638.6 90.7,629.0 90.7,616.6 C90.7,604.2 92.7,594.6 98.2,589.6 L137.6,553.6 Z" fill="url(#gp9)"/><path d="M137.6,553.6 L347.0,553.6 L385.9,589.6 C391.3,594.6 393.4,604.2 393.4,616.6 C393.4,629.0 391.3,638.6 385.9,643.6 L347.0,679.3 L137.6,679.3 L98.2,643.6 C92.7,638.6 90.7,629.0 90.7,616.6 C90.7,604.2 92.7,594.6 98.2,589.6 L137.6,553.6 Z" fill="url(#dkp9)"/><ellipse cx="187.6" cy="631.3" rx="35.1" ry="6.3" fill="#ffa048" opacity="0.6" filter="url(#b4)"/><ellipse cx="188.6" cy="631.8" rx="19.4" ry="4.4" fill="#fff8b8" opacity="0.92" filter="url(#b2h)"/><path d="M137.6,553.6 L347.0,553.6 L385.9,589.6 C391.3,594.6 393.4,604.2 393.4,616.6 C393.4,629.0 391.3,638.6 385.9,643.6 L347.0,679.3 L137.6,679.3 L98.2,643.6 C92.7,638.6 90.7,629.0 90.7,616.6 C90.7,604.2 92.7,594.6 98.2,589.6 L137.6,553.6 Z" fill="none" stroke="#2cb048" stroke-width="1.5" opacity="0.9"/><line x1="241.4" y1="553.6" x2="241.4" y2="679.3" stroke="#1a2a1a" stroke-width="1" opacity="0.7"/><line x1="92.7" y1="616.6" x2="391.4" y2="616.6" stroke="#3a0a0a" stroke-width="1" opacity="0.4"/></g><g><path d="M428.0,531.0 L758.5,531.0 C758.5,578.6 765.5,590.0 765.5,613.0 C765.5,635.8 758.5,647.2 758.5,694.5 L428.0,694.5 C428.0,647.2 421.5,635.8 421.5,613.0 C421.5,590.0 428.0,578.6 428.0,531.0 Z" fill="#0a12c6"/><g clip-path="url(#cp10)"><path d="M493.2,552.8 L692.7,552.8 L731.0,588.0 C736.4,592.9 742.0,601.2 742.0,612.5 C742.0,623.8 736.4,632.4 731.0,637.0 L692.7,670.2 L493.2,670.2 L457.0,637.0 C451.9,632.4 446.0,623.8 446.0,612.5 C446.0,601.2 451.9,592.9 457.0,588.0 L493.2,552.8 Z" fill="none" stroke="url(#hsp10)" stroke-width="48" stroke-linejoin="round" filter="url(#b3)"/><path d="M493.2,552.8 L692.7,552.8 L731.0,588.0 C736.4,592.9 742.0,601.2 742.0,612.5 C742.0,623.8 736.4,632.4 731.0,637.0 L692.7,670.2 L493.2,670.2 L457.0,637.0 C451.9,632.4 446.0,623.8 446.0,612.5 C446.0,601.2 451.9,592.9 457.0,588.0 L493.2,552.8 Z" fill="none" stroke="url(#hap10)" stroke-width="28" stroke-linejoin="round" filter="url(#b3)"/><path d="M493.2,552.8 L692.7,552.8 L731.0,588.0 C736.4,592.9 742.0,601.2 742.0,612.5 C742.0,623.8 736.4,632.4 731.0,637.0 L692.7,670.2 L493.2,670.2 L457.0,637.0 C451.9,632.4 446.0,623.8 446.0,612.5 C446.0,601.2 451.9,592.9 457.0,588.0 L493.2,552.8 Z" fill="none" stroke="url(#hbp10)" stroke-width="20" stroke-linejoin="round" filter="url(#b2)"/><path d="M493.2,552.8 L692.7,552.8 L731.0,588.0 C736.4,592.9 742.0,601.2 742.0,612.5 C742.0,623.8 736.4,632.4 731.0,637.0 L692.7,670.2 L493.2,670.2 L457.0,637.0 C451.9,632.4 446.0,623.8 446.0,612.5 C446.0,601.2 451.9,592.9 457.0,588.0 L493.2,552.8 Z" fill="none" stroke="url(#hcp10)" stroke-width="13" stroke-linejoin="round" filter="url(#b1)"/><path d="M428.0,531.0 L758.5,531.0 C758.5,578.6 765.5,590.0 765.5,613.0 C765.5,635.8 758.5,647.2 758.5,694.5 L428.0,694.5 C428.0,647.2 421.5,635.8 421.5,613.0 C421.5,590.0 428.0,578.6 428.0,531.0 Z" fill="url(#vor)"/></g><path d="M428.0,531.0 L758.5,531.0 C758.5,578.6 765.5,590.0 765.5,613.0 C765.5,635.8 758.5,647.2 758.5,694.5 L428.0,694.5 C428.0,647.2 421.5,635.8 421.5,613.0 C421.5,590.0 428.0,578.6 428.0,531.0 Z" fill="none" stroke="#0a0f70" stroke-width="0.8" stroke-opacity="0.6"/><path d="M493.2,552.8 L692.7,552.8 L731.0,588.0 C736.4,592.9 742.0,601.2 742.0,612.5 C742.0,623.8 736.4,632.4 731.0,637.0 L692.7,670.2 L493.2,670.2 L457.0,637.0 C451.9,632.4 446.0,623.8 446.0,612.5 C446.0,601.2 451.9,592.9 457.0,588.0 L493.2,552.8 Z" fill="none" stroke="#06301a" stroke-width="3.6" stroke-opacity="0.55" stroke-linejoin="round"/><path d="M493.2,552.8 L692.7,552.8 L731.0,588.0 C736.4,592.9 742.0,601.2 742.0,612.5 C742.0,623.8 736.4,632.4 731.0,637.0 L692.7,670.2 L493.2,670.2 L457.0,637.0 C451.9,632.4 446.0,623.8 446.0,612.5 C446.0,601.2 451.9,592.9 457.0,588.0 L493.2,552.8 Z" fill="url(#gp10)"/><g clip-path="url(#op10)"><path d="M447.0,613.0L449.0,606.0L456.0,603.0L510.0,602.9L560.0,605.0L600.0,606.5L640.0,604.0L700.0,602.9L732.0,603.5L739.0,608.0L740.0,613.0L739.0,618.0L732.0,622.5L700.0,623.1L640.0,621.0L600.0,619.0L560.0,620.0L510.0,623.1L456.0,623.0L449.0,620.0Z" fill="#cf1010" stroke="#cf1010" stroke-width="0.6" stroke-linejoin="round"/></g><path d="M493.2,552.8 L692.7,552.8 L731.0,588.0 C736.4,592.9 742.0,601.2 742.0,612.5 C742.0,623.8 736.4,632.4 731.0,637.0 L692.7,670.2 L493.2,670.2 L457.0,637.0 C451.9,632.4 446.0,623.8 446.0,612.5 C446.0,601.2 451.9,592.9 457.0,588.0 L493.2,552.8 Z" fill="url(#dkp10)"/><ellipse cx="541.4" cy="624.5" rx="33.8" ry="5.8" fill="#ffa048" opacity="0.6" filter="url(#b4)"/><ellipse cx="542.4" cy="625.0" rx="18.7" ry="4.0" fill="#fff8b8" opacity="0.92" filter="url(#b2h)"/><path d="M493.2,552.8 L692.7,552.8 L731.0,588.0 C736.4,592.9 742.0,601.2 742.0,612.5 C742.0,623.8 736.4,632.4 731.0,637.0 L692.7,670.2 L493.2,670.2 L457.0,637.0 C451.9,632.4 446.0,623.8 446.0,612.5 C446.0,601.2 451.9,592.9 457.0,588.0 L493.2,552.8 Z" fill="none" stroke="#2cb048" stroke-width="1.5" opacity="0.9"/><line x1="593.6" y1="552.8" x2="593.6" y2="670.2" stroke="#1a2a1a" stroke-width="1" opacity="0.7"/><line x1="448" y1="612.5" x2="740" y2="612.5" stroke="#3a0a0a" stroke-width="1" opacity="0.4"/></g><g><path d="M788.0,533.5 L1124.5,533.5 C1124.5,579.0 1126.0,590.0 1126.0,612.0 C1126.0,634.4 1124.5,645.6 1124.5,692.0 L788.0,692.0 C788.0,645.6 785.6,634.4 785.6,612.0 C785.6,590.0 788.0,579.0 788.0,533.5 Z" fill="#0a12c6"/><g clip-path="url(#cp11)"><path d="M860.0,555.4 L1052.9,555.4 L1095.6,588.8 C1101.6,593.5 1106.6,602.0 1106.6,613.3 C1106.6,624.6 1101.6,633.5 1095.6,637.8 L1052.9,668.4 L860.0,668.4 L818.3,637.8 C812.5,633.5 807.3,624.6 807.3,613.3 C807.3,602.0 812.5,593.5 818.3,588.8 L860.0,555.4 Z" fill="none" stroke="url(#hsp11)" stroke-width="48" stroke-linejoin="round" filter="url(#b3)"/><path d="M860.0,555.4 L1052.9,555.4 L1095.6,588.8 C1101.6,593.5 1106.6,602.0 1106.6,613.3 C1106.6,624.6 1101.6,633.5 1095.6,637.8 L1052.9,668.4 L860.0,668.4 L818.3,637.8 C812.5,633.5 807.3,624.6 807.3,613.3 C807.3,602.0 812.5,593.5 818.3,588.8 L860.0,555.4 Z" fill="none" stroke="url(#hap11)" stroke-width="28" stroke-linejoin="round" filter="url(#b3)"/><path d="M860.0,555.4 L1052.9,555.4 L1095.6,588.8 C1101.6,593.5 1106.6,602.0 1106.6,613.3 C1106.6,624.6 1101.6,633.5 1095.6,637.8 L1052.9,668.4 L860.0,668.4 L818.3,637.8 C812.5,633.5 807.3,624.6 807.3,613.3 C807.3,602.0 812.5,593.5 818.3,588.8 L860.0,555.4 Z" fill="none" stroke="url(#hbp11)" stroke-width="20" stroke-linejoin="round" filter="url(#b2)"/><path d="M860.0,555.4 L1052.9,555.4 L1095.6,588.8 C1101.6,593.5 1106.6,602.0 1106.6,613.3 C1106.6,624.6 1101.6,633.5 1095.6,637.8 L1052.9,668.4 L860.0,668.4 L818.3,637.8 C812.5,633.5 807.3,624.6 807.3,613.3 C807.3,602.0 812.5,593.5 818.3,588.8 L860.0,555.4 Z" fill="none" stroke="url(#hcp11)" stroke-width="13" stroke-linejoin="round" filter="url(#b1)"/><path d="M788.0,533.5 L1124.5,533.5 C1124.5,579.0 1126.0,590.0 1126.0,612.0 C1126.0,634.4 1124.5,645.6 1124.5,692.0 L788.0,692.0 C788.0,645.6 785.6,634.4 785.6,612.0 C785.6,590.0 788.0,579.0 788.0,533.5 Z" fill="url(#vor)"/></g><path d="M788.0,533.5 L1124.5,533.5 C1124.5,579.0 1126.0,590.0 1126.0,612.0 C1126.0,634.4 1124.5,645.6 1124.5,692.0 L788.0,692.0 C788.0,645.6 785.6,634.4 785.6,612.0 C785.6,590.0 788.0,579.0 788.0,533.5 Z" fill="none" stroke="#0a0f70" stroke-width="0.8" stroke-opacity="0.6"/><path d="M860.0,555.4 L1052.9,555.4 L1095.6,588.8 C1101.6,593.5 1106.6,602.0 1106.6,613.3 C1106.6,624.6 1101.6,633.5 1095.6,637.8 L1052.9,668.4 L860.0,668.4 L818.3,637.8 C812.5,633.5 807.3,624.6 807.3,613.3 C807.3,602.0 812.5,593.5 818.3,588.8 L860.0,555.4 Z" fill="none" stroke="#06301a" stroke-width="3.6" stroke-opacity="0.55" stroke-linejoin="round"/><path d="M860.0,555.4 L1052.9,555.4 L1095.6,588.8 C1101.6,593.5 1106.6,602.0 1106.6,613.3 C1106.6,624.6 1101.6,633.5 1095.6,637.8 L1052.9,668.4 L860.0,668.4 L818.3,637.8 C812.5,633.5 807.3,624.6 807.3,613.3 C807.3,602.0 812.5,593.5 818.3,588.8 L860.0,555.4 Z" fill="url(#gp11)"/><path d="M860.0,555.4 L1052.9,555.4 L1095.6,588.8 C1101.6,593.5 1106.6,602.0 1106.6,613.3 C1106.6,624.6 1101.6,633.5 1095.6,637.8 L1052.9,668.4 L860.0,668.4 L818.3,637.8 C812.5,633.5 807.3,624.6 807.3,613.3 C807.3,602.0 812.5,593.5 818.3,588.8 L860.0,555.4 Z" fill="url(#dkp11)"/><ellipse cx="905.5" cy="620.2" rx="33.8" ry="5.8" fill="#ffa048" opacity="0.6" filter="url(#b4)"/><ellipse cx="906.5" cy="620.7" rx="18.7" ry="4.0" fill="#fff8b8" opacity="0.92" filter="url(#b2h)"/><path d="M860.0,555.4 L1052.9,555.4 L1095.6,588.8 C1101.6,593.5 1106.6,602.0 1106.6,613.3 C1106.6,624.6 1101.6,633.5 1095.6,637.8 L1052.9,668.4 L860.0,668.4 L818.3,637.8 C812.5,633.5 807.3,624.6 807.3,613.3 C807.3,602.0 812.5,593.5 818.3,588.8 L860.0,555.4 Z" fill="none" stroke="#2cb048" stroke-width="1.5" opacity="0.9"/><line x1="956.5" y1="555.4" x2="956.5" y2="668.4" stroke="#1a2a1a" stroke-width="1" opacity="0.7"/><line x1="809.3" y1="613.3" x2="1104.6" y2="613.3" stroke="#3a0a0a" stroke-width="1" opacity="0.4"/></g><g><path d="M81.9,710.0 L403.0,710.0 C403.0,757.0 416.1,768.3 416.1,791.0 C416.1,813.7 403.0,825.0 403.0,872.0 L81.9,872.0 C81.9,825.0 68.2,813.7 68.2,791.0 C68.2,768.3 81.9,757.0 81.9,710.0 Z" fill="#0a12c6"/><g clip-path="url(#cp12)"><path d="M139.0,729.1 L345.5,729.1 L387.4,763.9 C393.3,768.8 394.9,778.5 394.9,790.9 C394.9,803.3 393.3,813.0 387.4,817.9 L345.5,852.6 L139.0,852.6 L96.6,817.9 C90.7,813.0 89.1,803.3 89.1,790.9 C89.1,778.5 90.7,768.8 96.6,763.9 L139.0,729.1 Z" fill="none" stroke="url(#hsp12)" stroke-width="48" stroke-linejoin="round" filter="url(#b3)"/><path d="M139.0,729.1 L345.5,729.1 L387.4,763.9 C393.3,768.8 394.9,778.5 394.9,790.9 C394.9,803.3 393.3,813.0 387.4,817.9 L345.5,852.6 L139.0,852.6 L96.6,817.9 C90.7,813.0 89.1,803.3 89.1,790.9 C89.1,778.5 90.7,768.8 96.6,763.9 L139.0,729.1 Z" fill="none" stroke="url(#hap12)" stroke-width="28" stroke-linejoin="round" filter="url(#b3)"/><path d="M139.0,729.1 L345.5,729.1 L387.4,763.9 C393.3,768.8 394.9,778.5 394.9,790.9 C394.9,803.3 393.3,813.0 387.4,817.9 L345.5,852.6 L139.0,852.6 L96.6,817.9 C90.7,813.0 89.1,803.3 89.1,790.9 C89.1,778.5 90.7,768.8 96.6,763.9 L139.0,729.1 Z" fill="none" stroke="url(#hbp12)" stroke-width="20" stroke-linejoin="round" filter="url(#b2)"/><path d="M139.0,729.1 L345.5,729.1 L387.4,763.9 C393.3,768.8 394.9,778.5 394.9,790.9 C394.9,803.3 393.3,813.0 387.4,817.9 L345.5,852.6 L139.0,852.6 L96.6,817.9 C90.7,813.0 89.1,803.3 89.1,790.9 C89.1,778.5 90.7,768.8 96.6,763.9 L139.0,729.1 Z" fill="none" stroke="url(#hcp12)" stroke-width="13" stroke-linejoin="round" filter="url(#b1)"/><path d="M81.9,710.0 L403.0,710.0 C403.0,757.0 416.1,768.3 416.1,791.0 C416.1,813.7 403.0,825.0 403.0,872.0 L81.9,872.0 C81.9,825.0 68.2,813.7 68.2,791.0 C68.2,768.3 81.9,757.0 81.9,710.0 Z" fill="url(#vor)"/></g><path d="M81.9,710.0 L403.0,710.0 C403.0,757.0 416.1,768.3 416.1,791.0 C416.1,813.7 403.0,825.0 403.0,872.0 L81.9,872.0 C81.9,825.0 68.2,813.7 68.2,791.0 C68.2,768.3 81.9,757.0 81.9,710.0 Z" fill="none" stroke="#0a0f70" stroke-width="0.8" stroke-opacity="0.6"/><path d="M139.0,729.1 L345.5,729.1 L387.4,763.9 C393.3,768.8 394.9,778.5 394.9,790.9 C394.9,803.3 393.3,813.0 387.4,817.9 L345.5,852.6 L139.0,852.6 L96.6,817.9 C90.7,813.0 89.1,803.3 89.1,790.9 C89.1,778.5 90.7,768.8 96.6,763.9 L139.0,729.1 Z" fill="none" stroke="#06301a" stroke-width="3.6" stroke-opacity="0.55" stroke-linejoin="round"/><path d="M139.0,729.1 L345.5,729.1 L387.4,763.9 C393.3,768.8 394.9,778.5 394.9,790.9 C394.9,803.3 393.3,813.0 387.4,817.9 L345.5,852.6 L139.0,852.6 L96.6,817.9 C90.7,813.0 89.1,803.3 89.1,790.9 C89.1,778.5 90.7,768.8 96.6,763.9 L139.0,729.1 Z" fill="url(#gp12)"/><path d="M139.0,729.1 L345.5,729.1 L387.4,763.9 C393.3,768.8 394.9,778.5 394.9,790.9 C394.9,803.3 393.3,813.0 387.4,817.9 L345.5,852.6 L139.0,852.6 L96.6,817.9 C90.7,813.0 89.1,803.3 89.1,790.9 C89.1,778.5 90.7,768.8 96.6,763.9 L139.0,729.1 Z" fill="url(#dkp12)"/><ellipse cx="184.5" cy="807.3" rx="35.1" ry="6.3" fill="#ffa048" opacity="0.6" filter="url(#b4)"/><ellipse cx="185.5" cy="807.8" rx="19.4" ry="4.4" fill="#fff8b8" opacity="0.92" filter="url(#b2h)"/><path d="M147.0,789.9L145.0,786.4L142.0,785.4L130.0,785.4L127.0,786.4L125.0,789.9L125.0,791.9L127.0,795.4L130.0,796.4L142.0,796.4L145.0,795.4L147.0,791.9Z" fill="#e4141c"/><path d="M336.0,789.9L338.0,786.4L341.0,785.4L353.0,785.4L356.0,786.4L358.0,789.9L358.0,791.9L356.0,795.4L353.0,796.4L341.0,796.4L338.0,795.4L336.0,791.9Z" fill="#e4141c"/><path d="M139.0,729.1 L345.5,729.1 L387.4,763.9 C393.3,768.8 394.9,778.5 394.9,790.9 C394.9,803.3 393.3,813.0 387.4,817.9 L345.5,852.6 L139.0,852.6 L96.6,817.9 C90.7,813.0 89.1,803.3 89.1,790.9 C89.1,778.5 90.7,768.8 96.6,763.9 L139.0,729.1 Z" fill="none" stroke="#2cb048" stroke-width="1.5" opacity="0.9"/><line x1="241.4" y1="729.1" x2="241.4" y2="852.6" stroke="#1a2a1a" stroke-width="1" opacity="0.7"/><line x1="91.1" y1="790.9" x2="392.9" y2="790.9" stroke="#3a0a0a" stroke-width="1" opacity="0.4"/></g><g><path d="M435.0,717.2 L762.5,717.2 C762.5,762.3 770.1,773.2 770.1,795.0 C770.1,817.4 762.5,828.6 762.5,875.0 L435.0,875.0 C435.0,828.6 427.5,817.4 427.5,795.0 C427.5,773.2 435.0,762.3 435.0,717.2 Z" fill="#0a12c6"/><g clip-path="url(#cp13)"><path d="M499.8,738.7 L698.2,738.7 L736.3,771.0 C741.6,775.5 747.3,784.2 747.3,795.5 C747.3,806.8 741.6,815.4 736.3,820.0 L698.2,853.0 L499.8,853.0 L456.0,820.0 C449.9,815.4 445.0,806.8 445.0,795.5 C445.0,784.2 449.9,775.5 456.0,771.0 L499.8,738.7 Z" fill="none" stroke="url(#hsp13)" stroke-width="48" stroke-linejoin="round" filter="url(#b3)"/><path d="M499.8,738.7 L698.2,738.7 L736.3,771.0 C741.6,775.5 747.3,784.2 747.3,795.5 C747.3,806.8 741.6,815.4 736.3,820.0 L698.2,853.0 L499.8,853.0 L456.0,820.0 C449.9,815.4 445.0,806.8 445.0,795.5 C445.0,784.2 449.9,775.5 456.0,771.0 L499.8,738.7 Z" fill="none" stroke="url(#hap13)" stroke-width="28" stroke-linejoin="round" filter="url(#b3)"/><path d="M499.8,738.7 L698.2,738.7 L736.3,771.0 C741.6,775.5 747.3,784.2 747.3,795.5 C747.3,806.8 741.6,815.4 736.3,820.0 L698.2,853.0 L499.8,853.0 L456.0,820.0 C449.9,815.4 445.0,806.8 445.0,795.5 C445.0,784.2 449.9,775.5 456.0,771.0 L499.8,738.7 Z" fill="none" stroke="url(#hbp13)" stroke-width="20" stroke-linejoin="round" filter="url(#b2)"/><path d="M499.8,738.7 L698.2,738.7 L736.3,771.0 C741.6,775.5 747.3,784.2 747.3,795.5 C747.3,806.8 741.6,815.4 736.3,820.0 L698.2,853.0 L499.8,853.0 L456.0,820.0 C449.9,815.4 445.0,806.8 445.0,795.5 C445.0,784.2 449.9,775.5 456.0,771.0 L499.8,738.7 Z" fill="none" stroke="url(#hcp13)" stroke-width="13" stroke-linejoin="round" filter="url(#b1)"/><path d="M435.0,717.2 L762.5,717.2 C762.5,762.3 770.1,773.2 770.1,795.0 C770.1,817.4 762.5,828.6 762.5,875.0 L435.0,875.0 C435.0,828.6 427.5,817.4 427.5,795.0 C427.5,773.2 435.0,762.3 435.0,717.2 Z" fill="url(#vor)"/></g><path d="M435.0,717.2 L762.5,717.2 C762.5,762.3 770.1,773.2 770.1,795.0 C770.1,817.4 762.5,828.6 762.5,875.0 L435.0,875.0 C435.0,828.6 427.5,817.4 427.5,795.0 C427.5,773.2 435.0,762.3 435.0,717.2 Z" fill="none" stroke="#0a0f70" stroke-width="0.8" stroke-opacity="0.6"/><path d="M499.8,738.7 L698.2,738.7 L736.3,771.0 C741.6,775.5 747.3,784.2 747.3,795.5 C747.3,806.8 741.6,815.4 736.3,820.0 L698.2,853.0 L499.8,853.0 L456.0,820.0 C449.9,815.4 445.0,806.8 445.0,795.5 C445.0,784.2 449.9,775.5 456.0,771.0 L499.8,738.7 Z" fill="none" stroke="#06301a" stroke-width="3.6" stroke-opacity="0.55" stroke-linejoin="round"/><path d="M499.8,738.7 L698.2,738.7 L736.3,771.0 C741.6,775.5 747.3,784.2 747.3,795.5 C747.3,806.8 741.6,815.4 736.3,820.0 L698.2,853.0 L499.8,853.0 L456.0,820.0 C449.9,815.4 445.0,806.8 445.0,795.5 C445.0,784.2 449.9,775.5 456.0,771.0 L499.8,738.7 Z" fill="url(#gp13)"/><g clip-path="url(#op13)"><path d="M440.0,783.0L490.0,783.0L520.0,785.5L560.0,787.2L598.0,790.5L640.0,787.2L660.0,786.0L700.0,783.0L760.0,783.0L760.0,808.4L700.0,807.6L640.0,805.0L598.0,801.2L560.0,804.8L520.0,806.5L490.0,808.4L440.0,808.4Z" fill="#cf1010" stroke="#cf1010" stroke-width="0.6" stroke-linejoin="round"/></g><path d="M499.8,738.7 L698.2,738.7 L736.3,771.0 C741.6,775.5 747.3,784.2 747.3,795.5 C747.3,806.8 741.6,815.4 736.3,820.0 L698.2,853.0 L499.8,853.0 L456.0,820.0 C449.9,815.4 445.0,806.8 445.0,795.5 C445.0,784.2 449.9,775.5 456.0,771.0 L499.8,738.7 Z" fill="url(#dkp13)"/><ellipse cx="547" cy="808.5" rx="33.8" ry="5.8" fill="#ffa048" opacity="0.6" filter="url(#b4)"/><ellipse cx="548" cy="809.0" rx="18.7" ry="4.0" fill="#fff8b8" opacity="0.92" filter="url(#b2h)"/><path d="M499.8,738.7 L698.2,738.7 L736.3,771.0 C741.6,775.5 747.3,784.2 747.3,795.5 C747.3,806.8 741.6,815.4 736.3,820.0 L698.2,853.0 L499.8,853.0 L456.0,820.0 C449.9,815.4 445.0,806.8 445.0,795.5 C445.0,784.2 449.9,775.5 456.0,771.0 L499.8,738.7 Z" fill="none" stroke="#2cb048" stroke-width="1.5" opacity="0.9"/><line x1="598.5" y1="738.7" x2="598.5" y2="853" stroke="#1a2a1a" stroke-width="1" opacity="0.7"/><line x1="447" y1="795.3" x2="745.3" y2="795.3" stroke="#3a0a0a" stroke-width="1" opacity="0.4"/></g><g><path d="M788.4,720.0 L1124.5,720.0 C1124.5,764.7 1126.0,775.4 1126.0,797.0 C1126.0,818.3 1124.5,829.0 1124.5,873.2 L788.4,873.2 C788.4,829.0 784.5,818.3 784.5,797.0 C784.5,775.4 788.4,764.7 788.4,720.0 Z" fill="#0a12c6"/><g clip-path="url(#cp14)"><path d="M861.4,743.2 L1051.5,743.2 L1091.5,772.9 C1097.1,777.1 1102.5,786.1 1102.5,797.4 C1102.5,808.7 1097.1,818.3 1091.5,821.9 L1051.5,847.5 L861.4,847.5 L816.0,821.9 C809.6,818.3 805.0,808.7 805.0,797.4 C805.0,786.1 809.6,777.1 816.0,772.9 L861.4,743.2 Z" fill="none" stroke="url(#hsp14)" stroke-width="48" stroke-linejoin="round" filter="url(#b3)"/><path d="M861.4,743.2 L1051.5,743.2 L1091.5,772.9 C1097.1,777.1 1102.5,786.1 1102.5,797.4 C1102.5,808.7 1097.1,818.3 1091.5,821.9 L1051.5,847.5 L861.4,847.5 L816.0,821.9 C809.6,818.3 805.0,808.7 805.0,797.4 C805.0,786.1 809.6,777.1 816.0,772.9 L861.4,743.2 Z" fill="none" stroke="url(#hap14)" stroke-width="28" stroke-linejoin="round" filter="url(#b3)"/><path d="M861.4,743.2 L1051.5,743.2 L1091.5,772.9 C1097.1,777.1 1102.5,786.1 1102.5,797.4 C1102.5,808.7 1097.1,818.3 1091.5,821.9 L1051.5,847.5 L861.4,847.5 L816.0,821.9 C809.6,818.3 805.0,808.7 805.0,797.4 C805.0,786.1 809.6,777.1 816.0,772.9 L861.4,743.2 Z" fill="none" stroke="url(#hbp14)" stroke-width="20" stroke-linejoin="round" filter="url(#b2)"/><path d="M861.4,743.2 L1051.5,743.2 L1091.5,772.9 C1097.1,777.1 1102.5,786.1 1102.5,797.4 C1102.5,808.7 1097.1,818.3 1091.5,821.9 L1051.5,847.5 L861.4,847.5 L816.0,821.9 C809.6,818.3 805.0,808.7 805.0,797.4 C805.0,786.1 809.6,777.1 816.0,772.9 L861.4,743.2 Z" fill="none" stroke="url(#hcp14)" stroke-width="13" stroke-linejoin="round" filter="url(#b1)"/><path d="M788.4,720.0 L1124.5,720.0 C1124.5,764.7 1126.0,775.4 1126.0,797.0 C1126.0,818.3 1124.5,829.0 1124.5,873.2 L788.4,873.2 C788.4,829.0 784.5,818.3 784.5,797.0 C784.5,775.4 788.4,764.7 788.4,720.0 Z" fill="url(#vor)"/></g><path d="M788.4,720.0 L1124.5,720.0 C1124.5,764.7 1126.0,775.4 1126.0,797.0 C1126.0,818.3 1124.5,829.0 1124.5,873.2 L788.4,873.2 C788.4,829.0 784.5,818.3 784.5,797.0 C784.5,775.4 788.4,764.7 788.4,720.0 Z" fill="none" stroke="#0a0f70" stroke-width="0.8" stroke-opacity="0.6"/><path d="M861.4,743.2 L1051.5,743.2 L1091.5,772.9 C1097.1,777.1 1102.5,786.1 1102.5,797.4 C1102.5,808.7 1097.1,818.3 1091.5,821.9 L1051.5,847.5 L861.4,847.5 L816.0,821.9 C809.6,818.3 805.0,808.7 805.0,797.4 C805.0,786.1 809.6,777.1 816.0,772.9 L861.4,743.2 Z" fill="none" stroke="#06301a" stroke-width="3.6" stroke-opacity="0.55" stroke-linejoin="round"/><path d="M861.4,743.2 L1051.5,743.2 L1091.5,772.9 C1097.1,777.1 1102.5,786.1 1102.5,797.4 C1102.5,808.7 1097.1,818.3 1091.5,821.9 L1051.5,847.5 L861.4,847.5 L816.0,821.9 C809.6,818.3 805.0,808.7 805.0,797.4 C805.0,786.1 809.6,777.1 816.0,772.9 L861.4,743.2 Z" fill="url(#gp14)"/><path d="M861.4,743.2 L1051.5,743.2 L1091.5,772.9 C1097.1,777.1 1102.5,786.1 1102.5,797.4 C1102.5,808.7 1097.1,818.3 1091.5,821.9 L1051.5,847.5 L861.4,847.5 L816.0,821.9 C809.6,818.3 805.0,808.7 805.0,797.4 C805.0,786.1 809.6,777.1 816.0,772.9 L861.4,743.2 Z" fill="url(#dkp14)"/><ellipse cx="897.2" cy="805.7" rx="33.8" ry="5.8" fill="#ffa048" opacity="0.6" filter="url(#b4)"/><ellipse cx="898.2" cy="806.2" rx="18.7" ry="4.0" fill="#fff8b8" opacity="0.92" filter="url(#b2h)"/><path d="M861.4,743.2 L1051.5,743.2 L1091.5,772.9 C1097.1,777.1 1102.5,786.1 1102.5,797.4 C1102.5,808.7 1097.1,818.3 1091.5,821.9 L1051.5,847.5 L861.4,847.5 L816.0,821.9 C809.6,818.3 805.0,808.7 805.0,797.4 C805.0,786.1 809.6,777.1 816.0,772.9 L861.4,743.2 Z" fill="none" stroke="#2cb048" stroke-width="1.5" opacity="0.9"/><line x1="955" y1="743.2" x2="955" y2="847.5" stroke="#1a2a1a" stroke-width="1" opacity="0.7"/><line x1="807" y1="797.4" x2="1100.5" y2="797.4" stroke="#3a0a0a" stroke-width="1" opacity="0.4"/></g>
<text x="24.5" y="101.5" font-family="Liberation Serif, serif" font-size="37" fill="#000">U</text><text x="29" y="282.6" font-family="Liberation Serif, serif" font-size="37" fill="#000">P</text><text x="28" y="448.7" font-family="Liberation Serif, serif" font-size="37" fill="#000">N</text><text x="6" y="625.1" font-family="Liberation Serif, serif" font-size="37" fill="#000">MH</text><text x="6" y="803.2" font-family="Liberation Serif, serif" font-size="37" fill="#000">MS</text><text x="96.8" y="912.6" font-family="Liberation Serif, serif" font-size="37.4" fill="#000">Core thickness 25</text><text x="476.4" y="912.6" font-family="Liberation Serif, serif" font-size="37.4" fill="#000">Core thickness 30</text><text x="843" y="912.6" font-family="Liberation Serif, serif" font-size="37.4" fill="#000">Core thickness 35</text>
<rect x="1306.8" y="38.40" width="28.1" height="52.3" fill="#ff0000"/><rect x="1306.8" y="90.33" width="28.1" height="52.3" fill="#ff6a00"/><rect x="1306.8" y="142.26" width="28.1" height="52.3" fill="#ffd800"/><rect x="1306.8" y="194.19" width="28.1" height="52.3" fill="#b0f400"/><rect x="1306.8" y="246.12" width="28.1" height="52.3" fill="#40f000"/><rect x="1306.8" y="298.05" width="28.1" height="52.3" fill="#00f040"/><rect x="1306.8" y="349.98" width="28.1" height="52.3" fill="#00f8b0"/><rect x="1306.8" y="401.91" width="28.1" height="52.3" fill="#00e0ff"/><rect x="1306.8" y="453.84" width="28.1" height="52.3" fill="#0068ff"/><rect x="1306.8" y="505.77" width="28.1" height="52.3" fill="#0000f8"/><text x="1281" y="38.2" text-anchor="end" font-family="Liberation Sans, sans-serif" font-weight="bold" font-size="31" fill="#111">2.700e+00</text><rect x="1288.6" y="41.2" width="18.2" height="3" fill="#111"/><text x="1281" y="90.1" text-anchor="end" font-family="Liberation Sans, sans-serif" font-weight="bold" font-size="31" fill="#111">2.430e+00</text><rect x="1288.6" y="93.1" width="18.2" height="3" fill="#111"/><text x="1281" y="142.1" text-anchor="end" font-family="Liberation Sans, sans-serif" font-weight="bold" font-size="31" fill="#111">2.160e+00</text><rect x="1288.6" y="145.1" width="18.2" height="3" fill="#111"/><text x="1281" y="194.0" text-anchor="end" font-family="Liberation Sans, sans-serif" font-weight="bold" font-size="31" fill="#111">1.890e+00</text><rect x="1288.6" y="197.0" width="18.2" height="3" fill="#111"/><text x="1281" y="245.9" text-anchor="end" font-family="Liberation Sans, sans-serif" font-weight="bold" font-size="31" fill="#111">1.620e+00</text><rect x="1288.6" y="248.9" width="18.2" height="3" fill="#111"/><text x="1281" y="297.8" text-anchor="end" font-family="Liberation Sans, sans-serif" font-weight="bold" font-size="31" fill="#111">1.350e+00</text><rect x="1288.6" y="300.8" width="18.2" height="3" fill="#111"/><text x="1281" y="349.8" text-anchor="end" font-family="Liberation Sans, sans-serif" font-weight="bold" font-size="31" fill="#111">1.080e+00</text><rect x="1288.6" y="352.8" width="18.2" height="3" fill="#111"/><text x="1281" y="401.7" text-anchor="end" font-family="Liberation Sans, sans-serif" font-weight="bold" font-size="31" fill="#111">8.100e-01</text><rect x="1288.6" y="404.7" width="18.2" height="3" fill="#111"/><text x="1281" y="453.6" text-anchor="end" font-family="Liberation Sans, sans-serif" font-weight="bold" font-size="31" fill="#111">5.400e-01</text><rect x="1288.6" y="456.6" width="18.2" height="3" fill="#111"/><text x="1281" y="505.6" text-anchor="end" font-family="Liberation Sans, sans-serif" font-weight="bold" font-size="31" fill="#111">2.700e-01</text><rect x="1288.6" y="508.6" width="18.2" height="3" fill="#111"/><text x="1281" y="557.5" text-anchor="end" font-family="Liberation Sans, sans-serif" font-weight="bold" font-size="31" fill="#111">0.000e+00</text><rect x="1288.6" y="560.5" width="18.2" height="3" fill="#111"/>
</svg>
</body></html>
